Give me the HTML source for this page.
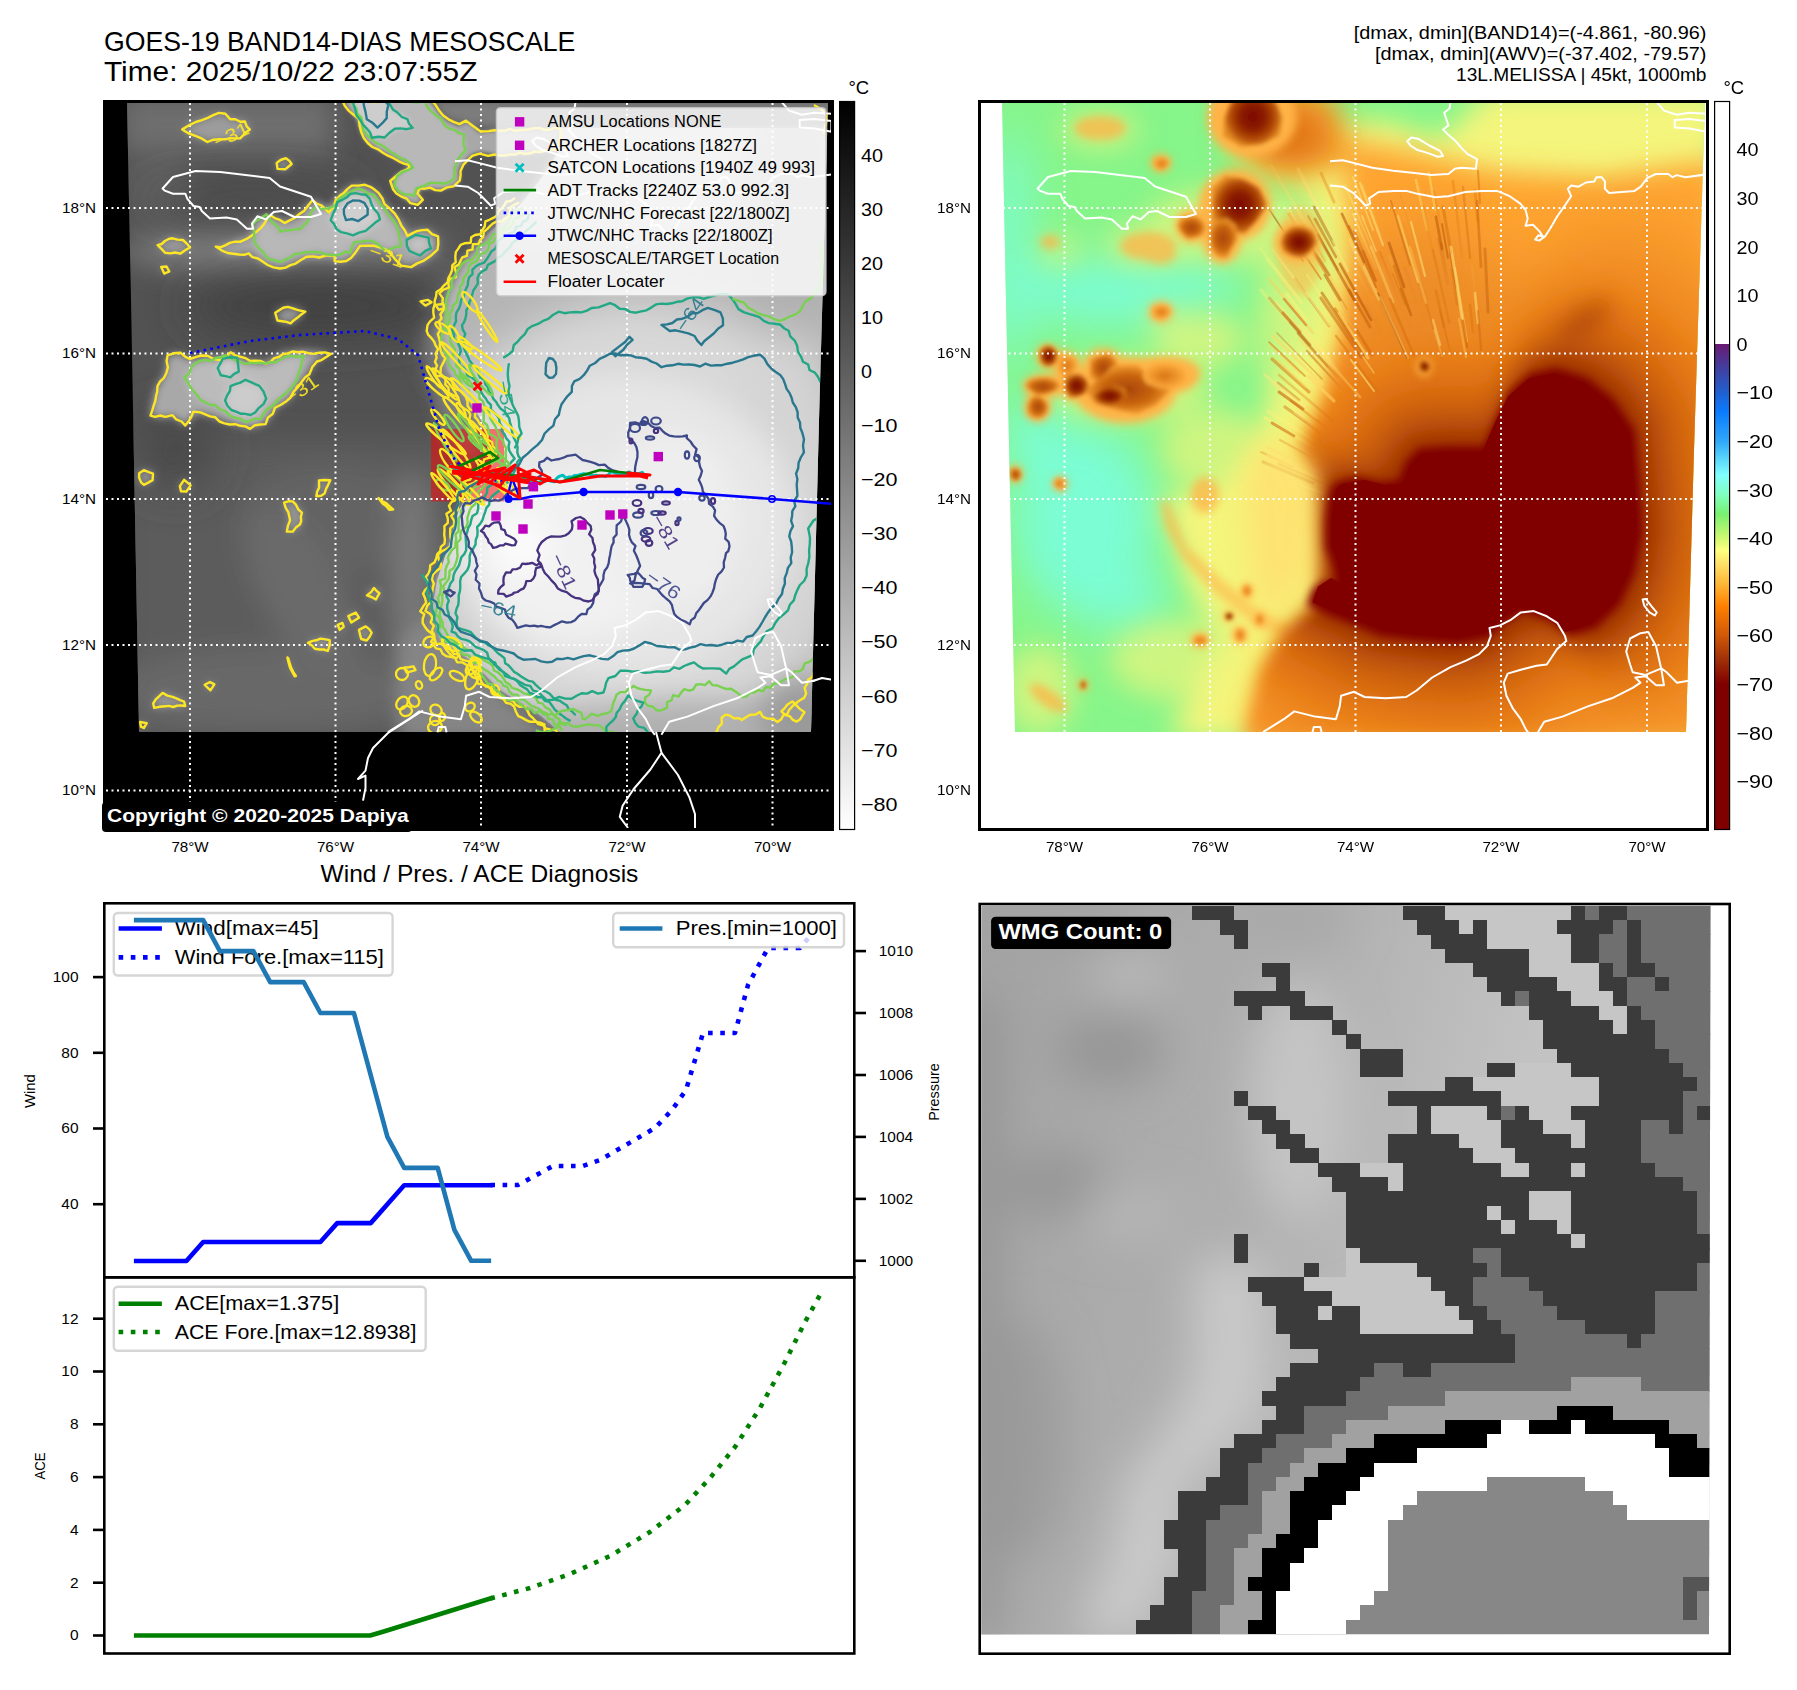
<!DOCTYPE html><html><head><meta charset="utf-8"><title>GOES-19 MESOSCALE</title>
<style>html,body{margin:0;padding:0;background:#fff}svg{display:block}text{font-family:"Liberation Sans",sans-serif}</style></head><body>
<svg width="1797" height="1690" viewBox="0 0 1797 1690">
<rect width="1797" height="1690" fill="#fff"/>
<text x="104.0" y="50.9" font-size="27.56" textLength="471.3" lengthAdjust="spacingAndGlyphs" fill="#000">GOES-19 BAND14-DIAS MESOSCALE</text>
<text x="104.0" y="80.9" font-size="27.56" textLength="373.4" lengthAdjust="spacingAndGlyphs" fill="#000">Time: 2025/10/22 23:07:55Z</text>
<text x="1353.7" y="39.1" font-size="18.34" textLength="352.8" lengthAdjust="spacingAndGlyphs" fill="#000">[dmax, dmin](BAND14)=(-4.861, -80.96)</text>
<text x="1374.9" y="59.9" font-size="18.34" textLength="331.6" lengthAdjust="spacingAndGlyphs" fill="#000">[dmax, dmin](AWV)=(-37.402, -79.57)</text>
<text x="1456.1" y="80.9" font-size="18.34" textLength="250.4" lengthAdjust="spacingAndGlyphs" fill="#000">13L.MELISSA | 45kt, 1000mb</text>
<text x="320.6" y="882.0" font-size="23.96" textLength="317.8" lengthAdjust="spacingAndGlyphs" fill="#000">Wind / Pres. / ACE Diagnosis</text>
<g id="p1">
<defs><clipPath id="c1"><path d="M127 103 L828 103 L819 420 L811 732 L139 732 L131 300 Z"/></clipPath>
<clipPath id="c1ax"><rect x="106" y="103" width="726" height="726"/></clipPath>
<linearGradient id="cb1" x1="0" y1="0" x2="0" y2="1"><stop offset="0" stop-color="#000"/><stop offset="1" stop-color="#fff"/></linearGradient></defs>
<rect x="104.5" y="101.5" width="728" height="728" fill="#000"/>
<g clip-path="url(#c1)">
<rect x="106" y="103" width="726" height="630" fill="#525252"/>
<g filter="url(#b14)" fill="#6b6b6b">
<rect x="120" y="95" width="215" height="58" fill="#6e6e6e"/>
<ellipse cx="285" cy="250" rx="165" ry="24" fill="#7a7a7a"/>
<ellipse cx="160" cy="190" rx="35" ry="30" fill="#626262"/>
<ellipse cx="455" cy="330" rx="28" ry="55" fill="#767676"/>
<rect x="120" y="440" width="340" height="300" fill="#5b5b5b"/>
<ellipse cx="330" cy="520" rx="90" ry="55" fill="#646464"/><ellipse cx="270" cy="690" rx="160" ry="45" fill="#686868"/><ellipse cx="300" cy="590" rx="40" ry="90" fill="#6a6a6a" transform="rotate(-30 300 590)"/>
<ellipse cx="412" cy="570" rx="22" ry="100" fill="#787878"/>
</g>
<g filter="url(#b22)" fill="#404040">
<ellipse cx="320" cy="306" rx="135" ry="30"/><ellipse cx="250" cy="200" rx="110" ry="16" fill="#484848"/><ellipse cx="175" cy="450" rx="40" ry="40" fill="#4a4a4a"/>
</g>
<g filter="url(#b8)" fill="#858585">
<polygon points="400.0,640.0 430.0,610.0 470.0,660.0 500.0,690.0 560.0,740.0 400.0,740.0 395.0,700.0"/>
<polygon points="428.0,330.0 470.0,300.0 500.0,330.0 500.0,430.0 470.0,470.0 445.0,440.0 430.0,380.0" fill="#7d7d7d"/>
</g>
<g filter="url(#b4)">
<polygon points="182.7,130.1 190.2,125.1 207.7,117.5 225.2,113.8 230.2,120.1 245.3,121.3 250.3,130.1 240.3,137.6 225.2,140.1 207.7,141.3 195.2,136.3" fill="#9c9c9c"/>
<polygon points="306.5,257.5 319.5,258.8 332.5,256.0 335.0,262.7 345.6,260.0 354.7,253.6 360.0,245.8 373.0,247.0 391.0,253.6 401.5,264.0 410.6,265.3 423.7,261.4 430.0,256.2 436.7,249.7 436.7,238.0 427.6,230.0 417.0,231.5 408.0,235.4 402.8,225.0 393.7,214.5 384.6,204.0 378.0,193.7 365.0,186.0 352.0,186.0 339.0,195.0 330.0,210.6 322.0,205.0 312.0,200.0 300.0,215.0 285.0,222.0 270.0,215.0 258.0,232.0 240.0,240.0 215.0,248.0 228.0,255.0 250.0,252.0 262.0,262.0 280.0,268.0 295.0,262.0" fill="#a6a6a6"/>
<polygon points="150.1,415.6 155.1,390.5 165.1,373.0 167.6,355.5 180.2,353.0 190.2,360.5 207.7,355.5 220.2,360.5 230.2,353.0 245.3,360.5 265.3,363.0 282.8,353.0 302.9,350.5 330.4,353.0 315.4,360.5 307.9,373.0 297.9,385.5 290.4,398.0 275.3,408.1 265.3,423.1 250.3,428.1 230.2,423.1 210.2,415.6 195.2,413.1 185.2,425.6 172.6,415.6 165.1,418.1" fill="#a8a8a8"/>
<polygon points="157.6,245.3 172.6,237.8 182.7,240.3 190.2,247.8 180.2,252.8 165.1,252.8" fill="#9a9a9a"/>
<polygon points="275.3,312.9 287.8,306.6 305.4,311.6 297.9,317.9 290.4,324.2 277.8,320.4" fill="#9a9a9a"/>
<polygon points="276.6,162.6 285.3,158.9 291.6,163.9 285.3,170.1 277.8,168.9" fill="#9a9a9a"/>
<polygon points="161.4,267.8 166.4,266.6 168.9,270.8 164.6,273.3" fill="#9a9a9a"/>
<polygon points="420.6,301.6 428.1,299.9 431.8,302.9 425.6,305.4" fill="#9a9a9a"/>
<polygon points="435.6,305.4 443.1,304.1 445.6,307.4 439.4,309.1" fill="#9a9a9a"/>
<polygon points="138.8,472.5 143.8,470.0 153.9,473.8 152.6,480.1 143.8,485.1 140.1,482.6" fill="#9a9a9a"/>
<polygon points="180.2,486.3 183.9,480.1 190.2,485.1 186.4,491.3 181.4,491.3" fill="#9a9a9a"/>
<polygon points="284.1,502.6 292.9,501.3 301.6,512.6 300.4,525.1 292.9,531.4 286.6,531.4 290.4,520.1 287.8,512.6" fill="#9a9a9a"/>
<polygon points="319.2,481.3 329.2,480.1 327.9,485.1 324.2,492.6 316.6,496.3 319.2,487.6" fill="#9a9a9a"/>
<polygon points="307.9,642.8 320.4,639.1 330.4,640.3 327.9,650.4 315.4,647.8" fill="#9a9a9a"/>
<polygon points="359.2,630.3 365.5,626.6 371.7,632.8 366.7,640.3 360.5,639.1" fill="#9a9a9a"/>
<polygon points="348.0,615.3 355.5,612.8 359.2,617.8 350.5,622.8" fill="#9a9a9a"/>
<polygon points="366.7,595.3 374.2,587.7 380.5,594.0 375.5,600.3" fill="#9a9a9a"/>
<polygon points="152.6,702.9 162.6,692.9 172.6,696.7 183.9,701.7 185.2,706.7 165.1,706.7 153.9,708.0" fill="#9a9a9a"/>
<polygon points="205.2,685.4 210.2,681.7 214.0,684.2 210.2,690.4" fill="#9a9a9a"/>
<polygon points="289.1,657.9 291.6,667.9 295.9,676.6 293.4,676.6 290.4,667.9 287.8,658.4" fill="#9a9a9a"/>
<polygon points="378.0,498.8 385.5,503.8 393.0,510.1 389.3,509.6 381.8,503.8" fill="#9a9a9a"/>
<polygon points="140.1,721.7 146.3,723.0 143.8,728.0 140.1,726.7" fill="#9a9a9a"/>
<polygon points="337.9,625.3 342.9,622.8 344.2,627.8 339.9,629.8" fill="#9a9a9a"/>
<polygon points="404.3,667.9 413.1,666.6 415.6,670.4 406.8,672.4" fill="#9a9a9a"/>
<polygon points="252.8,225.2 265.3,215.2 280.3,232.7 302.9,230.2 315.4,207.7 330.4,207.7 342.9,195.2 358.0,190.2 373.0,195.2 385.5,210.2 398.0,232.7 400.5,245.3 385.5,250.3 370.5,240.3 355.5,242.8 350.5,252.8 330.4,255.3 315.4,250.3 295.4,255.3 280.3,262.8 265.3,257.8 255.3,245.3" fill="#b8b8b8"/>
<polygon points="185.2,378.0 195.2,363.0 210.2,360.5 225.2,355.5 240.3,363.0 265.3,365.5 285.3,358.0 302.9,355.5 300.4,368.0 295.4,383.0 285.3,395.5 270.3,405.6 260.3,418.1 245.3,423.1 230.2,415.6 215.2,405.6 200.2,400.5 190.2,390.5" fill="#bbbbbb"/>
<polygon points="330.4,220.2 337.9,202.7 350.5,192.7 365.5,195.2 375.5,207.7 380.5,220.2 365.5,230.2 353.0,235.3 340.4,232.7" fill="#cfcfcf"/>
<polygon points="225.2,400.5 230.2,385.5 245.3,380.5 260.3,385.5 265.3,398.0 255.3,413.1 240.3,415.6 230.2,410.6" fill="#cccccc"/>
<polygon points="217.7,368.0 222.7,358.0 235.3,358.0 237.8,370.5 230.2,378.0 220.2,375.5" fill="#cccccc"/>
<polygon points="406.8,240.3 415.6,235.3 428.1,237.8 430.6,247.8 420.6,254.0 410.6,250.3" fill="#c4c4c4"/>
</g>
<defs><clipPath id="c1r"><polygon points="520.0,205.0 490.0,232.0 462.0,262.0 446.0,295.0 440.0,330.0 447.0,370.0 469.0,400.0 487.0,430.0 499.0,455.0 477.0,480.0 459.0,510.0 449.0,545.0 437.0,580.0 432.0,610.0 440.0,640.0 470.0,660.0 500.0,690.0 540.0,715.0 560.0,732.0 560.0,740.0 840.0,740.0 840.0,128.0 560.0,128.0 560.0,150.0 540.0,180.0"/></clipPath></defs>
<polygon points="430.0,100.0 447.0,120.0 473.0,126.0 500.0,130.0 560.0,128.0 840.0,128.0 840.0,100.0" fill="#7c7c7c" filter="url(#b4)"/>
<polygon points="343.0,100.0 349.5,110.4 357.3,119.5 361.0,132.5 367.7,143.0 378.0,149.5 388.5,154.7 399.0,161.0 409.3,165.0 408.0,169.0 396.3,175.5 391.0,180.7 393.7,188.5 401.5,196.3 410.6,202.8 417.0,204.0 422.4,200.0 418.5,193.7 419.8,189.8 430.0,188.5 440.6,189.8 453.6,186.0 460.0,180.7 458.8,170.3 462.7,163.8 471.8,154.7 479.6,152.0 488.8,153.4 500.0,156.0 560.0,150.0 560.0,128.0 500.0,130.0 488.8,131.0 479.6,132.5 473.0,126.0 466.6,122.0 458.8,126.0 447.0,120.8 438.0,111.7 430.0,100.0" fill="#a8a8a8" filter="url(#b2)"/>
<polygon points="350.0,100.0 360.0,118.0 366.0,135.0 380.0,146.0 400.0,157.0 412.0,166.0 398.0,176.0 395.0,186.0 404.0,195.0 414.0,196.0 416.0,188.0 430.0,184.0 445.0,185.0 455.0,178.0 453.0,168.0 458.0,160.0 466.0,150.0 464.0,135.0 455.0,130.0 445.0,125.0 436.0,115.0 425.0,100.0" fill="#b8b8b8" filter="url(#b2)"/>
<polygon points="352.0,100.0 362.0,125.0 372.0,138.0 385.0,138.0 395.0,130.0 412.0,128.0 408.0,118.0 392.0,110.0 385.0,100.0" fill="#cdcdcd" filter="url(#b2)"/>
<polygon points="520.0,205.0 490.0,232.0 462.0,262.0 446.0,295.0 440.0,330.0 447.0,370.0 469.0,400.0 487.0,430.0 499.0,455.0 477.0,480.0 459.0,510.0 449.0,545.0 437.0,580.0 432.0,610.0 440.0,640.0 470.0,660.0 500.0,690.0 540.0,715.0 560.0,732.0 560.0,740.0 840.0,740.0 840.0,128.0 560.0,128.0 560.0,150.0 540.0,180.0" fill="#b4b4b4" filter="url(#b4)"/>
<g clip-path="url(#c1r)">
<g filter="url(#b14)">
<ellipse cx="640" cy="170" rx="200" ry="80" fill="#c6c6c6"/>
<ellipse cx="790" cy="230" rx="50" ry="140" fill="#b0b0b0"/>
</g>
<g filter="url(#b22)">
<ellipse cx="640" cy="520" rx="225" ry="220" fill="#d8d8d8"/><ellipse cx="790" cy="500" rx="60" ry="170" fill="#d4d4d4"/>
</g>
<g filter="url(#b14)">
<ellipse cx="625" cy="525" rx="172" ry="150" fill="#e6e6e6"/>
<ellipse cx="575" cy="555" rx="105" ry="85" fill="#f1f1f1"/><ellipse cx="670" cy="520" rx="70" ry="90" fill="#eeeeee"/>
<ellipse cx="520" cy="545" rx="30" ry="30" fill="#fbfbfb"/>
</g>
<g filter="url(#b14)"><ellipse cx="700" cy="745" rx="200" ry="45" fill="#b0b0b0"/><ellipse cx="800" cy="720" rx="40" ry="40" fill="#9a9a9a"/></g>
</g>
</g>
<rect x="431" y="429" width="73" height="72.4" fill="#ff0000" fill-opacity="0.5"/>
<g clip-path="url(#c1ax)" stroke="#fff" stroke-width="2" stroke-dasharray="2 3.5" fill="none">
<line x1="190" x2="190" y1="103" y2="829"/>
<line x1="335.5" x2="335.5" y1="103" y2="829"/>
<line x1="481" x2="481" y1="103" y2="829"/>
<line x1="627" x2="627" y1="103" y2="829"/>
<line x1="772.5" x2="772.5" y1="103" y2="829"/>
<line x1="106" x2="832" y1="208" y2="208"/>
<line x1="106" x2="832" y1="353.5" y2="353.5"/>
<line x1="106" x2="832" y1="499" y2="499"/>
<line x1="106" x2="832" y1="645" y2="645"/>
<line x1="106" x2="832" y1="790.5" y2="790.5"/>
</g>
<g clip-path="url(#c1)" fill="none" stroke-linejoin="round" stroke-linecap="round">
<polygon points="182.2,129.4 190.0,124.8 195.8,122.0 201.9,120.1 207.8,117.9 213.3,115.2 218.9,112.9 225.3,113.7 230.3,119.2 235.4,119.2 240.2,121.7 244.9,121.5 246.7,126.3 249.9,129.6 244.8,133.2 240.4,138.3 235.2,138.4 230.0,138.1 225.2,139.4 219.3,139.3 213.5,139.7 207.4,142.0 201.6,138.4 195.4,135.9 188.8,133.5" stroke="#fde725" stroke-width="2.4"/>
<polygon points="306.6,256.7 313.2,256.4 319.2,257.5 325.6,255.6 334.7,255.2 334.6,261.1 340.4,261.8 346.3,261.0 351.0,258.0 354.7,253.6 360.0,245.9 366.6,245.7 373.5,245.7 379.7,247.3 385.7,249.5 390.8,253.8 395.4,259.6 401.3,265.6 411.1,267.1 417.2,263.4 423.3,260.9 430.1,256.3 437.5,249.7 438.3,243.8 438.1,236.4 432.0,234.1 427.6,229.8 422.2,230.1 416.8,231.1 407.3,235.8 404.9,230.4 401.6,226.1 398.6,219.4 394.8,213.6 389.9,208.6 384.5,204.1 382.3,198.2 378.5,192.9 374.5,189.6 370.4,186.8 365.0,184.8 358.5,185.6 351.7,185.6 347.6,188.9 343.9,192.9 340.0,195.6 335.7,200.0 334.1,206.0 328.8,212.4 321.7,205.7 316.5,203.5 312.4,200.3 308.3,205.2 304.6,210.4 299.5,213.9 295.1,217.6 290.2,220.1 284.5,223.1 279.9,219.9 274.6,218.1 270.8,215.5 266.8,219.1 264.3,223.7 261.0,227.8 257.5,230.8 252.2,235.2 246.7,238.9 240.6,241.7 235.0,241.7 229.9,242.9 225.2,245.4 220.3,247.3 215.7,246.6 222.0,250.6 227.7,253.0 233.4,253.8 239.1,254.5 244.8,254.7 248.8,253.4 252.4,257.2 258.1,258.5 262.2,261.3 267.7,265.0 273.5,267.4 280.2,268.5 285.6,267.6 290.5,265.2 295.6,263.6 300.9,260.0" stroke="#fde725" stroke-width="2.4"/>
<polygon points="150.5,415.6 152.1,410.8 153.6,405.8 155.3,401.0 156.1,395.9 157.2,391.7 157.5,386.1 160.0,381.7 163.8,378.0 166.3,373.2 167.9,367.4 166.6,361.3 167.6,355.3 173.7,353.3 180.4,352.7 185.1,356.7 189.8,359.0 195.5,357.1 201.4,355.5 207.6,355.8 213.6,359.0 219.9,360.1 225.6,357.3 230.6,352.3 235.3,355.4 240.8,356.9 245.6,358.2 250.3,361.0 255.4,360.8 260.5,360.9 265.7,363.6 270.5,361.9 274.2,358.2 279.2,356.8 283.0,354.0 288.0,353.4 292.8,351.4 298.0,352.3 302.8,351.7 308.2,353.1 313.7,353.9 319.3,352.7 324.9,352.4 330.9,353.9 326.2,357.0 321.5,360.1 317.0,361.5 312.3,367.1 309.4,374.2 305.0,377.5 301.8,381.8 298.8,386.1 293.7,391.6 290.3,397.9 285.6,401.8 280.5,405.0 274.9,407.8 272.9,413.7 267.9,417.6 265.6,424.1 260.2,424.5 254.9,425.3 250.1,428.9 245.4,426.4 240.2,425.8 235.3,424.2 229.7,424.5 224.4,423.3 219.4,421.5 215.3,417.3 210.1,416.4 205.3,414.4 200.5,412.4 193.4,411.6 191.3,416.8 188.5,421.4 185.2,425.5 181.6,421.5 176.3,419.5 172.5,415.2 165.3,416.9 160.4,415.5 155.0,416.9" stroke="#fde725" stroke-width="2.4"/>
<polygon points="342.2,100.5 344.9,106.0 348.9,110.9 353.6,114.7 359.0,119.0 359.6,125.9 361.3,132.3 363.8,138.1 367.7,143.0 372.4,147.0 378.1,149.3 382.9,152.8 387.9,155.7 393.6,158.2 398.9,161.3 403.9,163.7 409.8,165.2 408.1,169.1 401.7,171.5 396.5,175.7 390.2,181.0 393.0,189.2 396.4,193.6 401.3,196.6 406.7,198.7 410.5,203.2 417.7,204.9 422.8,199.8 417.5,193.4 419.6,188.3 424.8,188.7 430.1,187.6 435.2,190.1 440.8,190.6 447.0,187.4 453.7,186.2 459.7,180.7 460.6,175.4 460.5,171.3 463.5,164.6 468.0,160.0 472.2,155.9 479.4,153.6 488.2,155.8 494.4,154.5 499.9,155.5 505.0,155.5 509.9,154.4 515.0,154.5 519.9,152.7 525.0,154.0 530.0,153.3 534.9,151.5 540.0,152.0 544.9,150.9 549.9,149.7 554.9,149.7 558.4,150.0 558.2,144.5 560.2,139.0 560.7,133.5 560.0,129.2 555.0,127.9 550.0,129.7 545.0,129.8 540.0,128.1 535.0,128.1 530.0,129.2 525.0,129.7 520.0,130.0 515.1,131.0 510.0,128.9 505.0,130.8 500.1,130.8 494.4,130.2 488.8,131.1 480.6,131.5 473.0,126.0 465.9,120.6 459.6,124.1 453.6,121.8 448.5,119.3 443.2,115.5 439.3,110.8 435.5,104.8 430.0,98.9 424.9,99.5 419.8,99.1 414.6,99.8 409.5,101.2 404.4,99.9 399.3,100.7 394.2,100.4 389.1,99.3 383.9,100.7 378.8,101.9 373.7,102.3 368.6,101.0 363.5,101.0 358.4,101.3 353.2,100.9 348.1,99.1" stroke="#fde725" stroke-width="2.4"/>
<polygon points="252.4,224.8 256.1,220.8 260.9,218.3 266.5,214.2 269.6,219.1 273.5,223.4 278.0,227.1 280.2,231.8 285.7,230.1 291.5,230.2 297.0,228.8 300.7,229.0 304.0,225.0 308.0,221.3 309.4,216.2 311.6,211.5 315.4,207.3 320.4,208.9 325.4,208.6 330.5,207.8 335.7,204.7 338.4,199.0 343.2,196.0 347.9,193.3 352.6,190.7 358.6,188.4 363.5,190.3 368.0,193.6 373.7,194.6 377.4,200.0 381.1,205.4 385.7,210.1 388.0,214.7 391.7,218.6 394.9,222.7 397.4,227.2 398.6,232.6 399.8,238.9 400.8,246.1 395.6,247.2 390.6,248.9 385.1,250.9 380.8,246.5 376.0,242.8 370.5,240.6 365.5,241.0 360.5,241.8 354.3,242.2 351.7,247.1 350.4,252.7 345.2,251.8 340.5,254.4 335.5,255.1 330.6,254.7 325.2,254.4 320.3,252.4 315.8,252.0 310.5,251.9 305.2,252.2 300.2,253.5 294.7,253.9 290.2,257.6 285.0,259.6 280.6,262.1 275.5,260.5 270.4,259.3 266.2,257.0 263.6,252.3 259.5,248.8 256.4,245.1 253.9,240.4 254.2,235.2 254.0,230.2" stroke="#7ad151" stroke-width="2.4"/>
<polygon points="184.4,377.5 189.3,373.5 191.3,367.6 195.2,363.3 200.0,361.0 205.0,359.9 210.5,361.2 215.1,358.3 220.3,357.3 225.2,355.4 230.3,357.8 235.3,360.4 240.4,361.9 245.2,364.0 250.4,362.9 255.4,363.1 260.5,362.7 264.6,363.6 269.8,362.3 275.5,362.2 280.3,359.7 285.2,356.7 291.0,355.7 297.1,357.0 303.8,355.7 301.8,361.8 300.8,368.1 298.5,372.9 297.4,378.1 295.0,382.8 291.9,387.1 288.2,391.0 284.4,394.2 279.7,397.9 275.6,402.6 271.6,406.6 266.6,409.4 263.4,413.7 260.6,418.9 255.0,418.8 250.0,420.7 245.8,422.0 241.1,418.9 235.4,417.8 230.1,415.8 225.8,411.3 219.9,409.4 215.4,405.1 209.9,404.8 205.2,402.2 200.7,400.1 196.5,394.3 192.1,389.7 188.8,383.8" stroke="#7ad151" stroke-width="2.4"/>
<polygon points="350.1,99.9 352.9,104.3 356.2,108.3 357.2,113.7 361.3,117.5 362.7,123.4 363.2,129.6 366.5,134.3 370.9,138.4 375.2,142.5 380.7,144.8 385.5,147.8 390.0,151.5 395.1,154.1 399.6,157.5 404.4,159.4 408.7,162.0 413.1,167.6 407.9,170.2 402.2,172.0 397.3,175.8 395.3,180.6 394.8,186.2 398.8,191.2 404.1,194.3 409.1,194.4 414.0,196.0 416.2,188.7 423.0,186.1 430.1,182.8 435.1,182.9 440.1,183.0 444.1,183.7 450.0,181.6 454.1,178.2 454.7,172.9 454.4,168.9 457.6,159.7 461.5,154.6 465.6,150.1 463.6,145.2 463.5,140.2 464.3,134.4 459.1,133.3 454.9,130.2 449.4,128.7 444.7,125.3 441.2,119.3 435.7,115.2 430.9,111.1 426.8,106.4 425.0,101.1 420.0,102.2 415.0,102.5 410.0,101.4 405.0,99.4 400.0,99.9 395.0,100.3 390.0,99.7 385.0,101.1 380.0,100.4 375.0,101.3 370.0,100.3 365.0,98.7 360.0,100.7 355.0,100.2" stroke="#7ad151" stroke-width="2.4"/>
<polygon points="330.6,220.3 332.8,214.3 335.6,208.6 337.4,202.0 342.4,199.8 347.1,197.1 350.3,193.9 355.5,193.1 360.5,194.2 366.0,194.8 369.7,198.6 371.5,204.0 373.6,208.5 378.3,213.8 380.0,219.4 375.0,222.8 370.4,226.8 365.7,230.8 359.1,232.6 353.0,235.3 346.8,233.4 341.1,232.2 336.5,229.0 334.1,224.1" stroke="#22a884" stroke-width="2.4"/>
<polygon points="225.1,400.5 227.0,395.6 229.9,391.0 230.5,386.2 235.4,384.2 240.4,382.6 245.5,379.8 250.4,381.8 255.2,384.1 259.3,385.9 263.5,391.5 266.2,398.6 263.5,404.1 258.7,408.1 255.2,412.5 250.5,415.0 245.1,413.8 241.2,413.8 236.0,411.6 231.4,410.0 227.4,405.7" stroke="#22a884" stroke-width="2.4"/>
<polygon points="217.7,368.0 220.6,363.2 222.7,358.8 229.0,357.3 237.2,357.6 238.0,363.9 238.8,371.6 233.9,374.1 230.4,377.3 225.4,376.1 220.8,375.3" stroke="#22a884" stroke-width="2.4"/>
<polygon points="352.7,99.7 353.8,105.1 355.4,110.3 356.6,115.6 360.2,119.9 362.8,124.4 366.6,128.3 370.1,132.6 372.0,137.8 378.5,136.7 384.6,137.5 389.2,133.0 394.8,128.7 400.6,128.4 406.4,129.2 412.6,127.8 408.9,123.4 407.4,119.2 401.8,117.0 397.4,112.5 392.9,109.4 389.8,104.1 385.0,98.1 379.5,98.2 374.0,97.6 368.5,97.7 363.0,99.5 357.5,98.6" stroke="#22a884" stroke-width="2.4"/>
<polygon points="363.2,99.6 364.0,106.0 365.6,112.1 366.8,119.2 372.9,123.1 377.5,127.6 382.3,123.2 386.7,118.1 386.8,111.5 388.4,104.7 384.0,100.1 378.5,99.2 373.0,100.8 367.5,101.3" stroke="#2a788e" stroke-width="2.4"/>
<polygon points="343.8,208.9 347.5,203.4 352.9,200.5 359.4,200.6 364.4,202.9 367.7,208.8 367.6,214.7 362.4,218.2 358.3,221.1 352.2,219.0 346.0,220.1 344.0,214.0" stroke="#2a788e" stroke-width="2.4"/>
<polygon points="406.6,239.9 411.0,237.5 415.7,234.8 421.9,236.1 428.6,237.6 429.1,242.8 430.9,248.3 425.5,250.8 420.0,255.5 415.1,253.5 409.3,250.8 406.9,245.9" stroke="#22a884" stroke-width="2.4"/>
<polygon points="157.6,245.2 161.7,244.0 164.9,241.0 168.6,239.0 172.5,238.3 177.5,239.6 182.9,240.0 186.8,243.6 190.0,247.4 185.1,250.2 180.2,253.7 175.1,252.5 170.1,253.4 165.1,252.8 161.5,248.9" stroke="#fde725" stroke-width="2.4"/>
<polygon points="275.2,312.7 279.2,310.2 283.2,307.8 287.8,306.9 292.1,308.2 296.5,309.7 300.9,310.8 305.4,311.6 301.3,314.4 297.6,317.6 293.6,320.4 290.6,323.4 286.5,321.9 282.1,321.2 277.4,320.5" stroke="#fde725" stroke-width="2.4"/>
<polygon points="276.7,162.9 280.6,160.0 285.9,158.2 289.1,160.6 291.7,164.0 288.3,166.8 285.5,169.2 277.5,168.9" stroke="#fde725" stroke-width="2.4"/>
<polygon points="161.2,266.9 166.5,266.5 169.3,271.5 164.2,273.6" stroke="#fde725" stroke-width="2.4"/>
<polygon points="420.5,301.4 428.1,299.9 431.6,302.2 425.4,305.6" stroke="#fde725" stroke-width="2.4"/>
<polygon points="435.5,304.9 443.3,304.0 445.9,308.3 438.7,309.7" stroke="#fde725" stroke-width="2.4"/>
<polygon points="139.2,473.2 143.8,470.2 148.7,472.2 153.0,473.6 152.6,480.1 148.2,482.6 143.9,484.9 141.1,482.4 139.1,477.6" stroke="#fde725" stroke-width="2.4"/>
<polygon points="179.9,486.2 184.1,479.8 187.2,482.4 190.6,485.3 186.4,491.5 181.1,491.4" stroke="#fde725" stroke-width="2.4"/>
<polygon points="284.1,502.7 288.4,501.3 292.8,501.4 296.1,504.9 298.2,509.3 301.9,512.6 300.8,516.7 301.2,521.0 299.9,524.6 295.9,527.4 292.9,531.6 286.8,531.5 288.0,525.6 290.1,520.2 288.4,512.4 285.6,507.7" stroke="#fde725" stroke-width="2.4"/>
<polygon points="319.0,480.4 324.1,480.0 330.3,480.3 328.0,485.1 326.1,488.8 324.6,493.4 321.0,495.7 316.3,496.2 317.1,491.7 319.1,487.6" stroke="#fde725" stroke-width="2.4"/>
<polygon points="307.9,642.8 311.9,641.1 316.2,640.3 320.5,638.6 325.5,639.4 329.7,640.1 329.6,645.4 327.8,650.9 323.7,649.5 319.4,649.5 314.8,648.8 311.7,645.3" stroke="#fde725" stroke-width="2.4"/>
<polygon points="359.0,629.9 365.7,626.4 369.2,629.1 371.6,632.7 369.6,636.8 366.7,640.5 361.2,639.0 360.1,634.7" stroke="#fde725" stroke-width="2.4"/>
<polygon points="348.3,616.2 355.8,612.6 359.1,617.6 354.8,620.2 351.3,622.5" stroke="#fde725" stroke-width="2.4"/>
<polygon points="366.9,595.4 371.1,592.1 374.0,588.0 376.9,591.3 379.5,593.2 377.4,596.7 375.9,599.5 371.6,597.0" stroke="#fde725" stroke-width="2.4"/>
<polygon points="153.2,703.5 155.8,699.4 159.3,696.2 162.6,692.9 167.3,695.6 172.5,696.9 176.4,698.4 180.1,700.2 184.1,701.7 185.2,706.0 181.2,705.5 177.2,705.6 173.1,707.0 169.1,705.9 165.1,706.2 159.4,706.8 154.2,707.9" stroke="#fde725" stroke-width="2.4"/>
<polygon points="204.7,684.8 210.0,682.0 214.4,684.4 210.4,690.3" stroke="#fde725" stroke-width="2.4"/>
<polygon points="288.2,658.1 289.7,663.0 291.3,668.0 293.5,672.4 295.9,676.0 294.6,676.2 292.4,672.1 290.1,667.9 288.7,663.2 287.4,657.4" stroke="#fde725" stroke-width="2.4"/>
<polygon points="378.5,498.1 381.9,501.1 386.2,503.0 389.7,506.5 393.1,509.5 389.2,509.7 386.1,506.0 382.4,503.4" stroke="#fde725" stroke-width="2.4"/>
<polygon points="140.1,721.9 146.8,723.2 143.8,728.0 141.0,726.7" stroke="#fde725" stroke-width="2.4"/>
<polygon points="337.7,624.8 342.4,622.9 343.7,626.7 339.7,629.9" stroke="#fde725" stroke-width="2.4"/>
<polygon points="404.2,667.5 408.7,667.2 413.5,666.4 415.5,670.1 411.2,671.3 406.6,672.5" stroke="#fde725" stroke-width="2.4"/>
<polyline points="514.2,198.5 510.8,200.9 506.1,201.8 504.1,205.6 501.4,208.7 498.2,211.3 496.7,215.7 493.2,217.9 489.5,219.8 485.4,221.4 484.7,226.5 482.2,230.0 480.4,234.2 475.0,235.0 471.2,237.3 470.7,242.7 465.0,243.2 460.6,244.9 458.3,248.6 455.8,252.1 455.3,257.2 455.7,262.2 452.3,265.4 452.1,270.2 450.4,274.2 448.4,278.1 447.5,282.5 443.8,285.6 441.1,289.1 436.5,292.1 436.1,296.3 434.8,300.4 434.6,304.7 433.3,308.8 433.4,313.2 434.2,317.7 430.1,321.3 427.5,325.2 426.7,330.9 428.1,334.7 431.5,338.2 434.2,341.7 435.6,345.5 438.1,349.2 435.6,353.7 436.7,357.5 435.0,361.9 437.1,365.6 435.2,370.0 435.7,375.6 442.0,376.4 445.6,379.1 445.3,384.7 448.4,387.7 448.8,392.8 453.0,395.1 458.0,396.8 459.2,401.3 460.2,405.8 464.2,408.4 468.3,410.9 470.3,414.7 469.1,420.4 470.5,424.5 475.6,426.5 478.7,429.6 482.2,432.5 485.3,435.8 484.2,441.5 487.8,444.5 488.8,449.0 490.8,453.8 488.9,457.9 484.2,459.3 483.0,463.9 478.7,465.7 477.4,470.3 474.0,472.9 472.1,476.1 470.1,479.7 464.4,481.1 461.2,484.0 461.1,488.7 457.1,491.1 457.4,496.1 455.7,499.8 451.4,502.1 449.0,506.0 451.0,510.8 446.4,513.8 447.8,518.5 447.8,522.9 444.4,526.2 444.5,530.5 444.2,534.8 444.9,539.3 444.5,543.7 440.9,546.9 440.2,551.0 437.1,554.4 436.2,558.4 434.6,562.3 430.2,565.2 429.9,569.5 428.6,573.4 425.5,577.3 428.0,581.9 429.2,586.3 425.1,589.8 423.1,593.7 425.1,598.2 426.2,602.6 423.3,606.3 420.3,611.2 424.3,614.3 422.7,618.9 422.7,623.1 424.8,626.7 427.5,630.2 431.3,633.3 434.3,636.6 431.1,641.7 433.5,644.5 436.0,648.3 440.5,649.3 442.6,653.7 446.1,656.1 450.6,656.9 455.0,657.9 457.2,662.2 462.2,662.4 466.4,664.8 468.2,669.0 469.3,673.9 472.3,677.0 476.7,678.6 477.8,683.6 482.8,684.6 487.6,685.8 490.6,688.8 492.9,692.6 496.4,693.9 500.2,696.0 503.4,699.1 506.1,702.9 510.7,703.8 514.1,706.5 515.9,711.7 518.3,716.1 522.3,717.9 526.1,720.1 530.1,721.8 535.5,721.6 540.2,722.6 544.4,724.3 544.6,730.5 547.0,734.2 548.7,738.7 554.2,738.9" stroke="#fde725" stroke-width="2.4"/>
<polyline points="518.1,202.9 514.4,204.8 510.9,207.0 509.9,212.0 508.6,216.5 504.9,218.5 502.0,221.3 496.7,221.5 493.0,223.4 490.0,226.1 487.1,229.1 483.8,231.8 483.2,236.9 480.2,239.8 478.6,243.9 472.9,244.3 472.5,249.6 467.5,250.6 466.9,255.8 462.4,257.3 460.5,260.8 458.8,264.6 454.5,267.1 456.1,272.5 455.9,277.1 450.0,278.9 448.3,282.7 449.0,287.6 443.4,289.6 439.4,293.4 442.8,298.1 442.5,302.2 443.8,306.5 443.1,310.5 440.4,314.2 441.6,318.5 438.5,322.1 440.6,326.5 440.7,329.4 437.8,334.1 439.1,338.1 440.0,342.2 439.8,346.5 440.7,350.6 442.1,354.6 445.4,358.2 443.2,362.9 440.8,367.5 440.5,373.8 443.8,376.6 448.3,378.5 451.9,381.1 453.3,385.3 455.2,389.1 460.3,390.6 463.6,393.4 465.9,396.9 467.5,401.1 467.6,406.1 470.3,409.5 475.4,411.5 474.9,416.9 477.8,420.2 479.8,424.0 483.6,426.8 485.6,430.8 487.7,434.6 487.4,439.5 492.0,442.0 492.9,446.4 496.3,449.4 496.1,454.5 495.6,459.4 493.0,462.4 490.0,465.2 485.8,466.7 485.0,471.4 481.4,473.6 479.5,477.3 477.2,479.8 473.8,483.0 468.3,484.9 466.9,489.2 462.5,491.8 463.3,497.5 458.6,499.8 458.1,504.7 457.9,509.3 454.5,512.6 451.1,515.8 454.3,521.0 454.0,525.1 450.2,528.3 450.2,532.5 450.4,536.8 451.4,541.4 451.2,545.8 446.8,548.7 441.7,551.3 438.1,554.4 438.6,559.0 441.1,564.2 440.1,568.2 436.1,571.2 433.1,574.5 431.9,578.9 433.8,583.7 432.7,588.1 432.1,592.5 430.5,596.8 431.6,601.5 427.5,605.4 425.4,611.1 430.2,614.1 432.5,617.7 430.7,622.5 433.8,625.8 431.9,630.6 434.0,634.3 434.5,638.4 436.2,643.9 441.3,643.7 445.3,645.0 449.1,646.6 451.3,650.8 453.9,654.1 458.9,654.0 460.5,659.0 464.5,660.3 469.1,661.3 472.0,664.4 472.4,670.0 475.9,672.5 478.9,675.6 480.5,679.9 482.6,683.8 486.0,686.5 490.8,687.7 494.0,690.5 496.3,695.3 499.8,697.8 504.1,699.1 508.9,699.6 513.1,701.0 515.8,704.8 519.5,706.9 525.0,706.2 527.4,710.6 529.6,715.1 532.9,718.0 535.4,720.8 538.3,724.1 542.9,725.3 545.9,728.5 550.7,729.6 556.0,730.0 558.1,734.3" stroke="#fde725" stroke-width="2.4"/>
<polyline points="522.8,208.2 518.8,209.7 515.3,211.8 511.4,213.5 510.2,218.2 508.1,221.8 505.9,225.4 503.0,228.2 498.3,229.0 496.5,233.0 492.8,234.8 490.8,238.5 488.2,241.6 485.0,244.1 480.4,245.4 477.5,248.2 476.9,253.2 474.4,256.4 472.2,259.9 467.0,260.6 462.9,263.0 460.2,266.6 457.8,270.4 455.9,274.5 453.1,278.1 451.4,282.2 452.1,287.5 448.8,290.9 447.7,295.7 446.2,299.8 446.0,304.2 446.3,308.6 446.4,313.0 445.8,317.3 445.8,321.7 446.4,326.2 442.8,330.0 442.1,334.6 441.1,339.2 442.4,343.4 444.2,347.6 444.5,352.0 448.1,355.8 447.7,360.3 449.0,364.5 451.1,367.9 454.2,370.7 455.6,374.7 458.6,377.5 460.5,381.2 462.0,385.1 464.8,388.1 468.5,390.4 470.1,394.3 473.3,397.3 475.9,400.8 478.6,404.4 480.3,408.5 483.6,411.6 483.8,416.6 483.6,421.9 487.0,425.0 488.4,429.1 488.7,433.7 493.8,436.0 497.0,439.2 496.4,444.1 496.7,448.7 498.5,452.5 502.5,456.1 499.8,459.4 495.2,461.2 491.4,463.6 488.3,466.6 487.7,471.8 483.6,474.0 481.9,478.2 478.3,481.1 478.2,486.0 473.4,488.2 471.5,492.0 468.9,495.4 468.7,500.4 465.8,503.6 463.4,507.2 461.0,511.0 460.9,515.1 458.6,518.6 458.7,522.8 458.5,526.9 458.6,531.1 455.5,534.4 456.2,538.8 455.5,542.8 455.4,547.1 451.8,550.2 449.6,553.8 447.9,557.5 448.8,562.2 446.8,565.8 445.5,569.7 445.5,574.0 445.3,578.3 439.7,580.7 441.0,585.2 440.5,589.4 440.1,593.6 437.9,597.5 439.0,602.0 437.3,606.0 436.5,609.5 435.2,614.1 439.1,617.4 440.1,621.5 440.3,625.8 438.5,630.5 440.3,634.4 442.1,638.6 445.5,641.6 450.0,642.7 454.9,643.3 458.0,646.7 460.1,651.5 463.5,654.5 468.3,655.1 471.3,658.3 473.3,662.3 477.9,663.7 480.6,667.0 484.2,669.3 488.0,671.5 491.3,674.3 494.7,676.8 497.4,680.1 501.4,682.1 503.2,685.5 507.4,686.9 509.4,691.7 512.6,694.6 517.7,694.6 519.9,699.0 524.4,699.9 527.7,702.7 531.0,705.5 535.0,707.2 539.0,708.9 542.5,711.6 546.8,713.4 548.2,718.6 553.0,719.8 554.7,724.5 559.3,726.0 561.9,729.7" stroke="#7ad151" stroke-width="2.4"/>
<polyline points="527.3,213.1 522.8,214.7 519.0,217.1 514.4,218.7 512.6,223.4 510.2,227.3 505.8,229.1 502.2,231.7 499.8,235.7 495.8,237.9 493.4,241.7 489.4,243.9 488.2,248.8 485.8,252.5 480.7,253.8 478.5,257.7 476.3,261.6 471.8,263.4 468.4,266.7 468.5,271.5 466.0,275.0 463.3,278.4 463.1,283.0 460.1,286.3 459.9,290.9 458.0,294.7 457.5,298.3 456.9,302.3 452.6,305.7 452.6,309.8 449.5,313.4 450.1,317.7 449.4,321.7 447.4,325.5 446.8,330.3 450.3,333.8 450.3,338.0 450.4,342.2 452.9,346.0 455.1,349.8 452.8,354.4 453.6,358.5 455.9,362.3 456.1,366.0 459.5,369.0 460.3,373.9 463.1,377.4 467.3,379.7 468.1,384.7 472.5,386.9 475.4,390.3 479.4,393.3 479.4,398.5 483.0,401.5 484.3,405.9 487.9,409.0 489.3,413.4 490.2,418.1 492.4,422.0 495.0,425.7 496.6,429.5 498.5,433.3 499.5,437.4 503.0,440.5 504.0,444.7 506.3,448.3 505.5,453.2 505.9,455.2 505.8,460.4 504.2,464.4 500.1,466.4 497.2,469.3 496.4,474.0 492.3,475.9 488.0,477.7 486.3,481.7 484.6,485.5 482.0,488.7 478.1,491.2 477.8,495.9 476.6,499.9 475.4,504.0 471.9,506.7 469.7,510.2 468.6,513.9 467.3,518.2 467.7,522.9 466.1,527.1 461.5,530.4 460.3,534.6 460.5,539.3 457.1,542.9 457.3,547.6 457.2,551.9 457.6,556.3 456.7,560.3 455.4,564.1 453.9,567.9 449.6,570.7 449.4,574.9 448.7,579.0 446.2,582.4 443.2,586.5 444.2,591.4 442.1,595.7 442.5,600.5 441.5,605.0 440.4,609.7 439.6,614.3 440.5,618.5 442.7,622.4 442.7,626.8 445.5,630.6 447.3,634.4 449.6,638.6 453.6,640.3 456.8,643.2 461.3,644.0 463.9,647.9 467.7,649.9 472.3,650.5 474.4,654.5 478.1,656.7 481.9,658.9 485.6,661.1 489.5,663.2 492.7,666.0 494.1,670.5 498.1,672.5 501.2,675.3 503.7,678.9 505.9,682.4 509.6,684.4 512.3,688.1 516.7,689.1 520.5,691.0 524.0,693.4 528.4,694.5 532.1,696.4 536.0,698.2 538.3,702.6 542.6,703.6 545.4,707.4 549.6,709.4 552.1,713.4 555.1,716.9 559.2,719.1 561.2,723.7 565.8,725.1" stroke="#7ad151" stroke-width="2.4"/>
<polyline points="528.8,214.8 527.4,219.8 523.2,221.7 520.9,225.8 516.0,227.0 514.4,231.8 509.8,233.2 506.3,235.9 502.4,238.2 498.2,240.5 497.1,245.3 494.9,249.1 491.3,251.5 489.2,255.4 486.8,259.0 484.3,262.5 479.8,264.1 475.9,266.3 472.4,269.7 472.5,274.2 469.2,277.1 468.1,281.0 467.8,285.3 466.0,288.9 464.3,292.6 463.8,296.9 461.1,299.8 460.5,304.1 459.0,308.3 456.5,312.3 455.8,316.6 456.1,321.1 454.1,325.2 452.1,330.3 454.2,334.4 453.9,338.9 457.7,342.6 459.6,346.7 460.9,351.0 458.9,355.7 459.1,360.1 459.7,365.1 463.5,367.7 466.1,371.1 467.4,375.5 471.8,377.5 475.3,380.2 478.6,383.1 480.3,387.2 481.1,391.9 483.2,395.4 485.8,398.5 487.8,402.0 490.9,404.8 490.9,409.5 493.9,412.4 496.9,415.4 499.2,418.7 499.6,423.0 502.1,426.6 501.9,431.1 504.6,434.6 506.3,438.4 509.4,441.7 508.6,446.5 509.3,450.7 511.5,454.3 514.6,458.6 511.5,461.8 508.9,465.3 504.8,467.7 501.1,470.3 498.4,473.7 497.1,478.3 495.9,483.0 491.3,485.0 487.3,487.7 487.0,492.8 484.5,496.6 482.2,500.5 478.2,503.4 478.2,508.6 477.0,513.2 472.6,515.9 471.2,520.0 470.4,524.3 468.1,528.2 467.1,532.4 465.6,536.6 465.9,541.2 466.2,545.8 466.1,550.5 464.2,554.1 461.3,557.3 460.2,561.2 459.1,565.1 456.9,568.6 454.7,572.1 453.4,575.9 453.1,580.1 450.4,583.6 449.0,587.7 447.5,591.8 446.3,596.0 448.8,600.8 447.2,604.9 447.3,609.2 448.6,613.4 449.2,617.9 451.5,621.9 452.8,626.2 451.5,631.7 455.5,633.0 458.0,636.6 461.5,638.9 465.7,639.8 469.6,641.3 472.7,644.1 475.7,647.0 479.7,648.4 483.9,650.1 487.2,652.8 488.4,657.5 490.8,661.1 495.2,662.6 496.8,666.9 499.8,669.8 503.5,672.1 505.3,676.2 509.6,677.6 513.9,678.7 517.3,681.2 520.0,684.9 523.5,687.3 527.1,689.4 529.8,693.0 534.0,694.2 537.1,697.2 542.1,697.2 544.8,700.9 549.3,701.9 552.1,705.7 554.8,709.7 558.3,712.7 562.0,715.4 565.7,718.2 569.7,720.6" stroke="#22a884" stroke-width="2.4"/>
<polyline points="535.7,222.5 532.4,225.3 529.2,228.3 525.9,231.2 522.8,234.2 519.0,236.5 516.4,240.2 512.6,242.5 510.5,246.8 507.3,249.5 504.4,252.4 502.0,255.8 497.9,257.5 495.5,260.9 491.7,262.9 487.9,264.9 486.3,269.1 482.6,271.2 479.1,274.3 477.5,278.3 477.9,283.2 475.8,287.0 473.3,290.5 472.2,294.7 471.0,298.8 469.3,302.3 468.8,306.3 466.4,309.9 466.3,314.0 465.6,318.0 464.2,321.8 462.0,325.4 462.8,329.7 465.3,333.9 463.6,338.8 463.6,343.5 464.1,348.0 465.6,352.4 467.8,356.6 469.4,360.3 471.9,363.6 474.0,367.1 477.4,369.7 478.5,374.0 480.2,377.8 484.3,379.9 485.3,384.3 488.0,387.4 488.9,391.6 491.7,394.7 493.2,398.6 496.0,401.7 498.1,405.3 500.5,408.6 504.2,411.2 506.9,414.4 509.2,418.3 510.0,422.5 511.3,426.7 512.0,431.0 512.7,435.3 514.6,439.2 516.5,443.0 517.6,447.2 517.3,451.9 518.4,456.1 520.3,458.6 517.4,461.7 516.3,466.2 514.9,470.5 512.9,474.5 510.6,478.1 508.5,481.9 504.4,484.1 500.2,486.2 499.0,490.7 495.5,493.5 492.0,496.3 489.6,499.9 489.2,504.6 486.4,507.9 485.1,512.1 483.6,516.2 482.6,519.8 480.3,523.6 477.1,527.1 477.6,531.7 477.3,536.0 475.7,540.0 475.6,544.4 473.5,548.2 470.9,551.9 469.6,556.2 469.7,560.9 469.1,565.5 467.5,569.7 464.4,573.4 461.1,577.0 460.1,581.4 460.3,586.0 460.0,590.7 458.7,595.3 458.7,600.0 458.3,604.7 456.6,608.5 455.5,613.2 457.4,617.3 456.5,622.0 457.3,627.7 461.7,629.1 466.1,630.3 470.4,631.8 473.5,635.2 476.6,638.6 480.0,641.6 484.7,642.3 487.9,645.1 491.9,646.9 494.8,650.0 497.7,653.0 501.1,655.5 504.4,658.1 505.2,663.2 508.7,665.6 511.5,668.7 514.2,671.9 517.8,674.0 521.2,676.5 524.8,678.7 528.4,680.8 532.7,681.7 535.7,684.8 538.8,687.7 542.0,690.4 546.2,691.7 549.7,693.8 552.5,696.9 555.4,699.8 559.9,700.7 563.2,703.2 566.7,705.3 568.8,709.1 572.1,711.5 574.9,714.5" stroke="#22a884" stroke-width="2.4"/>
<ellipse cx="489" cy="451" rx="25" ry="3.8" transform="rotate(36 489 451)" stroke="#7ad151" stroke-width="2.3"/>
<ellipse cx="502" cy="423" rx="24" ry="2.9" transform="rotate(41 502 423)" stroke="#fde725" stroke-width="2.3"/>
<ellipse cx="470" cy="302" rx="12" ry="3.8" transform="rotate(54 470 302)" stroke="#fde725" stroke-width="2.3"/>
<ellipse cx="487" cy="326" rx="19" ry="2.0" transform="rotate(57 487 326)" stroke="#fde725" stroke-width="2.3"/>
<ellipse cx="454" cy="487" rx="24" ry="3.9" transform="rotate(48 454 487)" stroke="#fde725" stroke-width="2.3"/>
<ellipse cx="453" cy="479" rx="20" ry="3.8" transform="rotate(42 453 479)" stroke="#7ad151" stroke-width="2.3"/>
<ellipse cx="443" cy="328" rx="9" ry="3.2" transform="rotate(35 443 328)" stroke="#fde725" stroke-width="2.3"/>
<ellipse cx="457" cy="359" rx="23" ry="2.6" transform="rotate(47 457 359)" stroke="#fde725" stroke-width="2.3"/>
<ellipse cx="443" cy="485" rx="8" ry="3.7" transform="rotate(35 443 485)" stroke="#7ad151" stroke-width="2.3"/>
<ellipse cx="461" cy="410" rx="8" ry="2.4" transform="rotate(59 461 410)" stroke="#fde725" stroke-width="2.3"/>
<ellipse cx="492" cy="477" rx="25" ry="2.7" transform="rotate(48 492 477)" stroke="#fde725" stroke-width="2.3"/>
<ellipse cx="445" cy="442" rx="22" ry="2.1" transform="rotate(59 445 442)" stroke="#7ad151" stroke-width="2.3"/>
<ellipse cx="460" cy="416" rx="25" ry="3.8" transform="rotate(49 460 416)" stroke="#fde725" stroke-width="2.3"/>
<ellipse cx="454" cy="334" rx="9" ry="3.4" transform="rotate(60 454 334)" stroke="#fde725" stroke-width="2.3"/>
<ellipse cx="443" cy="487" rx="18" ry="2.5" transform="rotate(50 443 487)" stroke="#fde725" stroke-width="2.3"/>
<ellipse cx="466" cy="380" rx="9" ry="2.1" transform="rotate(47 466 380)" stroke="#7ad151" stroke-width="2.3"/>
<ellipse cx="446" cy="439" rx="25" ry="3.6" transform="rotate(38 446 439)" stroke="#fde725" stroke-width="2.3"/>
<ellipse cx="448" cy="460" rx="13" ry="4.0" transform="rotate(56 448 460)" stroke="#fde725" stroke-width="2.3"/>
<ellipse cx="466" cy="393" rx="21" ry="2.6" transform="rotate(45 466 393)" stroke="#fde725" stroke-width="2.3"/>
<ellipse cx="466" cy="488" rx="25" ry="3.0" transform="rotate(43 466 488)" stroke="#fde725" stroke-width="2.3"/>
<ellipse cx="456" cy="449" rx="24" ry="3.6" transform="rotate(54 456 449)" stroke="#fde725" stroke-width="2.3"/>
<ellipse cx="484" cy="444" rx="15" ry="2.6" transform="rotate(47 484 444)" stroke="#7ad151" stroke-width="2.3"/>
<ellipse cx="481" cy="356" rx="25" ry="3.2" transform="rotate(35 481 356)" stroke="#fde725" stroke-width="2.3"/>
<ellipse cx="454" cy="428" rx="16" ry="3.3" transform="rotate(55 454 428)" stroke="#7ad151" stroke-width="2.3"/>
<ellipse cx="482" cy="440" rx="23" ry="3.7" transform="rotate(57 482 440)" stroke="#fde725" stroke-width="2.3"/>
<ellipse cx="507" cy="482" rx="17" ry="2.3" transform="rotate(56 507 482)" stroke="#fde725" stroke-width="2.3"/>
<ellipse cx="470" cy="431" rx="21" ry="2.3" transform="rotate(55 470 431)" stroke="#7ad151" stroke-width="2.3"/>
<ellipse cx="481" cy="380" rx="19" ry="3.3" transform="rotate(53 481 380)" stroke="#7ad151" stroke-width="2.3"/>
<ellipse cx="445" cy="384" rx="20" ry="3.4" transform="rotate(51 445 384)" stroke="#fde725" stroke-width="2.3"/>
<ellipse cx="465" cy="343" rx="9" ry="2.6" transform="rotate(40 465 343)" stroke="#fde725" stroke-width="2.3"/>
<ellipse cx="437" cy="388" rx="15" ry="3.2" transform="rotate(41 437 388)" stroke="#fde725" stroke-width="2.3"/>
<ellipse cx="434" cy="377" rx="13" ry="2.2" transform="rotate(56 434 377)" stroke="#fde725" stroke-width="2.3"/>
<ellipse cx="438" cy="417" rx="10" ry="2.7" transform="rotate(50 438 417)" stroke="#fde725" stroke-width="2.3"/>
<ellipse cx="491" cy="380" rx="23" ry="2.7" transform="rotate(39 491 380)" stroke="#fde725" stroke-width="2.3"/>
<ellipse cx="472" cy="678" rx="12" ry="6" transform="rotate(110 472 678)" stroke="#fde725" stroke-width="2.3"/>
<ellipse cx="442" cy="717" rx="4" ry="3" transform="rotate(102 442 717)" stroke="#fde725" stroke-width="2.3"/>
<ellipse cx="476" cy="717" rx="7" ry="4" transform="rotate(41 476 717)" stroke="#fde725" stroke-width="2.3"/>
<ellipse cx="435" cy="727" rx="7" ry="6" transform="rotate(164 435 727)" stroke="#fde725" stroke-width="2.3"/>
<ellipse cx="450" cy="648" rx="12" ry="4" transform="rotate(52 450 648)" stroke="#fde725" stroke-width="2.3"/>
<ellipse cx="475" cy="663" rx="6" ry="5" transform="rotate(149 475 663)" stroke="#fde725" stroke-width="2.3"/>
<ellipse cx="402" cy="674" rx="6" ry="6" transform="rotate(141 402 674)" stroke="#fde725" stroke-width="2.3"/>
<ellipse cx="429" cy="642" rx="5" ry="6" transform="rotate(53 429 642)" stroke="#fde725" stroke-width="2.3"/>
<ellipse cx="473" cy="667" rx="9" ry="5" transform="rotate(134 473 667)" stroke="#fde725" stroke-width="2.3"/>
<ellipse cx="414" cy="701" rx="6" ry="5" transform="rotate(61 414 701)" stroke="#fde725" stroke-width="2.3"/>
<ellipse cx="436" cy="674" rx="8" ry="4" transform="rotate(134 436 674)" stroke="#fde725" stroke-width="2.3"/>
<ellipse cx="430" cy="665" rx="11" ry="6" transform="rotate(98 430 665)" stroke="#fde725" stroke-width="2.3"/>
<ellipse cx="402" cy="703" rx="7" ry="5" transform="rotate(127 402 703)" stroke="#fde725" stroke-width="2.3"/>
<ellipse cx="476" cy="668" rx="11" ry="4" transform="rotate(71 476 668)" stroke="#fde725" stroke-width="2.3"/>
<ellipse cx="436" cy="710" rx="5" ry="6" transform="rotate(125 436 710)" stroke="#fde725" stroke-width="2.3"/>
<ellipse cx="452" cy="644" rx="10" ry="6" transform="rotate(26 452 644)" stroke="#fde725" stroke-width="2.3"/>
<ellipse cx="457" cy="676" rx="8" ry="4" transform="rotate(28 457 676)" stroke="#fde725" stroke-width="2.3"/>
<ellipse cx="470" cy="707" rx="5" ry="4" transform="rotate(148 470 707)" stroke="#fde725" stroke-width="2.3"/>
<ellipse cx="495" cy="690" rx="4" ry="5" transform="rotate(176 495 690)" stroke="#fde725" stroke-width="2.3"/>
<ellipse cx="406" cy="711" rx="6" ry="5" transform="rotate(171 406 711)" stroke="#fde725" stroke-width="2.3"/>
<ellipse cx="435" cy="720" rx="5" ry="5" transform="rotate(75 435 720)" stroke="#fde725" stroke-width="2.3"/>
<ellipse cx="419" cy="685" rx="4" ry="3" transform="rotate(68 419 685)" stroke="#fde725" stroke-width="2.3"/>
<polyline points="508.8,364.2 508.0,369.7 507.8,375.1 508.3,380.4 509.5,385.8 508.5,391.4 509.3,396.5 511.3,401.2 513.2,406.0 515.7,410.7 518.2,415.9 519.0,421.5 519.3,427.2 521.6,433.4 518.3,437.7 517.5,442.9 515.1,447.5" stroke="#22a884" stroke-width="2.4"/>
<polyline points="422.3,575.2 426.0,580.6 429.0,586.2 426.5,592.6 429.4,598.2 431.6,603.4 432.0,609.3 434.4,614.5 434.3,620.6 438.1,625.3 437.8,631.4 441.5,636.2 446.3,639.0 450.4,643.1 455.3,645.4 459.8,648.8 464.9,650.8 471.3,650.2 475.2,654.5 480.2,656.7 485.5,658.2 490.8,659.8 494.2,664.6 498.7,667.4 502.4,671.6 506.9,674.5 511.0,678.1 516.2,679.7 520.5,682.4 524.9,684.8 530.2,685.9 533.2,690.6 538.4,691.9 541.9,695.7 546.9,700.3 553.0,699.7 559.2,696.9 565.3,698.6 571.6,698.8 576.6,695.8 581.6,693.2 587.1,693.6 592.2,691.1 598.0,693.6 603.5,692.5 605.1,687.6 606.2,682.5 608.4,678.2 615.4,676.0 620.3,670.7 626.5,670.6 632.6,671.7 638.8,671.3 644.9,672.8 651.0,672.4 657.1,671.4 663.3,671.7 669.5,670.9 673.8,667.3 679.6,668.8 684.1,666.0 688.9,664.2 694.0,662.4 698.3,665.9 702.9,668.5 708.1,668.4 713.2,668.4 720.2,668.8 726.2,673.6 729.3,668.9 734.0,666.4 738.0,662.9 742.3,659.3 748.4,656.8 752.9,654.9 753.6,649.5 757.1,645.3 761.0,641.1 763.0,636.8 766.7,631.3 772.5,628.2 775.4,622.8 778.8,618.2 783.6,614.4 788.0,610.4 789.8,604.8 793.8,600.4 795.3,595.0 797.4,589.9 799.9,585.0 804.1,581.0 806.7,575.4 806.6,569.0 808.3,563.0 809.4,556.8 809.1,550.3 809.8,544.1 810.0,537.9 808.9,531.8 808.2,528.5 813.5,520.5 821.2,516.1" stroke="#22a884" stroke-width="2.4"/>
<polyline points="504.2,357.3 508.6,354.4 512.6,351.0 513.8,345.0 517.8,341.6 521.1,337.6 524.8,334.1 527.7,328.9 532.6,325.8 538.0,323.9 542.9,320.9 548.3,318.9 552.8,315.0 558.7,311.7 564.6,313.2 570.1,312.4 575.7,312.0 581.5,312.4 586.9,310.6 591.6,308.0 598.5,307.4 604.6,305.2 610.0,303.1 615.1,305.2 619.6,308.8 625.4,309.1 630.2,311.9 636.0,312.7 641.2,311.4 646.5,310.3 651.2,307.6 655.9,304.4 661.3,303.6 666.7,304.0 671.9,303.3 676.9,301.8 682.2,301.3 687.1,298.6 692.5,297.3 698.0,297.0 703.6,298.9 709.0,297.0 714.4,295.5 719.8,294.4 727.9,294.3 732.0,298.6 735.4,303.7 738.5,309.1 743.6,312.1 748.9,313.8 754.2,315.3 759.4,317.1 763.8,320.9 768.9,323.1 774.5,323.8 780.1,324.5 784.4,328.5 788.7,330.8 790.3,336.4 794.7,340.6 797.1,345.8 798.0,351.7 801.1,356.8 803.0,361.8 808.2,364.5 809.5,370.0 814.9,372.6 817.9,376.8 820.2,381.5" stroke="#22a884" stroke-width="2.4"/>
<polygon points="444.7,614.5 442.4,609.9 437.7,607.2 436.3,601.9 431.6,599.0 431.6,592.5 428.9,586.4 429.7,579.9 430.7,574.3 434.3,570.0 437.5,565.4 440.4,560.9 442.6,555.5 446.7,551.3 450.8,547.0 451.5,540.6 452.4,534.5 455.1,528.6 456.1,522.4 455.9,516.1 455.7,509.9 458.5,504.1 457.1,497.6 459.1,492.2 464.7,490.9 469.0,486.7 474.0,484.0 479.1,481.4 484.6,479.8 489.7,477.2 495.4,477.2 500.8,476.5 505.2,473.0 510.6,472.4 514.8,468.2 518.1,466.4 522.7,457.7 527.7,453.6 532.4,449.2 537.6,444.9 542.0,440.0 544.6,433.5 548.8,429.4 553.4,425.6 555.0,419.3 558.8,414.9 559.9,409.6 561.4,404.5 564.5,400.1 567.8,395.8 571.8,391.9 571.9,386.1 574.3,381.3 579.7,378.9 583.7,375.2 587.0,370.8 589.8,365.7 595.2,363.0 599.6,358.9 605.1,356.4 609.9,353.7 615.2,353.5 620.3,355.3 625.6,355.0 630.8,355.4 635.5,357.2 641.2,357.8 646.7,358.7 651.5,361.6 656.6,363.5 661.5,367.2 667.0,365.7 672.5,365.3 678.0,363.8 683.5,364.6 689.0,364.5 694.5,365.0 700.1,366.5 705.2,363.7 711.0,365.6 716.5,365.3 722.0,365.2 727.3,363.7 732.7,362.7 738.0,361.2 743.2,359.4 748.2,357.2 753.4,355.8 760.1,354.7 764.4,358.6 767.4,364.1 771.2,368.5 775.4,371.7 780.2,374.9 783.2,379.1 785.0,383.9 786.6,388.9 789.6,393.1 791.6,397.8 792.8,402.5 795.8,407.1 797.6,412.1 797.7,417.5 800.0,422.4 800.3,427.8 802.3,432.7 804.0,439.2 803.0,445.6 803.9,452.4 800.8,457.5 798.6,462.7 798.2,468.2 796.1,473.5 797.4,479.2 796.7,484.7 797.1,490.3 797.4,495.9 794.1,501.0 795.4,506.2 792.4,510.9 792.1,515.9 791.1,520.9 793.0,526.1 790.4,531.2 789.3,536.3 791.2,541.7 791.8,547.0 792.1,552.3 790.7,557.5 791.3,563.1 787.9,567.9 786.7,573.1 784.7,578.1 784.9,583.7 782.9,588.7 782.0,594.0 778.5,598.7 776.0,604.0 771.3,608.0 767.9,612.7 765.2,617.0 762.4,622.0 759.5,626.9 756.2,631.3 752.7,635.5 746.7,637.0 743.1,641.6 737.6,640.6 732.5,642.9 727.1,642.9 722.0,644.7 716.7,645.8 711.2,645.0 706.0,645.4 700.6,644.2 695.4,646.5 690.2,647.7 685.0,649.4 679.7,649.8 674.3,647.1 669.1,647.4 663.0,646.5 656.9,646.0 651.2,643.5 644.7,641.9 639.4,645.4 634.1,648.5 628.8,650.3 622.8,650.6 617.5,652.2 613.2,656.1 607.9,659.4 601.7,658.9 595.8,656.9 589.8,655.3 583.7,656.1 578.6,657.6 573.5,659.3 567.7,657.9 562.5,659.1 557.0,658.8 552.2,661.8 547.1,662.4 541.2,661.4 535.5,659.0 529.4,659.4 523.3,659.7 517.9,657.2 513.7,653.5 508.3,651.9 502.9,650.5 497.4,649.5 491.8,646.7 486.9,642.3 480.8,641.0 476.0,638.4 471.5,635.4 466.2,633.6 460.7,631.6 456.8,627.1 453.8,621.5 449.9,617.1" stroke="#2a788e" stroke-width="2.4"/>
<polygon points="661.4,324.9 667.1,324.4 672.4,323.0 676.9,319.5 682.4,318.7 687.5,316.8 692.0,313.2 697.7,313.1 702.4,310.2 707.8,307.9 714.2,309.9 720.5,312.4 722.9,318.6 723.0,325.3 718.0,328.8 714.0,333.3 709.4,337.0 704.4,341.0 701.4,345.0 697.3,340.6 694.6,336.0 688.3,333.3 682.2,331.8 675.6,330.3 669.8,331.0" stroke="#2a788e" stroke-width="2.4"/>
<polygon points="556.4,368.0 556.0,374.0 552.9,377.6 549.0,377.8 545.5,374.1 545.8,371.0 545.8,368.1 546.3,362.6 549.0,357.9 552.8,359.0 555.5,362.5" stroke="#2a788e" stroke-width="2.4"/>
<polygon points="611.8,352.3 619.6,346.1 625.1,342.0 629.5,336.8 632.6,339.8 627.5,344.3 623.3,349.7 615.3,356.2" stroke="#2a788e" stroke-width="2.4"/>
<polygon points="462.9,506.4 463.5,511.4 461.6,516.2 462.2,521.1 462.4,524.8 463.3,529.3 464.8,533.5 467.3,537.3 468.8,541.6 468.6,546.6 472.2,550.1 473.9,554.0 475.8,557.9 476.3,562.0 477.6,566.0 474.8,570.8 476.5,574.6 475.7,579.8 479.5,583.5 479.0,588.5 481.0,592.7 482.5,597.9 485.7,600.5 489.9,601.6 493.8,603.2 496.3,606.7 500.5,607.9 505.0,609.5 506.1,614.2 508.5,617.7 512.3,619.8 514.9,623.1 517.4,627.9 521.6,626.6 525.9,625.4 529.9,626.2 534.1,625.7 538.1,626.5 541.1,625.8 546.0,627.0 550.5,627.3 554.3,625.1 558.2,623.3 562.0,621.3 566.9,622.6 571.2,622.1 575.0,620.3 578.1,616.7 581.6,614.0 586.3,614.2 587.5,609.7 591.1,606.8 593.2,602.9 593.8,598.7 594.7,594.5 598.7,591.3 599.0,586.9 601.2,583.2 603.4,579.3 603.5,575.0 604.6,570.8 607.3,567.2 608.7,563.2 609.2,558.9 610.1,554.7 610.8,550.4 611.6,546.2 613.6,542.4 613.5,537.9 616.6,534.4 616.5,529.9 616.7,525.4 621.0,521.5 622.8,515.3 625.7,520.4 628.1,525.8 629.4,529.8 629.0,534.4 630.0,538.5 631.9,542.4 635.5,545.8 633.9,550.7 636.2,555.3 638.1,560.0 640.1,565.9 637.5,571.1 635.5,575.6 634.5,580.5 630.1,583.6 634.9,582.8 639.9,583.1 644.7,583.7 649.6,584.1 652.6,588.0 657.2,589.0 660.2,592.8 662.8,595.6 666.1,598.5 669.6,601.3 671.9,604.9 672.9,609.4 674.2,613.7 677.0,616.9 681.0,619.8 685.2,621.5 689.7,624.4 691.2,620.2 694.8,617.5 696.2,613.3 699.0,610.0 701.4,606.5 703.8,603.0 707.5,600.1 710.5,596.4 712.5,592.4 714.1,588.0 714.9,583.3 716.2,578.9 718.1,574.8 721.6,571.4 724.0,567.5 723.7,562.3 725.1,557.8 726.0,553.2 728.3,551.1 729.5,546.3 728.7,542.0 725.2,538.6 725.8,534.0 725.0,529.8 723.4,525.8 719.5,522.8 716.4,519.5 714.1,515.8 715.1,510.4 712.9,506.6 709.1,503.9 708.6,498.9 706.1,495.3 702.9,491.7 702.2,487.7 700.7,483.7 698.8,479.8 700.8,475.3 702.0,471.0 700.1,467.1 699.1,462.6 699.3,457.8 695.2,454.2 696.6,449.1 693.1,445.5 690.5,441.5 686.8,438.2 686.9,435.5 682.6,436.4 678.3,436.7 673.9,436.4 669.2,435.6 665.6,433.6 662.4,430.8 659.4,427.6 654.7,427.8 651.1,425.9 648.2,423.0 645.1,421.8 640.4,424.1 635.1,422.3 630.1,423.0 629.9,428.0 628.2,432.8 628.4,437.3 631.0,440.4 634.3,443.0 636.5,447.3 637.5,452.2 637.4,457.2 636.2,462.1 635.2,467.0 634.9,471.9 636.5,475.6 632.7,474.0 628.3,475.9 624.6,473.2 620.2,474.9 616.6,471.3 612.1,470.1 608.0,467.7 604.7,464.7 598.9,465.1 594.5,463.1 590.4,461.9 586.6,460.8 582.6,460.0 579.1,457.3 575.6,454.7 571.4,455.3 567.4,455.9 563.4,457.7 559.5,459.0 555.4,459.6 551.4,460.5 547.2,457.7 543.9,460.8 539.4,462.3 539.1,466.6 541.6,470.3 542.3,474.8 538.1,477.3 534.7,480.6 530.7,483.2 528.0,488.1 522.9,488.1 518.0,488.5 513.5,489.7 509.6,492.0 505.9,495.0 502.8,499.0 498.8,500.7 494.7,500.2 490.6,501.0 486.5,499.6 482.4,497.4 478.4,499.1 474.0,500.5 470.2,503.6 464.9,503.1" stroke="#3e4989" stroke-width="2.3"/>
<polygon points="571.5,521.2 576.0,518.0 580.2,517.0 584.3,519.2 587.0,522.5 590.6,525.8 591.3,529.8 589.1,534.3 592.5,538.0 593.0,542.1 594.6,546.0 595.2,550.2 592.3,554.6 594.3,558.5 594.1,562.7 595.2,566.7 594.4,570.9 595.6,574.9 597.9,579.6 598.2,584.5 598.8,589.4 597.8,593.8 594.6,596.3 592.5,600.2 588.6,601.5 583.9,600.7 579.8,598.5 575.0,597.8 571.0,595.7 566.7,592.2 561.8,590.7 557.9,588.6 555.1,584.1 551.4,580.4 548.3,576.5 544.8,573.0 542.7,568.7 541.4,564.8 537.8,560.3 539.6,555.0 537.3,550.5 539.2,545.9 541.8,542.0 546.5,538.3 551.3,536.4 556.3,536.6 560.6,536.7 565.2,535.5 568.7,533.2 571.8,529.5 572.5,525.4" stroke="#46327e" stroke-width="2.3"/>
<polygon points="480.9,531.0 483.3,528.7 485.4,525.7 489.1,526.4 491.5,524.1 494.2,522.6 499.0,522.1 500.6,525.2 501.4,529.2 504.6,530.2 505.8,533.7 506.3,534.8 510.5,536.7 514.1,538.8 516.3,541.5 515.0,545.2 511.9,545.4 508.5,544.3 505.2,543.7 503.7,545.3 500.4,545.3 496.6,547.1 493.1,547.9 491.0,544.1 488.8,542.6 487.8,539.1 485.6,536.2 484.0,533.0" stroke="#46327e" stroke-width="2.3"/>
<polygon points="498.1,593.6 498.5,590.0 500.6,587.1 503.7,584.5 503.4,580.7 503.7,577.1 506.1,572.3 510.5,572.6 512.5,569.3 516.6,569.1 520.0,567.8 522.2,563.7 525.8,564.0 529.2,563.5 532.6,562.9 536.4,565.2 540.4,563.0 540.7,566.8 536.1,568.2 535.3,571.5 535.1,575.1 533.4,578.5 530.9,580.9 526.3,581.2 525.4,585.1 523.7,588.4 520.4,589.9 517.6,592.0 513.5,592.9 513.2,594.0 509.7,595.4 506.3,596.6 503.7,593.9" stroke="#46327e" stroke-width="2.3"/>
<ellipse cx="651" cy="495" rx="2.2" ry="3.2" stroke="#3e4989" stroke-width="2.2"/>
<ellipse cx="659" cy="489" rx="3.4" ry="3.0" stroke="#3e4989" stroke-width="2.2"/>
<ellipse cx="638" cy="515" rx="4.8" ry="2.6" stroke="#3e4989" stroke-width="2.2"/>
<ellipse cx="648" cy="531" rx="4.7" ry="3.0" stroke="#46327e" stroke-width="2.2"/>
<ellipse cx="656" cy="513" rx="4.7" ry="2.0" stroke="#3e4989" stroke-width="2.2"/>
<ellipse cx="643" cy="423" rx="2.4" ry="2.0" stroke="#3e4989" stroke-width="2.2"/>
<ellipse cx="631" cy="441" rx="1.5" ry="2.5" stroke="#46327e" stroke-width="2.2"/>
<ellipse cx="645" cy="421" rx="3.0" ry="3.8" stroke="#3e4989" stroke-width="2.2"/>
<ellipse cx="687" cy="455" rx="2.2" ry="3.6" stroke="#3e4989" stroke-width="2.2"/>
<ellipse cx="649" cy="543" rx="3.3" ry="2.9" stroke="#46327e" stroke-width="2.2"/>
<ellipse cx="662" cy="513" rx="3.7" ry="1.7" stroke="#46327e" stroke-width="2.2"/>
<ellipse cx="677" cy="523" rx="1.6" ry="2.2" stroke="#46327e" stroke-width="2.2"/>
<ellipse cx="635" cy="428" rx="5.0" ry="4.0" stroke="#3e4989" stroke-width="2.2"/>
<ellipse cx="713" cy="501" rx="2.1" ry="2.8" stroke="#46327e" stroke-width="2.2"/>
<ellipse cx="650" cy="438" rx="4.2" ry="1.7" stroke="#3e4989" stroke-width="2.2"/>
<ellipse cx="656" cy="431" rx="2.2" ry="2.0" stroke="#46327e" stroke-width="2.2"/>
<ellipse cx="702" cy="498" rx="2.7" ry="2.6" stroke="#3e4989" stroke-width="2.2"/>
<ellipse cx="641" cy="511" rx="2.6" ry="2.2" stroke="#46327e" stroke-width="2.2"/>
<ellipse cx="646" cy="539" rx="4.3" ry="2.7" stroke="#46327e" stroke-width="2.2"/>
<ellipse cx="666" cy="503" rx="3.8" ry="1.7" stroke="#46327e" stroke-width="2.2"/>
<ellipse cx="697" cy="458" rx="2.8" ry="3.2" stroke="#3e4989" stroke-width="2.2"/>
<ellipse cx="656" cy="421" rx="4.8" ry="3.5" stroke="#3e4989" stroke-width="2.2"/>
<ellipse cx="679" cy="519" rx="1.5" ry="1.7" stroke="#3e4989" stroke-width="2.2"/>
<ellipse cx="641" cy="487" rx="4.3" ry="2.2" stroke="#3e4989" stroke-width="2.2"/>
<ellipse cx="644" cy="533" rx="3.4" ry="3.2" stroke="#3e4989" stroke-width="2.2"/>
<ellipse cx="637" cy="503" rx="4.3" ry="3.0" stroke="#46327e" stroke-width="2.2"/>
<polygon points="627.7,575.0 631.0,574.3 634.4,573.9 637.5,572.4 640.2,575.0 642.7,577.9 645.1,579.3 644.2,583.4 642.4,586.8 639.1,586.8 635.9,586.9 633.4,586.8 631.9,583.8 630.3,580.9 629.7,577.6" stroke="#3e4989" stroke-width="2.3"/>
<polygon points="444.1,592.0 447.2,590.9 450.0,589.9 452.3,591.9 454.7,592.6 452.5,594.8 450.6,596.4 447.3,594.3" stroke="#3e4989" stroke-width="2.3"/>
<polyline points="480.6,673.0 482.8,676.8 485.5,680.2 487.9,683.8 493.0,684.5 494.5,689.1 498.3,691.2 501.5,694.7 504.8,697.1 507.7,700.2 512.8,699.5 517.0,700.6 519.7,703.9 523.2,706.0 526.5,709.1 531.3,709.0 534.4,713.1 540.1,710.8 543.4,714.2 547.9,714.9 551.1,713.9 555.6,715.3 558.9,712.0 562.8,710.8 566.8,710.2 573.4,709.0 577.3,711.1 581.4,712.9 582.7,718.9 584.8,719.3 588.4,716.6 591.9,713.8 597.8,715.9 601.9,714.2 607.3,713.2 611.3,711.1 612.3,706.7 613.5,702.5 615.2,698.7 616.6,694.7 620.2,692.1 625.5,692.1 628.5,688.7 632.7,687.0 633.4,685.8 637.0,688.0 641.0,689.1 645.2,689.9 650.9,690.4 649.5,694.6 645.3,697.6 644.6,702.5 647.8,705.7 652.6,706.5 655.8,709.6 658.4,710.8 663.1,709.6 667.1,707.7 667.2,702.0 671.4,700.3 673.2,695.2 678.5,696.7 681.1,692.6 684.0,689.2 689.2,690.7 693.2,689.5 696.0,684.8 700.2,684.1 705.0,685.1 709.1,681.3 712.5,685.1 717.4,685.5 721.7,687.4 726.1,689.0 731.2,688.8 735.2,691.4 739.0,694.3 742.8,697.3 746.8,696.1 750.0,692.6 754.4,692.5 758.0,690.0 762.9,691.4 765.8,687.0 770.5,687.8 773.4,683.6 777.8,683.4 781.2,681.6 784.7,679.4 788.9,678.2 793.0,676.9 793.9,671.4 799.1,671.4 802.6,669.2 804.7,663.5 810.0,661.7 813.8,658.1" stroke="#7ad151" stroke-width="2.4"/>
<polyline points="536.7,730.6 541.7,732.1 546.1,732.0 550.1,731.0 553.6,729.0 557.4,727.6 559.3,721.3 563.3,723.5 568.1,723.0 571.8,726.1 576.3,726.7 580.3,726.0 584.2,725.1 588.2,724.4 592.5,725.0 593.8,725.4 599.5,725.4 603.2,728.9 606.9,732.4 613.0,731.6" stroke="#7ad151" stroke-width="2.4"/>
<polyline points="606.5,732.0 606.3,727.0 609.4,723.6 613.0,720.5 615.8,717.0 616.6,712.9 619.7,709.2 621.7,704.7 624.8,701.1 628.3,695.5 632.6,698.8 637.4,701.0 643.2,702.6 641.5,706.3 638.2,709.3 636.9,713.2 633.3,718.4 635.3,722.9 638.4,726.6 644.3,727.9 647.3,731.6" stroke="#22a884" stroke-width="2.4"/>
<polyline points="716.6,732.0 718.3,727.3 721.9,723.7 721.6,717.8 725.6,714.6 730.2,715.7 734.1,718.4 739.2,718.3 741.8,720.1 745.9,717.2 750.2,714.8 755.7,714.5 760.0,711.9 762.9,716.8 767.5,718.6 773.1,718.8 777.3,722.1 781.0,719.6 783.3,715.3 787.6,713.7 788.9,710.2 792.0,706.7 795.6,703.5 799.5,700.5 804.1,697.9 806.1,693.4 804.6,687.8 807.0,684.1 808.1,679.7 812.2,676.9 813.8,672.8" stroke="#fde725" stroke-width="2.4"/>
<polygon points="781.4,711.4 784.7,708.1 787.5,704.5 792.4,701.4 796.1,705.1 799.8,708.9 804.5,712.3 802.2,715.7 800.2,719.3 796.8,721.6 792.7,719.8 789.8,716.2 785.2,715.1" stroke="#fde725" stroke-width="2.4"/>
<polyline points="733.4,299.2 738.9,301.0 744.4,302.9 748.3,307.8 753.4,310.4 758.4,313.5 763.6,315.1 769.1,316.3 773.8,319.1 779.6,320.8 785.1,319.0 790.2,316.3 795.6,314.4 800.4,310.6 803.0,305.4 806.1,300.9 811.2,298.3 813.9,293.9 817.5,289.3 820.6,284.5 821.3,279.3 822.7,274.0 820.4,269.0 822.2,263.8 823.0,258.6 820.7,253.6 821.4,248.4 820.2,243.3" stroke="#7ad151" stroke-width="2.4"/>
<polyline points="814.8,105.4 821.1,109.3 826.8,115.5 826.6,121.4 824.7,127.3 824.1,133.3" stroke="#fde725" stroke-width="2.4"/>
</g>
<g clip-path="url(#c1ax)"><g fill="none" stroke="#fff" stroke-width="2" stroke-linejoin="round">
<polygon points="162.6,188.5 173.0,177.0 195.6,171.0 220.3,172.0 269.7,178.0 280.0,186.5 311.0,196.8 321.0,214.0 311.0,217.0 294.4,217.0 282.0,211.0 273.8,212.0 265.6,219.4 257.4,216.3 252.0,223.5 253.0,228.7 247.0,228.7 236.8,219.4 226.5,217.4 210.0,218.4 201.8,211.0 199.7,207.0 193.5,206.0 187.4,198.8 185.3,193.7 173.0,193.7 164.7,190.6"/>
<polyline points="455.0,185.6 467.7,186.7 478.3,193.0 486.7,201.5 490.9,205.7 495.2,203.6 494.1,198.3 503.6,192.0 518.4,190.9 531.1,190.9 543.8,194.1 560.7,197.3 573.4,196.2 590.3,192.0 607.3,190.9 622.1,190.9 634.7,196.2 645.3,203.6 650.6,210.0 652.7,218.4 650.6,225.8 658.0,224.8 664.3,231.1 668.6,237.4 664.3,240.6 660.1,239.6 663.3,235.3 669.6,237.0 674.9,229.0 682.3,216.3 689.7,205.7 696.1,196.2 692.9,188.8 696.1,185.6 703.5,186.7 710.9,182.5 719.3,181.4 721.4,177.2 726.7,177.2 729.9,181.4 729.9,188.8 734.1,193.0 746.8,192.0 759.5,190.9 765.8,186.7 772.2,178.2 780.7,174.0 793.3,174.0 797.6,177.2 801.8,175.1 810.3,177.2 831.4,174.4"/>
<polyline points="455.0,161.3 467.7,160.3 480.4,163.4 497.3,167.7 518.4,170.8 539.6,173.0 556.5,175.1 573.4,174.0 579.8,168.7 586.1,167.7 600.9,168.7 602.0,159.2 592.4,153.9 586.1,147.6 579.8,140.2 573.4,134.9 568.1,129.6 573.4,125.4 571.3,119.0 569.2,112.7 574.5,108.5 575.5,102.1"/>
<polyline points="781.7,102.1 789.1,110.6 801.8,114.8 814.5,112.7 831.4,113.7"/>
<polyline points="388.0,732.2 408.8,719.2 419.3,711.4 440.1,716.6 460.9,719.2 464.8,706.1 466.1,695.7 479.1,691.8 489.6,697.0 510.4,698.3 531.2,697.0 541.6,690.5 557.2,677.5 575.5,667.1 591.1,660.6 604.1,654.1 611.9,646.3 615.8,635.9 614.5,628.0 624.9,625.4 635.3,620.2 645.8,612.4 658.8,611.1 671.8,616.3 682.2,622.8 690.0,635.9 691.3,641.1 682.2,648.9 677.0,656.7 671.8,664.5 661.4,665.8 645.8,669.7 632.7,673.6 628.8,682.7 631.4,695.7 638.0,708.7 645.8,719.2 651.0,729.6 654.9,734.8"/>
<polyline points="661.4,734.8 669.2,721.8 687.4,716.6 713.5,706.1 736.9,698.3 757.7,687.9 765.5,682.7 760.3,677.5 770.7,676.2 781.1,685.3 789.0,685.3 786.4,669.7 781.1,646.3 773.3,631.9 765.5,633.2 755.1,638.5 751.2,651.5 755.1,664.5 757.7,672.3 770.7,674.9 786.4,668.4 791.6,672.3 802.0,682.7 815.0,680.6"/>
<polyline points="437.5,732.2 438.8,727.0 445.3,727.0 446.6,732.2"/>
<polygon points="532.2,141.2 536.4,137.6 543.8,139.1 554.4,145.5 565.0,150.8 568.1,156.0 562.8,156.7 552.3,152.9 541.7,149.7 535.4,145.5"/>
<polygon points="799.7,120.1 814.5,119.0 831.4,121.1 831.4,131.7 814.5,128.5 799.7,127.5"/>
<polygon points="767.6,599.4 770.7,598.9 777.2,607.2 781.7,612.4 779.8,615.5 774.6,612.4 769.4,605.9"/>
</g>
<g fill="none" stroke="#fff" stroke-width="2" stroke-linejoin="round">
<polyline points="423.0,710.5 405.0,722.0 388.0,733.0 373.0,748.0 368.0,758.0 365.5,770.6 358.0,779.0 365.5,775.6 365.5,788.0 363.0,800.6"/>
<polyline points="656.0,732.0 661.5,752.8 650.4,769.5 633.7,789.0 622.6,805.7 619.8,816.8 628.0,828.0"/>
<polyline points="661.5,752.8 678.0,775.0 689.4,797.4 695.0,814.0 695.0,830.0"/>
<polyline points="813.0,681.0 822.0,678.0 833.0,680.0"/>
</g></g>
<g clip-path="url(#c1ax)" fill="none" stroke-linejoin="round">
<polyline points="190.0,353.0 250.0,341.0 300.0,335.0 365.0,331.0 398.0,339.0 418.0,355.0 428.0,390.0 440.0,432.0 455.0,460.0 472.0,476.0 505.0,482.0" stroke="#0000ff" stroke-width="2.6" stroke-dasharray="2.6 4.3"/>
<polyline points="449.7,464.9 451.9,467.1 454.7,468.2 456.9,470.5 459.2,472.6 463.0,471.9 466.5,472.0 467.5,476.3 469.7,476.7 472.5,475.2 476.3,477.7 479.2,476.2 482.5,476.7 485.3,475.0 488.3,474.4 490.7,471.4 494.0,471.7 497.5,472.6 499.6,471.1 502.4,472.7 505.4,473.8 509.4,471.9 511.8,474.6 514.7,475.8 518.2,475.5 521.8,474.5 523.9,478.4 527.0,479.1 530.1,481.1 533.2,482.3 536.2,482.0 539.2,482.8 542.1,480.6 545.2,481.3 548.1,479.8 551.2,481.3 554.2,481.8 557.0,478.0 559.7,476.1 562.7,475.2 566.1,478.2 569.0,477.0 572.1,477.1 574.9,475.4 578.0,475.3 580.9,474.5 583.8,473.7 587.0,474.2 590.0,474.3 593.3,475.8 596.3,475.3 599.4,476.1 602.5,476.0 605.6,476.4 608.4,474.9 611.0,471.3 614.2,472.7 617.4,473.7 619.2,473.8 622.6,473.1 625.7,473.7 629.4,471.9 632.1,474.2 635.3,474.6 638.7,473.6 642.3,472.3 644.8,475.8 648.0,476.0" stroke="#00bfbf" stroke-width="3"/>
<polyline points="455.0,468.0 490.0,452.0 498.0,458.0 470.0,472.0 520.0,476.0 560.0,482.0 600.0,470.0 648.0,475.0" stroke="#008000" stroke-width="2.6"/>
<polyline points="507.7,499.0 520.0,499.0 532.0,496.5 583.6,492.0 678.0,492.0 772.0,499.0 831.0,503.8" stroke="#0000ff" stroke-width="2.6"/>
<polyline points="507.0,499.0 512.0,478.0 520.0,499.0" stroke="#0000ff" stroke-width="2.2"/>
<polyline points="449.0,466.0 470.0,470.0 462.0,480.0 490.0,466.0 478.0,484.0 505.0,468.0 470.0,476.0 500.0,486.0 515.0,465.0 490.0,482.0 520.0,498.0 518.0,468.0 530.0,474.0 505.0,480.0 534.0,470.0 550.0,478.0 540.0,484.0 525.0,476.0 560.0,482.0 600.0,476.0 640.0,476.0 650.0,475.0 628.0,473.0 648.0,478.0" stroke="#ff0000" stroke-width="3"/>
<polyline points="452.0,472.0 480.0,474.0 505.0,478.0 530.0,482.0" stroke="#ff0000" stroke-width="5"/>
</g>
<g fill="#0000ff"><circle cx="583.6" cy="492" r="4.2"/><circle cx="678" cy="492" r="4.2"/><circle cx="508.5" cy="499" r="4"/></g>
<circle cx="772" cy="499" r="3.2" fill="none" stroke="#0000ff" stroke-width="1.6"/>
<rect x="472.3" y="403.3" width="9.4" height="9.4" fill="#bf00bf"/>
<rect x="653.6" y="451.9" width="9.4" height="9.4" fill="#bf00bf"/>
<rect x="528.7" y="482.0" width="9.4" height="9.4" fill="#bf00bf"/>
<rect x="523.3" y="499.3" width="9.4" height="9.4" fill="#bf00bf"/>
<rect x="491.3" y="511.3" width="9.4" height="9.4" fill="#bf00bf"/>
<rect x="518.3" y="524.3" width="9.4" height="9.4" fill="#bf00bf"/>
<rect x="577.3" y="520.3" width="9.4" height="9.4" fill="#bf00bf"/>
<rect x="605.3" y="510.3" width="9.4" height="9.4" fill="#bf00bf"/>
<rect x="618.1" y="509.3" width="9.4" height="9.4" fill="#bf00bf"/>
<path d="M473.6 382.3l8 8M481.6 382.3l-8 8" stroke="#ff0000" stroke-width="2.8"/>
<text x="215.5" y="141.0" font-size="18.55" textLength="36.9" lengthAdjust="spacingAndGlyphs" fill="#fde725" transform="rotate(-25 234.0 141.0)" opacity="0.9">−31</text>
<text x="366.5" y="262.0" font-size="18.55" textLength="36.9" lengthAdjust="spacingAndGlyphs" fill="#fde725" transform="rotate(20 385.0 262.0)" opacity="0.9">−31</text>
<text x="286.5" y="395.0" font-size="18.55" textLength="36.9" lengthAdjust="spacingAndGlyphs" fill="#fde725" transform="rotate(-35 305.0 395.0)" opacity="0.9">−31</text>
<text x="478.5" y="615.0" font-size="18.55" textLength="36.9" lengthAdjust="spacingAndGlyphs" fill="#2a788e" transform="rotate(12 497.0 615.0)" opacity="0.9">−64</text>
<text x="641.5" y="590.0" font-size="18.55" textLength="36.9" lengthAdjust="spacingAndGlyphs" fill="#3e4989" transform="rotate(35 660.0 590.0)" opacity="0.9">−76</text>
<text x="539.5" y="574.0" font-size="18.55" textLength="36.9" lengthAdjust="spacingAndGlyphs" fill="#46327e" transform="rotate(65 558.0 574.0)" opacity="0.9">−81</text>
<text x="481.5" y="400.0" font-size="18.55" textLength="36.9" lengthAdjust="spacingAndGlyphs" fill="#22a884" transform="rotate(80 500.0 400.0)" opacity="0.9">−54</text>
<text x="676.5" y="318.0" font-size="18.55" textLength="36.9" lengthAdjust="spacingAndGlyphs" fill="#2a788e" transform="rotate(-55 695.0 318.0)" opacity="0.9">−64</text>
<text x="641.5" y="535.0" font-size="18.55" textLength="36.9" lengthAdjust="spacingAndGlyphs" fill="#46327e" transform="rotate(60 660.0 535.0)" opacity="0.9">−81</text>
<rect x="496.5" y="107.7" width="329.4" height="188" rx="4" fill="#fff" fill-opacity="0.8" stroke="#ccc" stroke-opacity="0.8" stroke-width="1.6"/>
<text x="547.6" y="127.4" font-size="16.43" textLength="173.8" lengthAdjust="spacingAndGlyphs" fill="#000">AMSU Locations NONE</text>
<text x="547.6" y="150.9" font-size="16.43" textLength="209.3" lengthAdjust="spacingAndGlyphs" fill="#000">ARCHER Locations [1827Z]</text>
<text x="547.6" y="173.4" font-size="16.43" textLength="267.5" lengthAdjust="spacingAndGlyphs" fill="#000">SATCON Locations [1940Z 49 993]</text>
<text x="547.6" y="195.7" font-size="16.43" textLength="241.4" lengthAdjust="spacingAndGlyphs" fill="#000">ADT Tracks [2240Z 53.0 992.3]</text>
<text x="547.6" y="218.5" font-size="16.43" textLength="242.0" lengthAdjust="spacingAndGlyphs" fill="#000">JTWC/NHC Forecast [22/1800Z]</text>
<text x="547.6" y="241.3" font-size="16.43" textLength="225.1" lengthAdjust="spacingAndGlyphs" fill="#000">JTWC/NHC Tracks [22/1800Z]</text>
<text x="547.6" y="264.3" font-size="16.43" textLength="231.5" lengthAdjust="spacingAndGlyphs" fill="#000">MESOSCALE/TARGET Location</text>
<text x="547.6" y="287.3" font-size="16.43" textLength="117.0" lengthAdjust="spacingAndGlyphs" fill="#000">Floater Locater</text>
<rect x="514.9" y="117.1" width="9.4" height="9.4" fill="#bf00bf"/><rect x="514.9" y="140.60000000000002" width="9.4" height="9.4" fill="#bf00bf"/>
<path d="M515.6 163.8l8 8M523.6 163.8l-8 8" stroke="#00bfbf" stroke-width="2.8"/>
<line x1="503.6" x2="536.1" y1="190.1" y2="190.1" stroke="#008000" stroke-width="2.6"/>
<line x1="503.6" x2="536.1" y1="212.9" y2="212.9" stroke="#0000ff" stroke-width="2.6" stroke-dasharray="2.6 4.3"/>
<line x1="503.6" x2="536.1" y1="235.7" y2="235.7" stroke="#0000ff" stroke-width="2.6"/><circle cx="519.6" cy="235.7" r="4.2" fill="#0000ff"/>
<path d="M515.6 254.7l8 8M523.6 254.7l-8 8" stroke="#ff0000" stroke-width="2.8"/>
<line x1="503.6" x2="536.1" y1="281.7" y2="281.7" stroke="#ff0000" stroke-width="2.6"/>
<rect x="104.5" y="101.5" width="728" height="728" fill="none" stroke="#000" stroke-width="3"/>
<rect x="102" y="802" width="310" height="30" rx="4" fill="#000"/>
<text x="107.0" y="822.0" font-size="18.34" textLength="301.8" lengthAdjust="spacingAndGlyphs" fill="#fff" font-weight="bold">Copyright © 2020-2025 Dapiya</text>
<rect x="839.6" y="101.5" width="15" height="728" fill="url(#cb1)" stroke="#000" stroke-width="1.2"/>
<text x="848.5" y="93.8" font-size="18.34" textLength="20.7" lengthAdjust="spacingAndGlyphs" fill="#000">°C</text>
<text x="861.0" y="161.5" font-size="18.34" textLength="22.0" lengthAdjust="spacingAndGlyphs" fill="#000">40</text>
<text x="861.0" y="215.6" font-size="18.34" textLength="22.0" lengthAdjust="spacingAndGlyphs" fill="#000">30</text>
<text x="861.0" y="269.7" font-size="18.34" textLength="22.0" lengthAdjust="spacingAndGlyphs" fill="#000">20</text>
<text x="861.0" y="323.8" font-size="18.34" textLength="22.0" lengthAdjust="spacingAndGlyphs" fill="#000">10</text>
<text x="861.0" y="377.9" font-size="18.34" textLength="11.0" lengthAdjust="spacingAndGlyphs" fill="#000">0</text>
<text x="861.0" y="432.0" font-size="18.34" textLength="36.5" lengthAdjust="spacingAndGlyphs" fill="#000">−10</text>
<text x="861.0" y="486.1" font-size="18.34" textLength="36.5" lengthAdjust="spacingAndGlyphs" fill="#000">−20</text>
<text x="861.0" y="540.2" font-size="18.34" textLength="36.5" lengthAdjust="spacingAndGlyphs" fill="#000">−30</text>
<text x="861.0" y="594.3" font-size="18.34" textLength="36.5" lengthAdjust="spacingAndGlyphs" fill="#000">−40</text>
<text x="861.0" y="648.4" font-size="18.34" textLength="36.5" lengthAdjust="spacingAndGlyphs" fill="#000">−50</text>
<text x="861.0" y="702.5" font-size="18.34" textLength="36.5" lengthAdjust="spacingAndGlyphs" fill="#000">−60</text>
<text x="861.0" y="756.6" font-size="18.34" textLength="36.5" lengthAdjust="spacingAndGlyphs" fill="#000">−70</text>
<text x="861.0" y="810.7" font-size="18.34" textLength="36.5" lengthAdjust="spacingAndGlyphs" fill="#000">−80</text>
<text x="171.4" y="851.5" font-size="14.31" textLength="37.3" lengthAdjust="spacingAndGlyphs" fill="#000">78°W</text>
<text x="316.9" y="851.5" font-size="14.31" textLength="37.3" lengthAdjust="spacingAndGlyphs" fill="#000">76°W</text>
<text x="462.4" y="851.5" font-size="14.31" textLength="37.3" lengthAdjust="spacingAndGlyphs" fill="#000">74°W</text>
<text x="608.4" y="851.5" font-size="14.31" textLength="37.3" lengthAdjust="spacingAndGlyphs" fill="#000">72°W</text>
<text x="753.9" y="851.5" font-size="14.31" textLength="37.3" lengthAdjust="spacingAndGlyphs" fill="#000">70°W</text>
<text x="62.0" y="212.9" font-size="14.31" textLength="34.0" lengthAdjust="spacingAndGlyphs" fill="#000">18°N</text>
<text x="62.0" y="358.4" font-size="14.31" textLength="34.0" lengthAdjust="spacingAndGlyphs" fill="#000">16°N</text>
<text x="62.0" y="503.9" font-size="14.31" textLength="34.0" lengthAdjust="spacingAndGlyphs" fill="#000">14°N</text>
<text x="62.0" y="649.9" font-size="14.31" textLength="34.0" lengthAdjust="spacingAndGlyphs" fill="#000">12°N</text>
<text x="62.0" y="795.4" font-size="14.31" textLength="34.0" lengthAdjust="spacingAndGlyphs" fill="#000">10°N</text>
</g>
<g id="p2">
<defs><clipPath id="c2"><path d="M1002 103 L1705 103 L1694 450 L1686 732 L1015 732 L1006 300 Z"/></clipPath>
<clipPath id="c2ax"><rect x="981" y="103" width="726" height="726"/></clipPath>
<linearGradient id="cb2" x1="0" y1="0" x2="0" y2="1">
<stop offset="0.0000" stop-color="#ffffff"/>
<stop offset="0.3333" stop-color="#ffffff"/>
<stop offset="0.3333" stop-color="#6a1a72"/>
<stop offset="0.3667" stop-color="#4040a0"/>
<stop offset="0.4000" stop-color="#2060d0"/>
<stop offset="0.4267" stop-color="#0a7cff"/>
<stop offset="0.4667" stop-color="#30a8f8"/>
<stop offset="0.5133" stop-color="#80ffff"/>
<stop offset="0.5400" stop-color="#80ffc0"/>
<stop offset="0.5667" stop-color="#78f070"/>
<stop offset="0.6000" stop-color="#d0f870"/>
<stop offset="0.6167" stop-color="#ffff80"/>
<stop offset="0.6400" stop-color="#ffd860"/>
<stop offset="0.6667" stop-color="#ffb030"/>
<stop offset="0.6933" stop-color="#ff8000"/>
<stop offset="0.7333" stop-color="#d05808"/>
<stop offset="0.7667" stop-color="#a03008"/>
<stop offset="0.8000" stop-color="#800000"/>
<stop offset="1.0000" stop-color="#800000"/>
</linearGradient></defs>
<defs>
<filter id="b2" x="-60%" y="-60%" width="220%" height="220%"><feGaussianBlur stdDeviation="2"/></filter>
<filter id="b4" x="-60%" y="-60%" width="220%" height="220%"><feGaussianBlur stdDeviation="4"/></filter>
<filter id="b8" x="-60%" y="-60%" width="220%" height="220%"><feGaussianBlur stdDeviation="8"/></filter>
<filter id="b14" x="-60%" y="-60%" width="220%" height="220%"><feGaussianBlur stdDeviation="14"/></filter>
<filter id="b22" x="-60%" y="-60%" width="220%" height="220%"><feGaussianBlur stdDeviation="22"/></filter>
<filter id="b35" x="-60%" y="-60%" width="220%" height="220%"><feGaussianBlur stdDeviation="35"/></filter>
</defs>
<g clip-path="url(#c2)">
<rect x="981" y="103" width="726" height="630" fill="#86f58a"/>
<g filter="url(#b22)" fill="#7cfdd4">
<ellipse cx="1110" cy="292" rx="95" ry="32"/><ellipse cx="1195" cy="285" rx="45" ry="22"/>
<ellipse cx="1085" cy="520" rx="70" ry="95"/><ellipse cx="1035" cy="440" rx="28" ry="45"/><ellipse cx="1120" cy="600" rx="50" ry="28"/>
<ellipse cx="1010" cy="250" rx="20" ry="120"/>
</g>
<g filter="url(#b14)" fill="#f4f57c">
<polygon points="1225.0,103.0 1232.0,150.0 1262.0,178.0 1300.0,185.0 1325.0,250.0 1310.0,330.0 1275.0,400.0 1250.0,450.0 1225.0,480.0 1160.0,500.0 1185.0,560.0 1225.0,640.0 1190.0,690.0 1170.0,740.0 1720.0,740.0 1720.0,90.0 1490.0,90.0 1440.0,140.0 1380.0,120.0 1330.0,125.0 1300.0,100.0"/>
</g>
<g filter="url(#b14)" fill="#f4f57c" opacity="0.65">
<ellipse cx="1215" cy="450" rx="55" ry="40"/><ellipse cx="1245" cy="560" rx="60" ry="70"/><ellipse cx="1180" cy="660" rx="70" ry="40"/>
<ellipse cx="1040" cy="690" rx="35" ry="45"/><ellipse cx="1150" cy="245" rx="45" ry="20"/><ellipse cx="1100" cy="130" rx="40" ry="18"/>
<ellipse cx="1130" cy="390" rx="80" ry="30"/><ellipse cx="1060" cy="250" rx="22" ry="12"/><ellipse cx="1200" cy="340" rx="45" ry="28"/>
<ellipse cx="1230" cy="225" rx="85" ry="38"/><ellipse cx="1300" cy="330" rx="40" ry="110"/><ellipse cx="1285" cy="520" rx="35" ry="90"/><ellipse cx="1165" cy="320" rx="18" ry="12"/>
</g>
<g filter="url(#b14)" fill="#ffa533">
<polygon points="1240.0,95.0 1242.0,140.0 1270.0,168.0 1305.0,170.0 1345.0,160.0 1352.0,250.0 1345.0,330.0 1325.0,400.0 1300.0,450.0 1315.0,480.0 1320.0,600.0 1285.0,630.0 1262.0,670.0 1245.0,740.0 1720.0,740.0 1720.0,160.0 1600.0,178.0 1500.0,172.0 1400.0,150.0 1340.0,140.0 1330.0,95.0"/>
</g>
<g filter="url(#b4)" fill="#ffb347" opacity="0.75">
<polygon points="1160.0,500.0 1170.0,503.0 1186.0,545.0 1222.0,580.0 1258.0,608.0 1300.0,632.0 1300.0,644.0 1254.0,624.0 1214.0,592.0 1182.0,558.0 1165.0,528.0" opacity="0.8"/>
<ellipse cx="1205" cy="495" rx="14" ry="18"/><ellipse cx="1048" cy="698" rx="22" ry="8" transform="rotate(35 1048 698)"/>
<ellipse cx="1100" cy="128" rx="26" ry="12"/><ellipse cx="1148" cy="246" rx="28" ry="14"/><ellipse cx="1300" cy="250" rx="22" ry="45" opacity="0.7"/><ellipse cx="1160" cy="254" rx="16" ry="10"/><ellipse cx="1050" cy="242" rx="10" ry="7"/>
<ellipse cx="1165" cy="372" rx="35" ry="14"/>
</g>
<g stroke-linecap="round" fill="none" opacity="0.85">
<line x1="1310" y1="345" x2="1269" y2="298" stroke="#b85608" stroke-width="2.7" opacity="0.56"/>
<line x1="1360" y1="339" x2="1331" y2="293" stroke="#fff27c" stroke-width="2.1" opacity="0.36"/>
<line x1="1389" y1="413" x2="1365" y2="381" stroke="#c8620c" stroke-width="3.2" opacity="0.46"/>
<line x1="1384" y1="379" x2="1361" y2="343" stroke="#c8620c" stroke-width="3.0" opacity="0.51"/>
<line x1="1413" y1="239" x2="1400" y2="193" stroke="#f09a2a" stroke-width="1.9" opacity="0.55"/>
<line x1="1321" y1="482" x2="1279" y2="464" stroke="#c8620c" stroke-width="3.3" opacity="0.35"/>
<line x1="1476" y1="300" x2="1472" y2="266" stroke="#fff27c" stroke-width="2.3" opacity="0.38"/>
<line x1="1293" y1="467" x2="1261" y2="452" stroke="#d8740f" stroke-width="2.1" opacity="0.55"/>
<line x1="1355" y1="403" x2="1307" y2="351" stroke="#b85608" stroke-width="2.5" opacity="0.49"/>
<line x1="1486" y1="390" x2="1480" y2="313" stroke="#fff27c" stroke-width="2.3" opacity="0.66"/>
<line x1="1406" y1="391" x2="1365" y2="317" stroke="#d8740f" stroke-width="1.8" opacity="0.56"/>
<line x1="1429" y1="311" x2="1420" y2="278" stroke="#b85608" stroke-width="2.2" opacity="0.56"/>
<line x1="1434" y1="342" x2="1423" y2="304" stroke="#fff27c" stroke-width="2.2" opacity="0.68"/>
<line x1="1434" y1="258" x2="1423" y2="206" stroke="#e8861c" stroke-width="2.7" opacity="0.44"/>
<line x1="1402" y1="319" x2="1382" y2="270" stroke="#ffe87a" stroke-width="2.3" opacity="0.41"/>
<line x1="1426" y1="390" x2="1409" y2="351" stroke="#fff27c" stroke-width="2.9" opacity="0.45"/>
<line x1="1463" y1="346" x2="1458" y2="316" stroke="#d8740f" stroke-width="2.2" opacity="0.37"/>
<line x1="1313" y1="483" x2="1263" y2="462" stroke="#b85608" stroke-width="3.0" opacity="0.55"/>
<line x1="1340" y1="482" x2="1312" y2="469" stroke="#fff27c" stroke-width="2.4" opacity="0.36"/>
<line x1="1400" y1="401" x2="1383" y2="373" stroke="#c8620c" stroke-width="3.6" opacity="0.38"/>
<line x1="1374" y1="253" x2="1345" y2="185" stroke="#ffe87a" stroke-width="2.0" opacity="0.52"/>
<line x1="1381" y1="332" x2="1366" y2="305" stroke="#c8620c" stroke-width="3.0" opacity="0.70"/>
<line x1="1427" y1="230" x2="1416" y2="180" stroke="#fff27c" stroke-width="2.6" opacity="0.51"/>
<line x1="1329" y1="326" x2="1295" y2="279" stroke="#c8620c" stroke-width="2.7" opacity="0.43"/>
<line x1="1379" y1="303" x2="1352" y2="245" stroke="#ffe87a" stroke-width="3.4" opacity="0.48"/>
<line x1="1410" y1="328" x2="1380" y2="252" stroke="#c8620c" stroke-width="2.4" opacity="0.58"/>
<line x1="1367" y1="357" x2="1347" y2="325" stroke="#c8620c" stroke-width="3.1" opacity="0.68"/>
<line x1="1330" y1="439" x2="1285" y2="407" stroke="#c8620c" stroke-width="3.3" opacity="0.48"/>
<line x1="1302" y1="303" x2="1260" y2="248" stroke="#fff27c" stroke-width="2.6" opacity="0.38"/>
<line x1="1376" y1="286" x2="1356" y2="243" stroke="#ffd060" stroke-width="3.0" opacity="0.49"/>
<line x1="1322" y1="480" x2="1268" y2="456" stroke="#ffe87a" stroke-width="3.5" opacity="0.59"/>
<line x1="1377" y1="298" x2="1350" y2="240" stroke="#ffe87a" stroke-width="3.3" opacity="0.59"/>
<line x1="1300" y1="373" x2="1271" y2="345" stroke="#ffd060" stroke-width="2.5" opacity="0.55"/>
<line x1="1288" y1="321" x2="1261" y2="290" stroke="#fff27c" stroke-width="3.5" opacity="0.39"/>
<line x1="1388" y1="421" x2="1358" y2="382" stroke="#d8740f" stroke-width="2.7" opacity="0.36"/>
<line x1="1445" y1="384" x2="1423" y2="313" stroke="#d8740f" stroke-width="3.0" opacity="0.67"/>
<line x1="1301" y1="302" x2="1267" y2="259" stroke="#fff27c" stroke-width="3.5" opacity="0.38"/>
<line x1="1376" y1="268" x2="1353" y2="214" stroke="#fff27c" stroke-width="2.3" opacity="0.58"/>
<line x1="1339" y1="437" x2="1291" y2="401" stroke="#d8740f" stroke-width="2.2" opacity="0.54"/>
<line x1="1306" y1="319" x2="1287" y2="294" stroke="#fff27c" stroke-width="3.5" opacity="0.54"/>
<line x1="1484" y1="363" x2="1481" y2="328" stroke="#b85608" stroke-width="2.6" opacity="0.67"/>
<line x1="1419" y1="310" x2="1405" y2="268" stroke="#d8740f" stroke-width="2.6" opacity="0.64"/>
<line x1="1447" y1="285" x2="1438" y2="239" stroke="#b85608" stroke-width="1.9" opacity="0.44"/>
<line x1="1334" y1="202" x2="1321" y2="173" stroke="#e8861c" stroke-width="3.0" opacity="0.46"/>
<line x1="1423" y1="377" x2="1401" y2="324" stroke="#c8620c" stroke-width="3.1" opacity="0.66"/>
<line x1="1349" y1="308" x2="1309" y2="241" stroke="#ffd060" stroke-width="2.8" opacity="0.65"/>
<line x1="1310" y1="246" x2="1288" y2="209" stroke="#ffe87a" stroke-width="3.4" opacity="0.46"/>
<line x1="1436" y1="372" x2="1419" y2="322" stroke="#ffd060" stroke-width="2.0" opacity="0.55"/>
<line x1="1368" y1="273" x2="1348" y2="228" stroke="#ffd060" stroke-width="3.2" opacity="0.52"/>
<line x1="1448" y1="284" x2="1441" y2="244" stroke="#c8620c" stroke-width="3.3" opacity="0.70"/>
<line x1="1470" y1="371" x2="1464" y2="338" stroke="#ffe87a" stroke-width="1.9" opacity="0.38"/>
<line x1="1305" y1="376" x2="1269" y2="342" stroke="#d8740f" stroke-width="1.8" opacity="0.60"/>
<line x1="1446" y1="355" x2="1431" y2="302" stroke="#ffe87a" stroke-width="3.5" opacity="0.56"/>
<line x1="1417" y1="341" x2="1405" y2="307" stroke="#ffd060" stroke-width="3.3" opacity="0.49"/>
<line x1="1380" y1="235" x2="1362" y2="186" stroke="#ffd060" stroke-width="3.2" opacity="0.46"/>
<line x1="1466" y1="382" x2="1458" y2="338" stroke="#ffe87a" stroke-width="2.4" opacity="0.58"/>
<line x1="1336" y1="318" x2="1307" y2="275" stroke="#fff27c" stroke-width="2.2" opacity="0.39"/>
<line x1="1322" y1="213" x2="1298" y2="168" stroke="#ffe87a" stroke-width="2.6" opacity="0.41"/>
<line x1="1303" y1="320" x2="1282" y2="294" stroke="#ffe87a" stroke-width="2.3" opacity="0.49"/>
<line x1="1435" y1="396" x2="1408" y2="329" stroke="#fff27c" stroke-width="2.1" opacity="0.61"/>
<line x1="1397" y1="393" x2="1363" y2="338" stroke="#c8620c" stroke-width="3.4" opacity="0.47"/>
<line x1="1388" y1="332" x2="1356" y2="269" stroke="#ffd060" stroke-width="3.5" opacity="0.61"/>
<line x1="1335" y1="454" x2="1268" y2="411" stroke="#fff27c" stroke-width="3.3" opacity="0.45"/>
<line x1="1325" y1="272" x2="1289" y2="214" stroke="#f09a2a" stroke-width="3.2" opacity="0.42"/>
<line x1="1461" y1="385" x2="1454" y2="353" stroke="#d8740f" stroke-width="1.8" opacity="0.36"/>
<line x1="1464" y1="356" x2="1456" y2="314" stroke="#ffe87a" stroke-width="2.7" opacity="0.42"/>
<line x1="1325" y1="261" x2="1304" y2="225" stroke="#f09a2a" stroke-width="2.5" opacity="0.40"/>
<line x1="1337" y1="377" x2="1298" y2="333" stroke="#b85608" stroke-width="2.7" opacity="0.59"/>
<line x1="1335" y1="441" x2="1295" y2="412" stroke="#ffe87a" stroke-width="3.4" opacity="0.46"/>
<line x1="1398" y1="349" x2="1372" y2="296" stroke="#ffe87a" stroke-width="2.4" opacity="0.49"/>
<line x1="1309" y1="392" x2="1272" y2="359" stroke="#d8740f" stroke-width="3.2" opacity="0.61"/>
<line x1="1306" y1="387" x2="1278" y2="361" stroke="#ffd060" stroke-width="2.1" opacity="0.62"/>
<line x1="1450" y1="331" x2="1443" y2="300" stroke="#fff27c" stroke-width="2.1" opacity="0.45"/>
<line x1="1368" y1="359" x2="1335" y2="309" stroke="#d8740f" stroke-width="3.1" opacity="0.66"/>
<line x1="1381" y1="264" x2="1365" y2="223" stroke="#f09a2a" stroke-width="3.2" opacity="0.49"/>
<line x1="1313" y1="333" x2="1269" y2="279" stroke="#ffd060" stroke-width="2.5" opacity="0.64"/>
<line x1="1332" y1="235" x2="1298" y2="169" stroke="#ffe87a" stroke-width="3.5" opacity="0.57"/>
<line x1="1313" y1="370" x2="1286" y2="343" stroke="#fff27c" stroke-width="2.5" opacity="0.41"/>
<line x1="1480" y1="377" x2="1475" y2="331" stroke="#b85608" stroke-width="2.1" opacity="0.67"/>
<line x1="1440" y1="222" x2="1434" y2="192" stroke="#e8861c" stroke-width="2.4" opacity="0.42"/>
<line x1="1312" y1="343" x2="1276" y2="302" stroke="#ffe87a" stroke-width="2.1" opacity="0.62"/>
<line x1="1351" y1="385" x2="1300" y2="325" stroke="#ffe87a" stroke-width="3.0" opacity="0.62"/>
<line x1="1328" y1="456" x2="1265" y2="418" stroke="#fff27c" stroke-width="3.2" opacity="0.63"/>
<line x1="1435" y1="210" x2="1429" y2="173" stroke="#fff27c" stroke-width="2.3" opacity="0.54"/>
<line x1="1462" y1="257" x2="1453" y2="181" stroke="#e8861c" stroke-width="2.6" opacity="0.67"/>
<line x1="1329" y1="325" x2="1306" y2="293" stroke="#ffe87a" stroke-width="2.4" opacity="0.49"/>
<line x1="1325" y1="494" x2="1290" y2="481" stroke="#fff27c" stroke-width="2.6" opacity="0.69"/>
<line x1="1412" y1="252" x2="1404" y2="222" stroke="#f09a2a" stroke-width="2.2" opacity="0.55"/>
<line x1="1385" y1="432" x2="1328" y2="369" stroke="#ffd060" stroke-width="3.4" opacity="0.40"/>
<line x1="1307" y1="226" x2="1271" y2="165" stroke="#ffe87a" stroke-width="2.8" opacity="0.38"/>
<line x1="1316" y1="418" x2="1271" y2="383" stroke="#ffe87a" stroke-width="3.3" opacity="0.38"/>
<line x1="1327" y1="476" x2="1267" y2="447" stroke="#ffd060" stroke-width="2.1" opacity="0.36"/>
<line x1="1415" y1="326" x2="1389" y2="256" stroke="#ffd060" stroke-width="3.0" opacity="0.62"/>
<line x1="1426" y1="312" x2="1413" y2="266" stroke="#c8620c" stroke-width="3.1" opacity="0.56"/>
</g>
<defs><clipPath id="c2o"><polygon points="1240.0,95.0 1242.0,140.0 1270.0,168.0 1305.0,170.0 1345.0,160.0 1352.0,250.0 1345.0,330.0 1325.0,400.0 1300.0,450.0 1315.0,480.0 1320.0,600.0 1285.0,630.0 1262.0,670.0 1245.0,740.0 1720.0,740.0 1720.0,160.0 1600.0,178.0 1500.0,172.0 1400.0,150.0 1340.0,140.0 1330.0,95.0"/></clipPath></defs>
<g filter="url(#b8)"><g clip-path="url(#c2o)">
<g filter="url(#b35)" fill="#f5962a">
<polygon points="1172.3,420.2 1203.6,396.5 1229.7,392.4 1262.3,369.5 1300.4,321.4 1344.7,289.5 1421.1,272.6 1540.5,280.4 1557.6,252.8 1574.2,228.2 1607.3,215.5 1650.5,220.1 1703.8,246.8 1749.7,288.5 1788.7,346.3 1809.9,440.0 1817.9,540.2 1804.6,616.3 1778.1,679.9 1738.0,730.2 1696.6,756.8 1672.9,743.6 1631.4,749.4 1584.5,778.9 1539.9,805.6 1460.7,819.0 1364.5,807.3 1279.5,779.2 1227.4,745.9 1183.5,713.7 1151.7,685.7 1151.7,657.9 1163.2,645.3 1178.7,662.7 1165.8,617.4 1152.4,572.9 1150.7,512.4 1157.4,458.9 1164.5,433.3"/>
</g>
<g filter="url(#b35)" fill="#ec821b">
<polygon points="1223.7,439.6 1252.5,421.8 1276.9,420.6 1304.9,404.2 1333.6,365.3 1368.1,339.3 1428.6,327.1 1522.8,332.4 1538.6,304.4 1554.0,279.4 1583.3,265.0 1621.1,266.6 1667.4,288.0 1707.1,323.3 1740.4,372.6 1756.5,453.2 1762.9,538.2 1751.3,602.7 1728.4,656.4 1693.4,698.1 1656.8,718.9 1633.9,704.8 1597.4,706.2 1559.5,729.9 1524.1,752.9 1459.8,764.0 1381.6,755.0 1311.1,734.2 1267.2,707.9 1228.9,682.7 1200.5,660.4 1202.2,636.3 1214.2,624.8 1228.1,638.6 1218.4,601.1 1206.8,564.8 1205.6,515.1 1211.0,471.2 1216.8,450.2"/>
<ellipse cx="1420" cy="290" rx="80" ry="70" fill="#ea8a24" opacity="0.8"/>
</g>
<g filter="url(#b22)" fill="#d96c11">
<polygon points="1263.0,454.4 1289.8,441.1 1313.0,442.1 1337.5,430.8 1358.9,398.8 1385.9,377.4 1434.4,368.7 1509.2,372.2 1524.0,343.8 1538.6,318.4 1565.0,302.8 1598.7,302.1 1639.6,319.5 1674.5,349.8 1703.5,392.7 1715.7,463.3 1721.0,536.8 1710.6,592.3 1690.5,638.4 1659.3,673.6 1626.4,689.9 1604.2,675.1 1571.3,673.2 1540.5,692.5 1512.0,712.7 1459.2,722.0 1394.7,715.1 1335.2,699.8 1297.6,678.9 1263.6,659.0 1237.8,641.0 1240.8,619.7 1253.1,609.1 1265.9,620.2 1258.5,588.7 1248.4,558.6 1247.6,517.2 1252.0,480.6 1256.8,463.0"/>
</g>
<g filter="url(#b14)" fill="#bf5408">
<polygon points="1296.7,467.2 1321.7,457.7 1343.9,460.5 1365.4,453.5 1380.7,427.5 1401.2,410.0 1439.3,404.4 1497.6,406.3 1511.6,377.6 1525.4,351.9 1549.3,335.2 1579.4,332.5 1615.8,346.5 1646.6,372.5 1671.9,409.9 1680.8,471.9 1685.0,535.5 1675.7,583.4 1658.0,623.0 1630.1,652.5 1600.4,665.0 1578.7,649.7 1549.0,645.0 1524.1,660.4 1501.6,678.2 1458.6,686.0 1405.9,680.9 1355.9,670.4 1323.6,654.0 1293.3,638.7 1269.7,624.4 1273.9,605.5 1286.5,595.7 1298.2,604.4 1292.9,578.0 1284.0,553.2 1283.6,518.9 1287.1,488.6 1291.0,474.1"/>
</g>
<g filter="url(#b8)" fill="#a03505">
<polygon points="1320.1,476.0 1343.9,469.2 1365.4,473.3 1384.8,469.3 1395.7,447.4 1411.8,432.6 1442.7,429.2 1489.5,429.9 1502.9,401.1 1516.2,375.2 1538.4,357.7 1566.1,353.6 1599.2,365.3 1627.2,388.3 1649.9,421.9 1656.5,477.9 1660.0,534.6 1651.5,577.2 1635.4,612.3 1609.8,637.9 1582.3,647.7 1561.0,632.0 1533.5,625.3 1512.7,638.1 1494.4,654.3 1458.3,661.0 1413.7,657.2 1370.2,649.9 1341.7,636.7 1314.0,624.6 1291.9,612.8 1296.9,595.7 1309.7,586.3 1320.7,593.4 1316.8,570.6 1308.7,549.5 1308.5,520.2 1311.4,494.2 1314.8,481.8"/>
<ellipse cx="1585" cy="320" rx="30" ry="12" transform="rotate(-35 1585 320)" opacity="0.6"/>
</g>
</g></g>
<ellipse cx="1290" cy="135" rx="45" ry="30" fill="#d96c11" filter="url(#b22)"/>
<g stroke-linecap="round" fill="none">
<line x1="1374" y1="373" x2="1355" y2="345" stroke="#ffd868" stroke-width="1.6" opacity="0.49"/>
<line x1="1467" y1="341" x2="1455" y2="268" stroke="#ffd868" stroke-width="2.3" opacity="0.45"/>
<line x1="1411" y1="315" x2="1401" y2="289" stroke="#b85608" stroke-width="2.5" opacity="0.50"/>
<line x1="1334" y1="245" x2="1314" y2="207" stroke="#a84a06" stroke-width="3.1" opacity="0.38"/>
<line x1="1481" y1="267" x2="1477" y2="201" stroke="#c8620c" stroke-width="2.7" opacity="0.48"/>
<line x1="1306" y1="325" x2="1284" y2="299" stroke="#c8620c" stroke-width="2.5" opacity="0.50"/>
<line x1="1332" y1="317" x2="1316" y2="293" stroke="#ffd868" stroke-width="1.7" opacity="0.38"/>
<line x1="1329" y1="275" x2="1307" y2="240" stroke="#a84a06" stroke-width="3.0" opacity="0.46"/>
<line x1="1456" y1="288" x2="1450" y2="253" stroke="#c8620c" stroke-width="1.8" opacity="0.54"/>
<line x1="1376" y1="251" x2="1362" y2="216" stroke="#ffe880" stroke-width="1.8" opacity="0.52"/>
<line x1="1294" y1="436" x2="1272" y2="423" stroke="#c8620c" stroke-width="2.9" opacity="0.58"/>
<line x1="1303" y1="261" x2="1269" y2="209" stroke="#a84a06" stroke-width="1.6" opacity="0.54"/>
<line x1="1374" y1="391" x2="1351" y2="360" stroke="#ffe880" stroke-width="1.9" opacity="0.58"/>
<line x1="1478" y1="323" x2="1475" y2="293" stroke="#ffe880" stroke-width="2.6" opacity="0.51"/>
<line x1="1372" y1="355" x2="1356" y2="329" stroke="#c8620c" stroke-width="3.0" opacity="0.43"/>
<line x1="1451" y1="252" x2="1443" y2="207" stroke="#d8740f" stroke-width="3.1" opacity="0.57"/>
<line x1="1404" y1="287" x2="1389" y2="243" stroke="#a84a06" stroke-width="2.8" opacity="0.47"/>
<line x1="1321" y1="279" x2="1304" y2="254" stroke="#d8740f" stroke-width="1.8" opacity="0.59"/>
<line x1="1405" y1="305" x2="1393" y2="274" stroke="#d8740f" stroke-width="1.7" opacity="0.47"/>
<line x1="1368" y1="358" x2="1339" y2="313" stroke="#ffd868" stroke-width="2.9" opacity="0.60"/>
<line x1="1299" y1="400" x2="1278" y2="383" stroke="#c8620c" stroke-width="2.8" opacity="0.42"/>
<line x1="1442" y1="358" x2="1426" y2="303" stroke="#d8740f" stroke-width="2.3" opacity="0.32"/>
<line x1="1393" y1="302" x2="1371" y2="247" stroke="#ffe880" stroke-width="2.8" opacity="0.35"/>
<line x1="1363" y1="355" x2="1322" y2="293" stroke="#c8620c" stroke-width="3.0" opacity="0.56"/>
<line x1="1308" y1="297" x2="1273" y2="250" stroke="#ffe880" stroke-width="2.3" opacity="0.50"/>
<line x1="1473" y1="332" x2="1470" y2="305" stroke="#d8740f" stroke-width="2.4" opacity="0.47"/>
<line x1="1303" y1="409" x2="1279" y2="392" stroke="#c8620c" stroke-width="3.0" opacity="0.60"/>
<line x1="1488" y1="312" x2="1485" y2="249" stroke="#b85608" stroke-width="3.0" opacity="0.38"/>
<line x1="1449" y1="322" x2="1433" y2="250" stroke="#d8740f" stroke-width="2.4" opacity="0.42"/>
<line x1="1348" y1="271" x2="1333" y2="241" stroke="#ffe880" stroke-width="2.2" opacity="0.50"/>
<line x1="1333" y1="421" x2="1279" y2="375" stroke="#d8740f" stroke-width="2.6" opacity="0.31"/>
<line x1="1442" y1="356" x2="1434" y2="330" stroke="#ffe880" stroke-width="1.8" opacity="0.31"/>
<line x1="1334" y1="401" x2="1308" y2="376" stroke="#ffd868" stroke-width="3.2" opacity="0.53"/>
<line x1="1379" y1="299" x2="1364" y2="267" stroke="#ffe880" stroke-width="3.1" opacity="0.39"/>
<line x1="1451" y1="355" x2="1440" y2="311" stroke="#d8740f" stroke-width="1.9" opacity="0.50"/>
<line x1="1481" y1="350" x2="1478" y2="311" stroke="#c8620c" stroke-width="2.2" opacity="0.41"/>
<line x1="1378" y1="392" x2="1336" y2="336" stroke="#d8740f" stroke-width="2.3" opacity="0.48"/>
<line x1="1360" y1="397" x2="1316" y2="347" stroke="#ffd868" stroke-width="2.6" opacity="0.38"/>
<line x1="1408" y1="306" x2="1394" y2="266" stroke="#d8740f" stroke-width="2.7" opacity="0.59"/>
<line x1="1442" y1="249" x2="1436" y2="217" stroke="#b85608" stroke-width="2.8" opacity="0.54"/>
<line x1="1440" y1="345" x2="1433" y2="320" stroke="#ffe880" stroke-width="2.6" opacity="0.46"/>
<line x1="1304" y1="406" x2="1265" y2="375" stroke="#ffe880" stroke-width="3.1" opacity="0.46"/>
<line x1="1364" y1="262" x2="1342" y2="214" stroke="#b85608" stroke-width="2.7" opacity="0.58"/>
<line x1="1407" y1="358" x2="1378" y2="293" stroke="#a84a06" stroke-width="1.8" opacity="0.55"/>
<line x1="1373" y1="230" x2="1353" y2="177" stroke="#ffe880" stroke-width="2.0" opacity="0.46"/>
<line x1="1300" y1="332" x2="1283" y2="313" stroke="#c8620c" stroke-width="3.1" opacity="0.50"/>
<line x1="1375" y1="280" x2="1363" y2="251" stroke="#c8620c" stroke-width="2.4" opacity="0.52"/>
<line x1="1462" y1="318" x2="1451" y2="247" stroke="#ffe880" stroke-width="2.9" opacity="0.53"/>
<line x1="1347" y1="309" x2="1314" y2="254" stroke="#d8740f" stroke-width="1.6" opacity="0.34"/>
<line x1="1311" y1="258" x2="1297" y2="237" stroke="#ffd868" stroke-width="1.7" opacity="0.40"/>
<line x1="1376" y1="287" x2="1349" y2="226" stroke="#c8620c" stroke-width="2.1" opacity="0.55"/>
<line x1="1408" y1="358" x2="1380" y2="297" stroke="#ffe880" stroke-width="1.9" opacity="0.35"/>
<line x1="1376" y1="281" x2="1354" y2="231" stroke="#c8620c" stroke-width="2.9" opacity="0.38"/>
<line x1="1338" y1="270" x2="1308" y2="216" stroke="#c8620c" stroke-width="1.8" opacity="0.43"/>
<line x1="1457" y1="304" x2="1452" y2="270" stroke="#d8740f" stroke-width="2.8" opacity="0.40"/>
<line x1="1426" y1="303" x2="1410" y2="247" stroke="#ffd868" stroke-width="2.6" opacity="0.31"/>
<line x1="1340" y1="300" x2="1325" y2="275" stroke="#b85608" stroke-width="3.0" opacity="0.53"/>
<line x1="1414" y1="356" x2="1390" y2="299" stroke="#d8740f" stroke-width="2.6" opacity="0.59"/>
<line x1="1470" y1="258" x2="1463" y2="187" stroke="#c8620c" stroke-width="2.3" opacity="0.34"/>
<line x1="1425" y1="276" x2="1411" y2="222" stroke="#ffe880" stroke-width="2.2" opacity="0.52"/>
<line x1="1370" y1="327" x2="1349" y2="290" stroke="#c8620c" stroke-width="2.9" opacity="0.57"/>
<line x1="1418" y1="282" x2="1398" y2="216" stroke="#ffd868" stroke-width="2.2" opacity="0.58"/>
<line x1="1410" y1="265" x2="1391" y2="201" stroke="#a84a06" stroke-width="1.9" opacity="0.31"/>
<line x1="1336" y1="257" x2="1315" y2="219" stroke="#c8620c" stroke-width="2.6" opacity="0.54"/>
<line x1="1361" y1="357" x2="1321" y2="298" stroke="#c8620c" stroke-width="3.2" opacity="0.51"/>
<line x1="1480" y1="203" x2="1478" y2="171" stroke="#d8740f" stroke-width="2.1" opacity="0.53"/>
<line x1="1324" y1="366" x2="1299" y2="339" stroke="#ffd868" stroke-width="3.0" opacity="0.32"/>
<line x1="1322" y1="379" x2="1277" y2="333" stroke="#b85608" stroke-width="1.7" opacity="0.34"/>
<line x1="1322" y1="384" x2="1273" y2="336" stroke="#ffd868" stroke-width="3.1" opacity="0.60"/>
<line x1="1354" y1="300" x2="1318" y2="235" stroke="#b85608" stroke-width="2.8" opacity="0.54"/>
<line x1="1383" y1="245" x2="1360" y2="183" stroke="#ffe880" stroke-width="2.2" opacity="0.50"/>
<line x1="1318" y1="461" x2="1280" y2="440" stroke="#d8740f" stroke-width="2.3" opacity="0.37"/>
<line x1="1448" y1="258" x2="1442" y2="224" stroke="#b85608" stroke-width="2.0" opacity="0.54"/>
<line x1="1466" y1="357" x2="1459" y2="319" stroke="#ffd868" stroke-width="2.4" opacity="0.35"/>
<line x1="1371" y1="320" x2="1340" y2="264" stroke="#b85608" stroke-width="2.7" opacity="0.58"/>
<line x1="1478" y1="221" x2="1475" y2="190" stroke="#d8740f" stroke-width="3.0" opacity="0.35"/>
<line x1="1444" y1="327" x2="1436" y2="291" stroke="#d8740f" stroke-width="2.7" opacity="0.45"/>
<line x1="1467" y1="347" x2="1463" y2="321" stroke="#c8620c" stroke-width="2.2" opacity="0.52"/>
</g>
<g filter="url(#b14)" fill="#ffe070" opacity="0.85">
<polygon points="1262.0,440.0 1300.0,455.0 1318.0,478.0 1314.0,500.0 1311.0,545.0 1314.0,570.0 1296.0,588.0 1288.0,606.0 1262.0,618.0 1250.0,560.0 1245.0,480.0"/>
</g>
<polygon points="1336.0,482.0 1359.0,477.0 1380.0,482.0 1398.0,480.0 1406.0,461.0 1419.0,448.0 1445.0,446.0 1484.0,446.0 1497.0,417.0 1510.0,391.0 1531.0,373.0 1557.0,368.0 1588.0,378.0 1614.0,399.0 1635.0,430.0 1640.0,482.0 1643.0,534.0 1635.0,573.0 1620.0,605.0 1596.0,628.0 1570.0,636.0 1549.0,620.0 1523.0,612.0 1505.0,623.0 1489.5,638.0 1458.0,644.0 1419.0,641.0 1380.0,636.0 1354.0,625.0 1328.0,615.0 1307.0,605.0 1312.5,589.0 1325.5,580.0 1336.0,586.0 1333.0,565.6 1325.5,547.0 1325.5,521.0 1328.0,498.0 1331.0,487.0" fill="#800000" filter="url(#b4)"/>
<polygon points="1341.6,484.1 1364.3,479.8 1385.2,485.1 1402.7,483.8 1409.6,465.8 1421.5,453.4 1445.8,451.9 1482.1,451.7 1494.9,422.6 1507.8,396.6 1528.4,378.4 1553.8,373.1 1584.0,382.5 1609.3,402.8 1629.7,432.9 1634.2,483.4 1637.0,533.8 1629.2,571.5 1614.6,602.4 1591.1,624.5 1565.7,631.9 1544.8,615.8 1519.3,607.3 1502.3,617.7 1487.8,632.3 1457.9,638.0 1420.9,635.3 1383.4,631.1 1358.3,620.9 1333.0,611.6 1312.3,602.2 1318.0,586.6 1331.1,577.8 1341.4,583.4 1338.7,563.8 1331.4,546.1 1331.5,521.3 1333.8,499.3 1336.7,488.8" fill="#800000"/>
<defs><radialGradient id="bg1"><stop offset="0" stop-color="#7a0800"/><stop offset="0.45" stop-color="#8e2002"/><stop offset="0.8" stop-color="#b85208"/><stop offset="1" stop-color="#e08a22"/></radialGradient>
<radialGradient id="bg2"><stop offset="0" stop-color="#a84405"/><stop offset="0.6" stop-color="#c8640c"/><stop offset="1" stop-color="#f09a30"/></radialGradient>
<radialGradient id="bg3"><stop offset="0" stop-color="#d87414"/><stop offset="1" stop-color="#ffb040"/></radialGradient></defs>
<g filter="url(#b4)">
<ellipse cx="1252" cy="118" rx="45.0" ry="39.0" fill="#ffb347"/>
<ellipse cx="1235" cy="205" rx="36.0" ry="36.0" fill="#ffb347"/>
<ellipse cx="1222" cy="238" rx="19.5" ry="25.5" fill="#ffb347"/>
<ellipse cx="1192" cy="226" rx="16.5" ry="16.5" fill="#ffb347"/>
<ellipse cx="1297" cy="242" rx="22.5" ry="21.0" fill="#ffb347"/>
<ellipse cx="1048" cy="356" rx="12.0" ry="12.0" fill="#ffb347"/>
<ellipse cx="1066.5" cy="366" rx="13.5" ry="15.0" fill="#ffb347"/>
<ellipse cx="1103.5" cy="368" rx="21.0" ry="19.5" fill="#ffb347"/>
<ellipse cx="1074.7" cy="384" rx="16.5" ry="16.5" fill="#ffb347"/>
<ellipse cx="1043.8" cy="386" rx="21.0" ry="12.0" fill="#ffb347"/>
<ellipse cx="1037.6" cy="407" rx="13.5" ry="15.0" fill="#ffb347"/>
<ellipse cx="1125" cy="390" rx="51.0" ry="33.0" fill="#ffb347"/>
<ellipse cx="1110" cy="396" rx="21.0" ry="13.5" fill="#ffb347"/>
<ellipse cx="1165" cy="376" rx="33.0" ry="18.0" fill="#ffb347"/>
<ellipse cx="1161" cy="163" rx="10.5" ry="9.0" fill="#ffb347"/>
<ellipse cx="1161" cy="312" rx="12.0" ry="10.5" fill="#ffb347"/>
<ellipse cx="1424" cy="367" rx="7.5" ry="9.0" fill="#ffb347"/>
<ellipse cx="1015" cy="474" rx="7.5" ry="9.0" fill="#ffb347"/>
<ellipse cx="1060" cy="484" rx="7.5" ry="7.5" fill="#ffb347"/>
<ellipse cx="1229" cy="616" rx="5.2" ry="5.2" fill="#ffb347"/>
<ellipse cx="1247" cy="591" rx="6.0" ry="7.5" fill="#ffb347"/>
<ellipse cx="1260" cy="620" rx="6.0" ry="7.5" fill="#ffb347"/>
<ellipse cx="1240" cy="635" rx="7.5" ry="9.0" fill="#ffb347"/>
<ellipse cx="1200" cy="640" rx="9.0" ry="7.5" fill="#ffb347"/>
<ellipse cx="1083" cy="685" rx="4.5" ry="6.0" fill="#ffb347"/>
</g>
<g filter="url(#b2)">
<polygon points="1282.1,118.0 1279.7,135.4 1261.8,144.3 1241.2,146.8 1223.5,136.0 1224.2,118.0 1230.1,104.2 1240.2,86.6 1261.4,93.0 1276.3,102.7" fill="url(#bg1)"/>
<polygon points="1267.2,205.0 1256.5,220.6 1244.4,234.0 1226.8,230.3 1212.0,221.7 1211.9,205.0 1212.1,188.3 1225.5,175.7 1243.4,179.2 1258.8,187.7" fill="url(#bg1)"/>
<polygon points="1237.6,238.0 1231.7,247.2 1227.0,258.0 1217.3,256.8 1211.2,248.3 1210.2,238.0 1208.5,225.2 1217.5,220.1 1226.9,218.3 1235.6,225.1" fill="url(#bg2)"/>
<polygon points="1205.4,226.0 1203.6,234.5 1195.6,237.2 1187.7,239.1 1182.3,233.1 1177.5,226.0 1180.5,217.7 1188.8,216.2 1195.3,216.0 1200.8,219.6" fill="url(#bg2)"/>
<polygon points="1316.9,242.0 1310.2,251.0 1302.5,257.7 1292.2,255.7 1283.4,251.2 1281.0,242.0 1284.2,233.3 1291.6,226.6 1302.4,226.6 1312.8,231.3" fill="url(#bg1)"/>
<polygon points="1057.6,356.0 1056.5,362.2 1051.2,365.7 1044.7,366.2 1040.3,361.6 1040.2,356.0 1039.7,350.0 1044.7,345.9 1051.2,346.1 1055.4,350.6" fill="url(#bg1)"/>
<polygon points="1077.4,366.0 1073.7,371.8 1070.0,378.1 1063.3,377.0 1059.0,372.0 1058.2,366.0 1057.2,358.5 1062.8,353.3 1069.1,357.1 1075.6,358.6" fill="url(#bg3)"/>
<polygon points="1118.6,368.0 1114.4,375.4 1107.9,380.7 1098.1,383.3 1088.9,377.8 1090.7,368.0 1090.2,359.0 1099.5,356.7 1108.8,352.9 1115.3,360.0" fill="url(#bg2)"/>
<polygon points="1088.9,384.0 1086.6,392.6 1078.5,395.7 1070.1,398.1 1065.5,390.7 1064.5,384.0 1064.3,376.5 1071.6,374.5 1078.0,373.7 1084.3,377.0" fill="url(#bg1)"/>
<polygon points="1060.2,386.0 1054.7,390.5 1047.8,393.0 1038.2,395.8 1032.1,390.9 1025.2,386.0 1029.1,379.9 1039.2,377.9 1048.6,377.6 1056.6,380.7" fill="url(#bg2)"/>
<polygon points="1048.3,407.0 1046.1,413.8 1040.8,417.9 1034.3,418.2 1028.0,414.7 1027.5,407.0 1029.7,400.6 1034.2,395.4 1040.4,397.5 1045.1,400.9" fill="url(#bg2)"/>
<polygon points="1170.4,390.0 1156.1,404.6 1137.0,413.9 1115.5,408.9 1095.2,404.0 1085.7,390.0 1100.1,378.3 1112.7,365.5 1137.4,365.3 1150.4,378.1" fill="url(#bg2)"/>
<polygon points="1126.5,396.0 1122.5,401.8 1115.2,406.3 1105.4,405.0 1096.3,402.4 1092.8,396.0 1099.7,391.2 1106.0,388.1 1115.2,385.7 1125.0,389.0" fill="url(#bg1)"/>
<polygon points="1187.2,376.0 1184.6,383.8 1172.9,389.3 1157.9,387.9 1146.2,383.5 1142.2,376.0 1146.1,368.5 1157.1,362.7 1172.0,364.2 1184.0,368.5" fill="url(#bg3)"/>
<polygon points="1169.7,163.0 1166.1,166.2 1163.5,169.6 1158.3,170.0 1155.1,166.6 1154.0,163.0 1153.9,158.6 1158.8,157.3 1163.1,157.4 1167.2,159.2" fill="url(#bg3)"/>
<polygon points="1170.7,312.0 1167.1,315.9 1163.6,318.9 1158.4,319.0 1152.8,317.2 1152.3,312.0 1152.7,306.7 1158.6,305.5 1163.6,305.0 1168.7,307.1" fill="url(#bg3)"/>
<polygon points="1430.5,367.0 1428.4,370.9 1425.5,372.7 1422.5,372.4 1419.4,371.0 1419.1,367.0 1418.9,362.6 1422.0,359.7 1425.5,361.4 1428.1,363.4" fill="url(#bg1)"/>
<polygon points="1021.3,474.0 1019.8,478.2 1016.9,481.2 1013.4,480.0 1011.1,477.4 1009.9,474.0 1009.9,469.6 1013.4,468.2 1016.6,468.0 1019.4,470.2" fill="url(#bg2)"/>
<polygon points="1065.4,484.0 1064.4,487.2 1062.0,490.2 1058.5,488.6 1056.4,486.6 1053.4,484.0 1054.8,480.2 1057.9,477.6 1061.7,478.8 1065.3,480.1" fill="url(#bg3)"/>
<polygon points="1233.6,616.0 1231.8,618.0 1230.3,620.1 1227.6,620.2 1225.6,618.5 1225.1,616.0 1226.1,613.9 1227.9,612.5 1230.1,612.7 1231.6,614.1" fill="url(#bg1)"/>
<polygon points="1251.6,591.0 1250.3,594.0 1248.6,597.0 1245.9,595.4 1242.8,594.8 1242.2,591.0 1242.8,587.2 1245.4,584.8 1248.6,584.8 1250.7,587.6" fill="url(#bg3)"/>
<polygon points="1263.6,620.0 1264.0,623.6 1261.2,624.6 1258.7,624.9 1256.1,623.5 1255.5,620.0 1256.5,616.8 1258.4,613.7 1261.4,614.4 1263.4,616.9" fill="url(#bg3)"/>
<polygon points="1245.0,635.0 1245.2,639.5 1241.7,641.3 1238.1,642.1 1235.7,638.7 1235.1,635.0 1235.4,631.0 1238.1,627.8 1241.5,629.4 1245.1,630.6" fill="url(#bg3)"/>
<polygon points="1207.9,640.0 1206.1,643.7 1202.3,646.0 1198.3,644.3 1194.3,643.5 1192.3,640.0 1195.5,637.3 1198.1,635.2 1201.9,635.2 1205.5,636.7" fill="url(#bg3)"/>
<polygon points="1086.3,685.0 1085.7,687.6 1084.2,689.7 1082.2,688.4 1080.8,687.2 1080.1,685.0 1080.7,682.8 1082.1,681.5 1084.2,679.9 1086.1,682.0" fill="url(#bg2)"/>
</g>
</g>
<g clip-path="url(#c2ax)"><g fill="none" stroke="#fff" stroke-width="2" stroke-linejoin="round">
<polygon points="1037.6,188.5 1048.0,177.0 1070.6,171.0 1095.3,172.0 1144.7,178.0 1155.0,186.5 1186.0,196.8 1196.0,214.0 1186.0,217.0 1169.4,217.0 1157.0,211.0 1148.8,212.0 1140.6,219.4 1132.4,216.3 1127.0,223.5 1128.0,228.7 1122.0,228.7 1111.8,219.4 1101.5,217.4 1085.0,218.4 1076.8,211.0 1074.7,207.0 1068.5,206.0 1062.4,198.8 1060.3,193.7 1048.0,193.7 1039.7,190.6"/>
<polyline points="1330.0,185.6 1342.7,186.7 1353.3,193.0 1361.7,201.5 1365.9,205.7 1370.2,203.6 1369.1,198.3 1378.6,192.0 1393.4,190.9 1406.1,190.9 1418.8,194.1 1435.7,197.3 1448.4,196.2 1465.3,192.0 1482.3,190.9 1497.1,190.9 1509.7,196.2 1520.3,203.6 1525.6,210.0 1527.7,218.4 1525.6,225.8 1533.0,224.8 1539.3,231.1 1543.6,237.4 1539.3,240.6 1535.1,239.6 1538.3,235.3 1544.6,237.0 1549.9,229.0 1557.3,216.3 1564.7,205.7 1571.1,196.2 1567.9,188.8 1571.1,185.6 1578.5,186.7 1585.9,182.5 1594.3,181.4 1596.4,177.2 1601.7,177.2 1604.9,181.4 1604.9,188.8 1609.1,193.0 1621.8,192.0 1634.5,190.9 1640.8,186.7 1647.2,178.2 1655.7,174.0 1668.3,174.0 1672.6,177.2 1676.8,175.1 1685.3,177.2 1706.4,174.4"/>
<polyline points="1330.0,161.3 1342.7,160.3 1355.4,163.4 1372.3,167.7 1393.4,170.8 1414.6,173.0 1431.5,175.1 1448.4,174.0 1454.8,168.7 1461.1,167.7 1475.9,168.7 1477.0,159.2 1467.4,153.9 1461.1,147.6 1454.8,140.2 1448.4,134.9 1443.1,129.6 1448.4,125.4 1446.3,119.0 1444.2,112.7 1449.5,108.5 1450.5,102.1"/>
<polyline points="1656.7,102.1 1664.1,110.6 1676.8,114.8 1689.5,112.7 1706.4,113.7"/>
<polyline points="1263.0,732.2 1283.8,719.2 1294.3,711.4 1315.1,716.6 1335.9,719.2 1339.8,706.1 1341.1,695.7 1354.1,691.8 1364.6,697.0 1385.4,698.3 1406.2,697.0 1416.6,690.5 1432.2,677.5 1450.5,667.1 1466.1,660.6 1479.1,654.1 1486.9,646.3 1490.8,635.9 1489.5,628.0 1499.9,625.4 1510.3,620.2 1520.8,612.4 1533.8,611.1 1546.8,616.3 1557.2,622.8 1565.0,635.9 1566.3,641.1 1557.2,648.9 1552.0,656.7 1546.8,664.5 1536.4,665.8 1520.8,669.7 1507.7,673.6 1503.8,682.7 1506.4,695.7 1513.0,708.7 1520.8,719.2 1526.0,729.6 1529.9,734.8"/>
<polyline points="1536.4,734.8 1544.2,721.8 1562.4,716.6 1588.5,706.1 1611.9,698.3 1632.7,687.9 1640.5,682.7 1635.3,677.5 1645.7,676.2 1656.1,685.3 1664.0,685.3 1661.4,669.7 1656.1,646.3 1648.3,631.9 1640.5,633.2 1630.1,638.5 1626.2,651.5 1630.1,664.5 1632.7,672.3 1645.7,674.9 1661.4,668.4 1666.6,672.3 1677.0,682.7 1690.0,680.6"/>
<polyline points="1312.5,732.2 1313.8,727.0 1320.3,727.0 1321.6,732.2"/>
<polygon points="1407.2,141.2 1411.4,137.6 1418.8,139.1 1429.4,145.5 1440.0,150.8 1443.1,156.0 1437.8,156.7 1427.3,152.9 1416.7,149.7 1410.4,145.5"/>
<polygon points="1674.7,120.1 1689.5,119.0 1706.4,121.1 1706.4,131.7 1689.5,128.5 1674.7,127.5"/>
<polygon points="1642.6,599.4 1645.7,598.9 1652.2,607.2 1656.7,612.4 1654.8,615.5 1649.6,612.4 1644.4,605.9"/>
</g></g>
<g clip-path="url(#c2ax)" stroke="#fff" stroke-width="2" stroke-dasharray="2 3.5" fill="none">
<line x1="1064.5" x2="1064.5" y1="103" y2="829"/>
<line x1="1210" x2="1210" y1="103" y2="829"/>
<line x1="1355.5" x2="1355.5" y1="103" y2="829"/>
<line x1="1501" x2="1501" y1="103" y2="829"/>
<line x1="1647" x2="1647" y1="103" y2="829"/>
<line x1="981" x2="1707" y1="208" y2="208"/>
<line x1="981" x2="1707" y1="353.5" y2="353.5"/>
<line x1="981" x2="1707" y1="499" y2="499"/>
<line x1="981" x2="1707" y1="645" y2="645"/>
<line x1="981" x2="1707" y1="790.5" y2="790.5"/>
</g>
<rect x="979.5" y="101.5" width="728" height="728" fill="none" stroke="#000" stroke-width="3"/>
<rect x="1714.6" y="101.5" width="15" height="728" fill="url(#cb2)" stroke="#000" stroke-width="1.2"/>
<text x="1723.5" y="93.5" font-size="18.34" textLength="20.7" lengthAdjust="spacingAndGlyphs" fill="#000">°C</text>
<text x="1736.5" y="156.3" font-size="18.34" textLength="22.0" lengthAdjust="spacingAndGlyphs" fill="#000">40</text>
<text x="1736.5" y="204.9" font-size="18.34" textLength="22.0" lengthAdjust="spacingAndGlyphs" fill="#000">30</text>
<text x="1736.5" y="253.5" font-size="18.34" textLength="22.0" lengthAdjust="spacingAndGlyphs" fill="#000">20</text>
<text x="1736.5" y="302.1" font-size="18.34" textLength="22.0" lengthAdjust="spacingAndGlyphs" fill="#000">10</text>
<text x="1736.5" y="350.7" font-size="18.34" textLength="11.0" lengthAdjust="spacingAndGlyphs" fill="#000">0</text>
<text x="1736.5" y="399.3" font-size="18.34" textLength="36.5" lengthAdjust="spacingAndGlyphs" fill="#000">−10</text>
<text x="1736.5" y="447.9" font-size="18.34" textLength="36.5" lengthAdjust="spacingAndGlyphs" fill="#000">−20</text>
<text x="1736.5" y="496.5" font-size="18.34" textLength="36.5" lengthAdjust="spacingAndGlyphs" fill="#000">−30</text>
<text x="1736.5" y="545.1" font-size="18.34" textLength="36.5" lengthAdjust="spacingAndGlyphs" fill="#000">−40</text>
<text x="1736.5" y="593.7" font-size="18.34" textLength="36.5" lengthAdjust="spacingAndGlyphs" fill="#000">−50</text>
<text x="1736.5" y="642.3" font-size="18.34" textLength="36.5" lengthAdjust="spacingAndGlyphs" fill="#000">−60</text>
<text x="1736.5" y="690.9" font-size="18.34" textLength="36.5" lengthAdjust="spacingAndGlyphs" fill="#000">−70</text>
<text x="1736.5" y="739.5" font-size="18.34" textLength="36.5" lengthAdjust="spacingAndGlyphs" fill="#000">−80</text>
<text x="1736.5" y="788.1" font-size="18.34" textLength="36.5" lengthAdjust="spacingAndGlyphs" fill="#000">−90</text>
<text x="1045.9" y="851.5" font-size="14.31" textLength="37.3" lengthAdjust="spacingAndGlyphs" fill="#000">78°W</text>
<text x="1191.4" y="851.5" font-size="14.31" textLength="37.3" lengthAdjust="spacingAndGlyphs" fill="#000">76°W</text>
<text x="1336.9" y="851.5" font-size="14.31" textLength="37.3" lengthAdjust="spacingAndGlyphs" fill="#000">74°W</text>
<text x="1482.4" y="851.5" font-size="14.31" textLength="37.3" lengthAdjust="spacingAndGlyphs" fill="#000">72°W</text>
<text x="1628.4" y="851.5" font-size="14.31" textLength="37.3" lengthAdjust="spacingAndGlyphs" fill="#000">70°W</text>
<text x="937.0" y="212.9" font-size="14.31" textLength="34.0" lengthAdjust="spacingAndGlyphs" fill="#000">18°N</text>
<text x="937.0" y="358.4" font-size="14.31" textLength="34.0" lengthAdjust="spacingAndGlyphs" fill="#000">16°N</text>
<text x="937.0" y="503.9" font-size="14.31" textLength="34.0" lengthAdjust="spacingAndGlyphs" fill="#000">14°N</text>
<text x="937.0" y="649.9" font-size="14.31" textLength="34.0" lengthAdjust="spacingAndGlyphs" fill="#000">12°N</text>
<text x="937.0" y="795.4" font-size="14.31" textLength="34.0" lengthAdjust="spacingAndGlyphs" fill="#000">10°N</text>
</g>
<g id="p3">
<clipPath id="c3a"><rect x="104" y="903" width="751" height="374"/></clipPath>
<clipPath id="c3b"><rect x="104" y="1277" width="751" height="377"/></clipPath>
<g clip-path="url(#c3a)" fill="none" stroke-linejoin="round">
<polyline points="136.2,1261.0 186.4,1261.0 203.2,1242.0 320.4,1242.0 337.2,1223.1 370.7,1223.1 404.2,1185.3 490.5,1185.3" stroke="#0000ff" stroke-width="4.6" stroke-linecap="square"/>
<polyline points="490.4,1185.0 518.0,1185.0 553.0,1166.0 583.0,1166.0 600.0,1160.0 655.0,1128.0 672.0,1110.0 686.0,1090.0 703.0,1033.0 735.0,1033.0 748.0,985.0 768.0,948.0 800.0,948.0 810.0,936.0" stroke="#0000ff" stroke-width="4.6" stroke-dasharray="4.6 7.6"/>
</g>
<g clip-path="url(#c3b)" fill="none" stroke-linejoin="round">
<polyline points="136.2,1635.5 370.2,1635.5 384.6,1631.3 490.4,1598.5" stroke="#008000" stroke-width="4.6" stroke-linecap="square"/>
<polyline points="490.4,1598.5 530.0,1588.0 570.0,1574.0 610.0,1556.0 650.0,1532.0 685.0,1505.0 710.0,1478.0 735.0,1447.0 760.0,1408.0 785.0,1362.0 805.0,1322.0 820.0,1295.0" stroke="#008000" stroke-width="4.6" stroke-dasharray="4.6 7.6"/>
</g>
<rect x="113.8" y="913" width="278.8" height="62.5" rx="4" fill="#fff" fill-opacity="0.8" stroke="#ccc" stroke-opacity="0.8" stroke-width="2.4"/>
<line x1="118.6" x2="161.9" y1="928.5" y2="928.5" stroke="#0000ff" stroke-width="4.6"/>
<line x1="118.6" x2="161.9" y1="957.4" y2="957.4" stroke="#0000ff" stroke-width="4.6" stroke-dasharray="4.6 7.6"/>
<text x="174.7" y="935.2" font-size="20.14" textLength="144.1" lengthAdjust="spacingAndGlyphs" fill="#000">Wind[max=45]</text>
<text x="174.7" y="963.6" font-size="20.14" textLength="209.2" lengthAdjust="spacingAndGlyphs" fill="#000">Wind Fore.[max=115]</text>
<polyline clip-path="url(#c3a)" fill="none" stroke-linejoin="round" points="136.2,920.1 203.2,920.1 219.9,951.1 253.4,951.1 270.2,982.1 303.7,982.1 320.4,1013.0 353.9,1013.0 387.4,1136.9 404.2,1167.9 437.7,1167.9 454.4,1229.8 471.2,1260.8 488.8,1260.8" stroke="#1f77b4" stroke-width="4.6" stroke-linecap="square"/>
<rect x="613.2" y="913" width="230.8" height="34.2" rx="4" fill="#fff" fill-opacity="0.8" stroke="#ccc" stroke-opacity="0.8" stroke-width="2.4"/>
<line x1="619.7" x2="662.4" y1="928.5" y2="928.5" stroke="#1f77b4" stroke-width="4.6"/>
<text x="675.7" y="935.2" font-size="20.14" textLength="161.1" lengthAdjust="spacingAndGlyphs" fill="#000">Pres.[min=1000]</text>
<rect x="113.8" y="1286.7" width="311.9" height="64.1" rx="4" fill="#fff" fill-opacity="0.8" stroke="#ccc" stroke-opacity="0.8" stroke-width="2.4"/>
<line x1="118.6" x2="161.9" y1="1303.8" y2="1303.8" stroke="#008000" stroke-width="4.6"/>
<line x1="118.6" x2="161.9" y1="1332" y2="1332" stroke="#008000" stroke-width="4.6" stroke-dasharray="4.6 7.6"/>
<text x="174.7" y="1310.3" font-size="20.14" textLength="164.5" lengthAdjust="spacingAndGlyphs" fill="#000">ACE[max=1.375]</text>
<text x="174.7" y="1338.6" font-size="20.14" textLength="241.7" lengthAdjust="spacingAndGlyphs" fill="#000">ACE Fore.[max=12.8938]</text>
<rect x="104.3" y="903.3" width="750" height="374" fill="none" stroke="#000" stroke-width="2.6"/>
<rect x="104.3" y="1277.3" width="750" height="376.2" fill="none" stroke="#000" stroke-width="2.6"/>
<line x1="93" x2="104" y1="1204.2" y2="1204.2" stroke="#000" stroke-width="2.6"/>
<text x="61.3" y="1209.1" font-size="14.31" textLength="17.2" lengthAdjust="spacingAndGlyphs" fill="#000">40</text>
<line x1="93" x2="104" y1="1128.5" y2="1128.5" stroke="#000" stroke-width="2.6"/>
<text x="61.3" y="1133.4" font-size="14.31" textLength="17.2" lengthAdjust="spacingAndGlyphs" fill="#000">60</text>
<line x1="93" x2="104" y1="1052.8" y2="1052.8" stroke="#000" stroke-width="2.6"/>
<text x="61.3" y="1057.7" font-size="14.31" textLength="17.2" lengthAdjust="spacingAndGlyphs" fill="#000">80</text>
<line x1="93" x2="104" y1="977.1" y2="977.1" stroke="#000" stroke-width="2.6"/>
<text x="52.7" y="982.0" font-size="14.31" textLength="25.8" lengthAdjust="spacingAndGlyphs" fill="#000">100</text>
<line x1="855" x2="866" y1="1260.8" y2="1260.8" stroke="#000" stroke-width="2.6"/>
<text x="878.7" y="1265.7" font-size="14.31" textLength="34.4" lengthAdjust="spacingAndGlyphs" fill="#000">1000</text>
<line x1="855" x2="866" y1="1198.9" y2="1198.9" stroke="#000" stroke-width="2.6"/>
<text x="878.7" y="1203.8" font-size="14.31" textLength="34.4" lengthAdjust="spacingAndGlyphs" fill="#000">1002</text>
<line x1="855" x2="866" y1="1136.9" y2="1136.9" stroke="#000" stroke-width="2.6"/>
<text x="878.7" y="1141.8" font-size="14.31" textLength="34.4" lengthAdjust="spacingAndGlyphs" fill="#000">1004</text>
<line x1="855" x2="866" y1="1075.0" y2="1075.0" stroke="#000" stroke-width="2.6"/>
<text x="878.7" y="1079.9" font-size="14.31" textLength="34.4" lengthAdjust="spacingAndGlyphs" fill="#000">1006</text>
<line x1="855" x2="866" y1="1013.0" y2="1013.0" stroke="#000" stroke-width="2.6"/>
<text x="878.7" y="1017.9" font-size="14.31" textLength="34.4" lengthAdjust="spacingAndGlyphs" fill="#000">1008</text>
<line x1="855" x2="866" y1="951.1" y2="951.1" stroke="#000" stroke-width="2.6"/>
<text x="878.7" y="956.0" font-size="14.31" textLength="34.4" lengthAdjust="spacingAndGlyphs" fill="#000">1010</text>
<line x1="93" x2="104" y1="1635.5" y2="1635.5" stroke="#000" stroke-width="2.6"/>
<text x="69.9" y="1640.4" font-size="14.31" textLength="8.6" lengthAdjust="spacingAndGlyphs" fill="#000">0</text>
<line x1="93" x2="104" y1="1582.7" y2="1582.7" stroke="#000" stroke-width="2.6"/>
<text x="69.9" y="1587.6" font-size="14.31" textLength="8.6" lengthAdjust="spacingAndGlyphs" fill="#000">2</text>
<line x1="93" x2="104" y1="1529.9" y2="1529.9" stroke="#000" stroke-width="2.6"/>
<text x="69.9" y="1534.8" font-size="14.31" textLength="8.6" lengthAdjust="spacingAndGlyphs" fill="#000">4</text>
<line x1="93" x2="104" y1="1477.1" y2="1477.1" stroke="#000" stroke-width="2.6"/>
<text x="69.9" y="1482.0" font-size="14.31" textLength="8.6" lengthAdjust="spacingAndGlyphs" fill="#000">6</text>
<line x1="93" x2="104" y1="1424.3" y2="1424.3" stroke="#000" stroke-width="2.6"/>
<text x="69.9" y="1429.2" font-size="14.31" textLength="8.6" lengthAdjust="spacingAndGlyphs" fill="#000">8</text>
<line x1="93" x2="104" y1="1371.5" y2="1371.5" stroke="#000" stroke-width="2.6"/>
<text x="61.3" y="1376.4" font-size="14.31" textLength="17.2" lengthAdjust="spacingAndGlyphs" fill="#000">10</text>
<line x1="93" x2="104" y1="1318.7" y2="1318.7" stroke="#000" stroke-width="2.6"/>
<text x="61.3" y="1323.6" font-size="14.31" textLength="17.2" lengthAdjust="spacingAndGlyphs" fill="#000">12</text>
<text x="13.0" y="1091.0" font-size="14.31" textLength="33.9" lengthAdjust="spacingAndGlyphs" fill="#000" transform="rotate(-90 30.0 1091.0)" dy="4.9">Wind</text>
<text x="26.5" y="1466.0" font-size="14.31" textLength="27.0" lengthAdjust="spacingAndGlyphs" fill="#000" transform="rotate(-90 40.0 1466.0)" dy="4.9">ACE</text>
<text x="905.2" y="1092.0" font-size="14.31" textLength="57.6" lengthAdjust="spacingAndGlyphs" fill="#000" transform="rotate(-90 934.0 1092.0)" dy="4.9">Pressure</text>
</g>
<g id="p4">
<defs><linearGradient id="p4bg" x1="0" y1="0" x2="1" y2="0.25"><stop offset="0" stop-color="#a2a2a2"/><stop offset="0.45" stop-color="#b0b0b0"/><stop offset="0.75" stop-color="#c2c2c2"/><stop offset="1" stop-color="#c6c6c6"/></linearGradient>
<filter id="p4bl" x="-50%" y="-50%" width="200%" height="200%"><feGaussianBlur stdDeviation="22"/></filter>
<clipPath id="c4"><path d="M981.3 905.7 H1710.5 L1709 1634.6 H981.3 Z"/></clipPath></defs>
<g clip-path="url(#c4)" shape-rendering="crispEdges">
<rect x="981" y="905" width="730" height="730" fill="url(#p4bg)"/>
<g filter="url(#p4bl)" shape-rendering="auto">
<ellipse cx="1110" cy="1050" rx="55" ry="35" fill="#969696"/>
<ellipse cx="1055" cy="1185" rx="50" ry="35" fill="#979797"/>
<ellipse cx="1020" cy="1440" rx="45" ry="120" fill="#9c9c9c"/>
<ellipse cx="1075" cy="930" rx="60" ry="18" fill="#a0a0a0"/>
<ellipse cx="1290" cy="920" rx="60" ry="25" fill="#a8a8a8"/>
<ellipse cx="1130" cy="975" rx="40" ry="18" fill="#bdbdbd"/>
<polygon points="1195,1260 1266,1260 1266,1400 1238,1440 1182,1490 1182,1560 1140,1640 1075,1640 1112,1545 1125,1480 1172,1420 1195,1375" fill="#c9c9c9"/>
<rect x="970" y="1000" width="28" height="640" fill="#929292"/>
<ellipse cx="1300" cy="1100" rx="50" ry="120" fill="#c4c4c4"/>
<ellipse cx="1130" cy="1215" rx="50" ry="25" fill="#b6b6b6"/>
</g>
<rect x="1191.90" y="905.70" width="42.42" height="14.58" fill="#3b3b3b"/>
<rect x="1402.50" y="905.70" width="42.42" height="14.58" fill="#3b3b3b"/>
<rect x="1444.62" y="905.70" width="126.66" height="14.58" fill="#c6c6c6"/>
<rect x="1570.98" y="905.70" width="14.34" height="14.58" fill="#3b3b3b"/>
<rect x="1585.02" y="905.70" width="14.34" height="14.58" fill="#6f6f6f"/>
<rect x="1599.06" y="905.70" width="28.38" height="14.58" fill="#3b3b3b"/>
<rect x="1627.14" y="905.70" width="84.54" height="14.58" fill="#6f6f6f"/>
<rect x="1219.98" y="919.98" width="28.38" height="14.58" fill="#3b3b3b"/>
<rect x="1416.54" y="919.98" width="42.42" height="14.58" fill="#3b3b3b"/>
<rect x="1458.66" y="919.98" width="14.34" height="14.58" fill="#c6c6c6"/>
<rect x="1472.70" y="919.98" width="14.34" height="14.58" fill="#3b3b3b"/>
<rect x="1486.74" y="919.98" width="70.50" height="14.58" fill="#c6c6c6"/>
<rect x="1556.94" y="919.98" width="56.46" height="14.58" fill="#3b3b3b"/>
<rect x="1613.10" y="919.98" width="14.34" height="14.58" fill="#6f6f6f"/>
<rect x="1627.14" y="919.98" width="14.34" height="14.58" fill="#3b3b3b"/>
<rect x="1641.18" y="919.98" width="70.50" height="14.58" fill="#6f6f6f"/>
<rect x="1234.02" y="934.26" width="14.34" height="14.58" fill="#3b3b3b"/>
<rect x="1430.58" y="934.26" width="56.46" height="14.58" fill="#3b3b3b"/>
<rect x="1486.74" y="934.26" width="84.54" height="14.58" fill="#c6c6c6"/>
<rect x="1570.98" y="934.26" width="28.38" height="14.58" fill="#3b3b3b"/>
<rect x="1599.06" y="934.26" width="28.38" height="14.58" fill="#6f6f6f"/>
<rect x="1627.14" y="934.26" width="14.34" height="14.58" fill="#3b3b3b"/>
<rect x="1641.18" y="934.26" width="70.50" height="14.58" fill="#6f6f6f"/>
<rect x="1444.62" y="948.54" width="84.54" height="14.58" fill="#3b3b3b"/>
<rect x="1528.86" y="948.54" width="42.42" height="14.58" fill="#c6c6c6"/>
<rect x="1570.98" y="948.54" width="28.38" height="14.58" fill="#3b3b3b"/>
<rect x="1599.06" y="948.54" width="28.38" height="14.58" fill="#6f6f6f"/>
<rect x="1627.14" y="948.54" width="14.34" height="14.58" fill="#3b3b3b"/>
<rect x="1641.18" y="948.54" width="70.50" height="14.58" fill="#6f6f6f"/>
<rect x="1262.10" y="962.82" width="28.38" height="14.58" fill="#3b3b3b"/>
<rect x="1472.70" y="962.82" width="56.46" height="14.58" fill="#3b3b3b"/>
<rect x="1528.86" y="962.82" width="70.50" height="14.58" fill="#c6c6c6"/>
<rect x="1599.06" y="962.82" width="14.34" height="14.58" fill="#3b3b3b"/>
<rect x="1613.10" y="962.82" width="14.34" height="14.58" fill="#6f6f6f"/>
<rect x="1627.14" y="962.82" width="28.38" height="14.58" fill="#3b3b3b"/>
<rect x="1655.22" y="962.82" width="56.46" height="14.58" fill="#6f6f6f"/>
<rect x="1276.14" y="977.10" width="14.34" height="14.58" fill="#3b3b3b"/>
<rect x="1486.74" y="977.10" width="70.50" height="14.58" fill="#3b3b3b"/>
<rect x="1556.94" y="977.10" width="42.42" height="14.58" fill="#c6c6c6"/>
<rect x="1599.06" y="977.10" width="28.38" height="14.58" fill="#3b3b3b"/>
<rect x="1627.14" y="977.10" width="28.38" height="14.58" fill="#6f6f6f"/>
<rect x="1655.22" y="977.10" width="14.34" height="14.58" fill="#3b3b3b"/>
<rect x="1669.26" y="977.10" width="42.42" height="14.58" fill="#6f6f6f"/>
<rect x="1234.02" y="991.38" width="70.50" height="14.58" fill="#3b3b3b"/>
<rect x="1500.78" y="991.38" width="14.34" height="14.58" fill="#3b3b3b"/>
<rect x="1514.82" y="991.38" width="14.34" height="14.58" fill="#6f6f6f"/>
<rect x="1528.86" y="991.38" width="42.42" height="14.58" fill="#3b3b3b"/>
<rect x="1570.98" y="991.38" width="42.42" height="14.58" fill="#c6c6c6"/>
<rect x="1613.10" y="991.38" width="14.34" height="14.58" fill="#3b3b3b"/>
<rect x="1627.14" y="991.38" width="84.54" height="14.58" fill="#6f6f6f"/>
<rect x="1248.06" y="1005.66" width="14.34" height="14.58" fill="#3b3b3b"/>
<rect x="1290.18" y="1005.66" width="42.42" height="14.58" fill="#3b3b3b"/>
<rect x="1528.86" y="1005.66" width="70.50" height="14.58" fill="#3b3b3b"/>
<rect x="1599.06" y="1005.66" width="28.38" height="14.58" fill="#c6c6c6"/>
<rect x="1627.14" y="1005.66" width="14.34" height="14.58" fill="#3b3b3b"/>
<rect x="1641.18" y="1005.66" width="70.50" height="14.58" fill="#6f6f6f"/>
<rect x="1332.30" y="1019.94" width="14.34" height="14.58" fill="#3b3b3b"/>
<rect x="1542.90" y="1019.94" width="70.50" height="14.58" fill="#3b3b3b"/>
<rect x="1613.10" y="1019.94" width="14.34" height="14.58" fill="#c6c6c6"/>
<rect x="1627.14" y="1019.94" width="28.38" height="14.58" fill="#3b3b3b"/>
<rect x="1655.22" y="1019.94" width="56.46" height="14.58" fill="#6f6f6f"/>
<rect x="1346.34" y="1034.22" width="14.34" height="14.58" fill="#3b3b3b"/>
<rect x="1542.90" y="1034.22" width="112.62" height="14.58" fill="#3b3b3b"/>
<rect x="1655.22" y="1034.22" width="56.46" height="14.58" fill="#6f6f6f"/>
<rect x="1360.38" y="1048.50" width="42.42" height="14.58" fill="#3b3b3b"/>
<rect x="1556.94" y="1048.50" width="112.62" height="14.58" fill="#3b3b3b"/>
<rect x="1669.26" y="1048.50" width="42.42" height="14.58" fill="#6f6f6f"/>
<rect x="1360.38" y="1062.78" width="42.42" height="14.58" fill="#3b3b3b"/>
<rect x="1486.74" y="1062.78" width="28.38" height="14.58" fill="#3b3b3b"/>
<rect x="1514.82" y="1062.78" width="56.46" height="14.58" fill="#c6c6c6"/>
<rect x="1570.98" y="1062.78" width="112.62" height="14.58" fill="#3b3b3b"/>
<rect x="1683.30" y="1062.78" width="28.38" height="14.58" fill="#6f6f6f"/>
<rect x="1444.62" y="1077.06" width="28.38" height="14.58" fill="#3b3b3b"/>
<rect x="1472.70" y="1077.06" width="126.66" height="14.58" fill="#c6c6c6"/>
<rect x="1599.06" y="1077.06" width="98.58" height="14.58" fill="#3b3b3b"/>
<rect x="1697.34" y="1077.06" width="14.34" height="14.58" fill="#6f6f6f"/>
<rect x="1234.02" y="1091.34" width="14.34" height="14.58" fill="#3b3b3b"/>
<rect x="1388.46" y="1091.34" width="112.62" height="14.58" fill="#3b3b3b"/>
<rect x="1500.78" y="1091.34" width="98.58" height="14.58" fill="#c6c6c6"/>
<rect x="1599.06" y="1091.34" width="84.54" height="14.58" fill="#3b3b3b"/>
<rect x="1683.30" y="1091.34" width="28.38" height="14.58" fill="#6f6f6f"/>
<rect x="1248.06" y="1105.62" width="28.38" height="14.58" fill="#3b3b3b"/>
<rect x="1416.54" y="1105.62" width="14.34" height="14.58" fill="#3b3b3b"/>
<rect x="1430.58" y="1105.62" width="56.46" height="14.58" fill="#c6c6c6"/>
<rect x="1486.74" y="1105.62" width="14.34" height="14.58" fill="#3b3b3b"/>
<rect x="1500.78" y="1105.62" width="14.34" height="14.58" fill="#6f6f6f"/>
<rect x="1514.82" y="1105.62" width="14.34" height="14.58" fill="#3b3b3b"/>
<rect x="1528.86" y="1105.62" width="42.42" height="14.58" fill="#c6c6c6"/>
<rect x="1570.98" y="1105.62" width="112.62" height="14.58" fill="#3b3b3b"/>
<rect x="1683.30" y="1105.62" width="14.34" height="14.58" fill="#6f6f6f"/>
<rect x="1697.34" y="1105.62" width="14.34" height="14.58" fill="#3b3b3b"/>
<rect x="1262.10" y="1119.90" width="28.38" height="14.58" fill="#3b3b3b"/>
<rect x="1416.54" y="1119.90" width="14.34" height="14.58" fill="#3b3b3b"/>
<rect x="1430.58" y="1119.90" width="70.50" height="14.58" fill="#c6c6c6"/>
<rect x="1500.78" y="1119.90" width="42.42" height="14.58" fill="#3b3b3b"/>
<rect x="1542.90" y="1119.90" width="42.42" height="14.58" fill="#c6c6c6"/>
<rect x="1585.02" y="1119.90" width="56.46" height="14.58" fill="#3b3b3b"/>
<rect x="1641.18" y="1119.90" width="28.38" height="14.58" fill="#6f6f6f"/>
<rect x="1669.26" y="1119.90" width="14.34" height="14.58" fill="#3b3b3b"/>
<rect x="1683.30" y="1119.90" width="28.38" height="14.58" fill="#6f6f6f"/>
<rect x="1276.14" y="1134.18" width="28.38" height="14.58" fill="#3b3b3b"/>
<rect x="1388.46" y="1134.18" width="70.50" height="14.58" fill="#3b3b3b"/>
<rect x="1458.66" y="1134.18" width="42.42" height="14.58" fill="#c6c6c6"/>
<rect x="1500.78" y="1134.18" width="70.50" height="14.58" fill="#3b3b3b"/>
<rect x="1570.98" y="1134.18" width="14.34" height="14.58" fill="#c6c6c6"/>
<rect x="1585.02" y="1134.18" width="56.46" height="14.58" fill="#3b3b3b"/>
<rect x="1641.18" y="1134.18" width="70.50" height="14.58" fill="#6f6f6f"/>
<rect x="1290.18" y="1148.46" width="28.38" height="14.58" fill="#3b3b3b"/>
<rect x="1388.46" y="1148.46" width="84.54" height="14.58" fill="#3b3b3b"/>
<rect x="1472.70" y="1148.46" width="42.42" height="14.58" fill="#c6c6c6"/>
<rect x="1514.82" y="1148.46" width="126.66" height="14.58" fill="#3b3b3b"/>
<rect x="1641.18" y="1148.46" width="70.50" height="14.58" fill="#6f6f6f"/>
<rect x="1318.26" y="1162.74" width="42.42" height="14.58" fill="#3b3b3b"/>
<rect x="1360.38" y="1162.74" width="42.42" height="14.58" fill="#c6c6c6"/>
<rect x="1402.50" y="1162.74" width="98.58" height="14.58" fill="#3b3b3b"/>
<rect x="1500.78" y="1162.74" width="28.38" height="14.58" fill="#c6c6c6"/>
<rect x="1528.86" y="1162.74" width="42.42" height="14.58" fill="#3b3b3b"/>
<rect x="1570.98" y="1162.74" width="14.34" height="14.58" fill="#c6c6c6"/>
<rect x="1585.02" y="1162.74" width="70.50" height="14.58" fill="#3b3b3b"/>
<rect x="1655.22" y="1162.74" width="56.46" height="14.58" fill="#6f6f6f"/>
<rect x="1332.30" y="1177.02" width="56.46" height="14.58" fill="#3b3b3b"/>
<rect x="1388.46" y="1177.02" width="14.34" height="14.58" fill="#c6c6c6"/>
<rect x="1402.50" y="1177.02" width="281.10" height="14.58" fill="#3b3b3b"/>
<rect x="1683.30" y="1177.02" width="28.38" height="14.58" fill="#6f6f6f"/>
<rect x="1346.34" y="1191.30" width="182.82" height="14.58" fill="#3b3b3b"/>
<rect x="1528.86" y="1191.30" width="42.42" height="14.58" fill="#c6c6c6"/>
<rect x="1570.98" y="1191.30" width="126.66" height="14.58" fill="#3b3b3b"/>
<rect x="1697.34" y="1191.30" width="14.34" height="14.58" fill="#6f6f6f"/>
<rect x="1346.34" y="1205.58" width="140.70" height="14.58" fill="#3b3b3b"/>
<rect x="1486.74" y="1205.58" width="14.34" height="14.58" fill="#c6c6c6"/>
<rect x="1500.78" y="1205.58" width="28.38" height="14.58" fill="#3b3b3b"/>
<rect x="1528.86" y="1205.58" width="42.42" height="14.58" fill="#c6c6c6"/>
<rect x="1570.98" y="1205.58" width="126.66" height="14.58" fill="#3b3b3b"/>
<rect x="1697.34" y="1205.58" width="14.34" height="14.58" fill="#6f6f6f"/>
<rect x="1346.34" y="1219.86" width="154.74" height="14.58" fill="#3b3b3b"/>
<rect x="1500.78" y="1219.86" width="14.34" height="14.58" fill="#c6c6c6"/>
<rect x="1514.82" y="1219.86" width="42.42" height="14.58" fill="#3b3b3b"/>
<rect x="1556.94" y="1219.86" width="14.34" height="14.58" fill="#c6c6c6"/>
<rect x="1570.98" y="1219.86" width="126.66" height="14.58" fill="#3b3b3b"/>
<rect x="1697.34" y="1219.86" width="14.34" height="14.58" fill="#6f6f6f"/>
<rect x="1234.02" y="1234.14" width="14.34" height="14.58" fill="#3b3b3b"/>
<rect x="1346.34" y="1234.14" width="224.94" height="14.58" fill="#3b3b3b"/>
<rect x="1570.98" y="1234.14" width="14.34" height="14.58" fill="#c6c6c6"/>
<rect x="1585.02" y="1234.14" width="126.66" height="14.58" fill="#3b3b3b"/>
<rect x="1234.02" y="1248.42" width="14.34" height="14.58" fill="#3b3b3b"/>
<rect x="1346.34" y="1248.42" width="14.34" height="14.58" fill="#c6c6c6"/>
<rect x="1360.38" y="1248.42" width="112.62" height="14.58" fill="#3b3b3b"/>
<rect x="1472.70" y="1248.42" width="28.38" height="14.58" fill="#6f6f6f"/>
<rect x="1500.78" y="1248.42" width="210.90" height="14.58" fill="#3b3b3b"/>
<rect x="1304.22" y="1262.70" width="14.34" height="14.58" fill="#3b3b3b"/>
<rect x="1346.34" y="1262.70" width="70.50" height="14.58" fill="#c6c6c6"/>
<rect x="1416.54" y="1262.70" width="70.50" height="14.58" fill="#3b3b3b"/>
<rect x="1486.74" y="1262.70" width="14.34" height="14.58" fill="#6f6f6f"/>
<rect x="1500.78" y="1262.70" width="196.86" height="14.58" fill="#3b3b3b"/>
<rect x="1697.34" y="1262.70" width="14.34" height="14.58" fill="#6f6f6f"/>
<rect x="1248.06" y="1276.98" width="56.46" height="14.58" fill="#3b3b3b"/>
<rect x="1304.22" y="1276.98" width="126.66" height="14.58" fill="#c6c6c6"/>
<rect x="1430.58" y="1276.98" width="42.42" height="14.58" fill="#3b3b3b"/>
<rect x="1472.70" y="1276.98" width="56.46" height="14.58" fill="#6f6f6f"/>
<rect x="1528.86" y="1276.98" width="168.78" height="14.58" fill="#3b3b3b"/>
<rect x="1697.34" y="1276.98" width="14.34" height="14.58" fill="#6f6f6f"/>
<rect x="1262.10" y="1291.26" width="70.50" height="14.58" fill="#3b3b3b"/>
<rect x="1332.30" y="1291.26" width="112.62" height="14.58" fill="#c6c6c6"/>
<rect x="1444.62" y="1291.26" width="28.38" height="14.58" fill="#3b3b3b"/>
<rect x="1472.70" y="1291.26" width="70.50" height="14.58" fill="#6f6f6f"/>
<rect x="1542.90" y="1291.26" width="112.62" height="14.58" fill="#3b3b3b"/>
<rect x="1655.22" y="1291.26" width="56.46" height="14.58" fill="#6f6f6f"/>
<rect x="1276.14" y="1305.54" width="42.42" height="14.58" fill="#3b3b3b"/>
<rect x="1318.26" y="1305.54" width="14.34" height="14.58" fill="#c6c6c6"/>
<rect x="1332.30" y="1305.54" width="28.38" height="14.58" fill="#3b3b3b"/>
<rect x="1360.38" y="1305.54" width="98.58" height="14.58" fill="#c6c6c6"/>
<rect x="1458.66" y="1305.54" width="28.38" height="14.58" fill="#3b3b3b"/>
<rect x="1486.74" y="1305.54" width="70.50" height="14.58" fill="#6f6f6f"/>
<rect x="1556.94" y="1305.54" width="98.58" height="14.58" fill="#3b3b3b"/>
<rect x="1655.22" y="1305.54" width="56.46" height="14.58" fill="#6f6f6f"/>
<rect x="1276.14" y="1319.82" width="84.54" height="14.58" fill="#3b3b3b"/>
<rect x="1360.38" y="1319.82" width="112.62" height="14.58" fill="#c6c6c6"/>
<rect x="1472.70" y="1319.82" width="28.38" height="14.58" fill="#3b3b3b"/>
<rect x="1500.78" y="1319.82" width="84.54" height="14.58" fill="#6f6f6f"/>
<rect x="1585.02" y="1319.82" width="70.50" height="14.58" fill="#3b3b3b"/>
<rect x="1655.22" y="1319.82" width="56.46" height="14.58" fill="#6f6f6f"/>
<rect x="1290.18" y="1334.10" width="224.94" height="14.58" fill="#3b3b3b"/>
<rect x="1514.82" y="1334.10" width="112.62" height="14.58" fill="#6f6f6f"/>
<rect x="1627.14" y="1334.10" width="14.34" height="14.58" fill="#3b3b3b"/>
<rect x="1641.18" y="1334.10" width="70.50" height="14.58" fill="#6f6f6f"/>
<rect x="1318.26" y="1348.38" width="196.86" height="14.58" fill="#3b3b3b"/>
<rect x="1514.82" y="1348.38" width="196.86" height="14.58" fill="#6f6f6f"/>
<rect x="1290.18" y="1362.66" width="84.54" height="14.58" fill="#3b3b3b"/>
<rect x="1374.42" y="1362.66" width="28.38" height="14.58" fill="#6f6f6f"/>
<rect x="1402.50" y="1362.66" width="28.38" height="14.58" fill="#3b3b3b"/>
<rect x="1430.58" y="1362.66" width="281.10" height="14.58" fill="#6f6f6f"/>
<rect x="1276.14" y="1376.94" width="84.54" height="14.58" fill="#3b3b3b"/>
<rect x="1360.38" y="1376.94" width="210.90" height="14.58" fill="#6f6f6f"/>
<rect x="1570.98" y="1376.94" width="70.50" height="14.58" fill="#a1a1a1"/>
<rect x="1641.18" y="1376.94" width="70.50" height="14.58" fill="#6f6f6f"/>
<rect x="1262.10" y="1391.22" width="84.54" height="14.58" fill="#3b3b3b"/>
<rect x="1346.34" y="1391.22" width="98.58" height="14.58" fill="#6f6f6f"/>
<rect x="1444.62" y="1391.22" width="267.06" height="14.58" fill="#a1a1a1"/>
<rect x="1276.14" y="1405.50" width="28.38" height="14.58" fill="#3b3b3b"/>
<rect x="1304.22" y="1405.50" width="84.54" height="14.58" fill="#6f6f6f"/>
<rect x="1388.46" y="1405.50" width="168.78" height="14.58" fill="#a1a1a1"/>
<rect x="1556.94" y="1405.50" width="56.46" height="14.58" fill="#000"/>
<rect x="1613.10" y="1405.50" width="98.58" height="14.58" fill="#a1a1a1"/>
<rect x="1262.10" y="1419.78" width="42.42" height="14.58" fill="#3b3b3b"/>
<rect x="1304.22" y="1419.78" width="42.42" height="14.58" fill="#6f6f6f"/>
<rect x="1346.34" y="1419.78" width="98.58" height="14.58" fill="#a1a1a1"/>
<rect x="1444.62" y="1419.78" width="56.46" height="14.58" fill="#000"/>
<rect x="1500.78" y="1419.78" width="28.38" height="14.58" fill="#fff"/>
<rect x="1528.86" y="1419.78" width="42.42" height="14.58" fill="#000"/>
<rect x="1570.98" y="1419.78" width="14.34" height="14.58" fill="#fff"/>
<rect x="1585.02" y="1419.78" width="84.54" height="14.58" fill="#000"/>
<rect x="1669.26" y="1419.78" width="42.42" height="14.58" fill="#a1a1a1"/>
<rect x="1234.02" y="1434.06" width="42.42" height="14.58" fill="#3b3b3b"/>
<rect x="1276.14" y="1434.06" width="56.46" height="14.58" fill="#6f6f6f"/>
<rect x="1332.30" y="1434.06" width="42.42" height="14.58" fill="#a1a1a1"/>
<rect x="1374.42" y="1434.06" width="112.62" height="14.58" fill="#000"/>
<rect x="1486.74" y="1434.06" width="168.78" height="14.58" fill="#fff"/>
<rect x="1655.22" y="1434.06" width="42.42" height="14.58" fill="#000"/>
<rect x="1697.34" y="1434.06" width="14.34" height="14.58" fill="#a1a1a1"/>
<rect x="1219.98" y="1448.34" width="42.42" height="14.58" fill="#3b3b3b"/>
<rect x="1262.10" y="1448.34" width="42.42" height="14.58" fill="#6f6f6f"/>
<rect x="1304.22" y="1448.34" width="42.42" height="14.58" fill="#a1a1a1"/>
<rect x="1346.34" y="1448.34" width="70.50" height="14.58" fill="#000"/>
<rect x="1416.54" y="1448.34" width="253.02" height="14.58" fill="#fff"/>
<rect x="1669.26" y="1448.34" width="42.42" height="14.58" fill="#000"/>
<rect x="1219.98" y="1462.62" width="28.38" height="14.58" fill="#3b3b3b"/>
<rect x="1248.06" y="1462.62" width="42.42" height="14.58" fill="#6f6f6f"/>
<rect x="1290.18" y="1462.62" width="28.38" height="14.58" fill="#a1a1a1"/>
<rect x="1318.26" y="1462.62" width="56.46" height="14.58" fill="#000"/>
<rect x="1374.42" y="1462.62" width="295.14" height="14.58" fill="#fff"/>
<rect x="1669.26" y="1462.62" width="42.42" height="14.58" fill="#000"/>
<rect x="1205.94" y="1476.90" width="42.42" height="14.58" fill="#3b3b3b"/>
<rect x="1248.06" y="1476.90" width="28.38" height="14.58" fill="#6f6f6f"/>
<rect x="1276.14" y="1476.90" width="28.38" height="14.58" fill="#a1a1a1"/>
<rect x="1304.22" y="1476.90" width="56.46" height="14.58" fill="#000"/>
<rect x="1360.38" y="1476.90" width="126.66" height="14.58" fill="#fff"/>
<rect x="1486.74" y="1476.90" width="98.58" height="14.58" fill="#878787"/>
<rect x="1585.02" y="1476.90" width="126.66" height="14.58" fill="#fff"/>
<rect x="1177.86" y="1491.18" width="70.50" height="14.58" fill="#3b3b3b"/>
<rect x="1248.06" y="1491.18" width="14.34" height="14.58" fill="#6f6f6f"/>
<rect x="1262.10" y="1491.18" width="28.38" height="14.58" fill="#a1a1a1"/>
<rect x="1290.18" y="1491.18" width="56.46" height="14.58" fill="#000"/>
<rect x="1346.34" y="1491.18" width="70.50" height="14.58" fill="#fff"/>
<rect x="1416.54" y="1491.18" width="196.86" height="14.58" fill="#878787"/>
<rect x="1613.10" y="1491.18" width="98.58" height="14.58" fill="#fff"/>
<rect x="1177.86" y="1505.46" width="42.42" height="14.58" fill="#3b3b3b"/>
<rect x="1219.98" y="1505.46" width="42.42" height="14.58" fill="#6f6f6f"/>
<rect x="1262.10" y="1505.46" width="28.38" height="14.58" fill="#a1a1a1"/>
<rect x="1290.18" y="1505.46" width="42.42" height="14.58" fill="#000"/>
<rect x="1332.30" y="1505.46" width="70.50" height="14.58" fill="#fff"/>
<rect x="1402.50" y="1505.46" width="224.94" height="14.58" fill="#878787"/>
<rect x="1627.14" y="1505.46" width="84.54" height="14.58" fill="#fff"/>
<rect x="1163.82" y="1519.74" width="42.42" height="14.58" fill="#3b3b3b"/>
<rect x="1205.94" y="1519.74" width="56.46" height="14.58" fill="#6f6f6f"/>
<rect x="1262.10" y="1519.74" width="28.38" height="14.58" fill="#a1a1a1"/>
<rect x="1290.18" y="1519.74" width="28.38" height="14.58" fill="#000"/>
<rect x="1318.26" y="1519.74" width="70.50" height="14.58" fill="#fff"/>
<rect x="1388.46" y="1519.74" width="323.22" height="14.58" fill="#878787"/>
<rect x="1163.82" y="1534.02" width="42.42" height="14.58" fill="#3b3b3b"/>
<rect x="1205.94" y="1534.02" width="42.42" height="14.58" fill="#6f6f6f"/>
<rect x="1248.06" y="1534.02" width="28.38" height="14.58" fill="#a1a1a1"/>
<rect x="1276.14" y="1534.02" width="42.42" height="14.58" fill="#000"/>
<rect x="1318.26" y="1534.02" width="70.50" height="14.58" fill="#fff"/>
<rect x="1388.46" y="1534.02" width="323.22" height="14.58" fill="#878787"/>
<rect x="1177.86" y="1548.30" width="28.38" height="14.58" fill="#3b3b3b"/>
<rect x="1205.94" y="1548.30" width="28.38" height="14.58" fill="#6f6f6f"/>
<rect x="1234.02" y="1548.30" width="28.38" height="14.58" fill="#a1a1a1"/>
<rect x="1262.10" y="1548.30" width="42.42" height="14.58" fill="#000"/>
<rect x="1304.22" y="1548.30" width="84.54" height="14.58" fill="#fff"/>
<rect x="1388.46" y="1548.30" width="323.22" height="14.58" fill="#878787"/>
<rect x="1177.86" y="1562.58" width="28.38" height="14.58" fill="#3b3b3b"/>
<rect x="1205.94" y="1562.58" width="28.38" height="14.58" fill="#6f6f6f"/>
<rect x="1234.02" y="1562.58" width="28.38" height="14.58" fill="#a1a1a1"/>
<rect x="1262.10" y="1562.58" width="28.38" height="14.58" fill="#000"/>
<rect x="1290.18" y="1562.58" width="98.58" height="14.58" fill="#fff"/>
<rect x="1388.46" y="1562.58" width="323.22" height="14.58" fill="#878787"/>
<rect x="1163.82" y="1576.86" width="42.42" height="14.58" fill="#3b3b3b"/>
<rect x="1205.94" y="1576.86" width="28.38" height="14.58" fill="#6f6f6f"/>
<rect x="1234.02" y="1576.86" width="14.34" height="14.58" fill="#a1a1a1"/>
<rect x="1248.06" y="1576.86" width="42.42" height="14.58" fill="#000"/>
<rect x="1290.18" y="1576.86" width="98.58" height="14.58" fill="#fff"/>
<rect x="1388.46" y="1576.86" width="295.14" height="14.58" fill="#878787"/>
<rect x="1683.30" y="1576.86" width="28.38" height="14.58" fill="#555"/>
<rect x="1163.82" y="1591.14" width="28.38" height="14.58" fill="#3b3b3b"/>
<rect x="1191.90" y="1591.14" width="42.42" height="14.58" fill="#6f6f6f"/>
<rect x="1234.02" y="1591.14" width="28.38" height="14.58" fill="#a1a1a1"/>
<rect x="1262.10" y="1591.14" width="14.34" height="14.58" fill="#000"/>
<rect x="1276.14" y="1591.14" width="98.58" height="14.58" fill="#fff"/>
<rect x="1374.42" y="1591.14" width="309.18" height="14.58" fill="#878787"/>
<rect x="1683.30" y="1591.14" width="14.34" height="14.58" fill="#555"/>
<rect x="1697.34" y="1591.14" width="14.34" height="14.58" fill="#878787"/>
<rect x="1149.78" y="1605.42" width="42.42" height="14.58" fill="#3b3b3b"/>
<rect x="1191.90" y="1605.42" width="28.38" height="14.58" fill="#6f6f6f"/>
<rect x="1219.98" y="1605.42" width="42.42" height="14.58" fill="#a1a1a1"/>
<rect x="1262.10" y="1605.42" width="14.34" height="14.58" fill="#000"/>
<rect x="1276.14" y="1605.42" width="84.54" height="14.58" fill="#fff"/>
<rect x="1360.38" y="1605.42" width="323.22" height="14.58" fill="#878787"/>
<rect x="1683.30" y="1605.42" width="14.34" height="14.58" fill="#555"/>
<rect x="1697.34" y="1605.42" width="14.34" height="14.58" fill="#878787"/>
<rect x="1135.74" y="1619.70" width="56.46" height="14.58" fill="#3b3b3b"/>
<rect x="1191.90" y="1619.70" width="28.38" height="14.58" fill="#6f6f6f"/>
<rect x="1219.98" y="1619.70" width="28.38" height="14.58" fill="#a1a1a1"/>
<rect x="1248.06" y="1619.70" width="28.38" height="14.58" fill="#000"/>
<rect x="1276.14" y="1619.70" width="70.50" height="14.58" fill="#fff"/>
<rect x="1346.34" y="1619.70" width="365.34" height="14.58" fill="#878787"/>
</g>
<rect x="991.1" y="916.8" width="180" height="32.2" rx="4.5" fill="#000"/>
<text x="998.4" y="938.6" font-size="21.62" textLength="163.9" lengthAdjust="spacingAndGlyphs" fill="#fff" font-weight="bold">WMG Count: 0</text>
<rect x="979.7" y="904" width="750" height="749.7" fill="none" stroke="#000" stroke-width="2.6"/>
</g>
</svg></body></html>
